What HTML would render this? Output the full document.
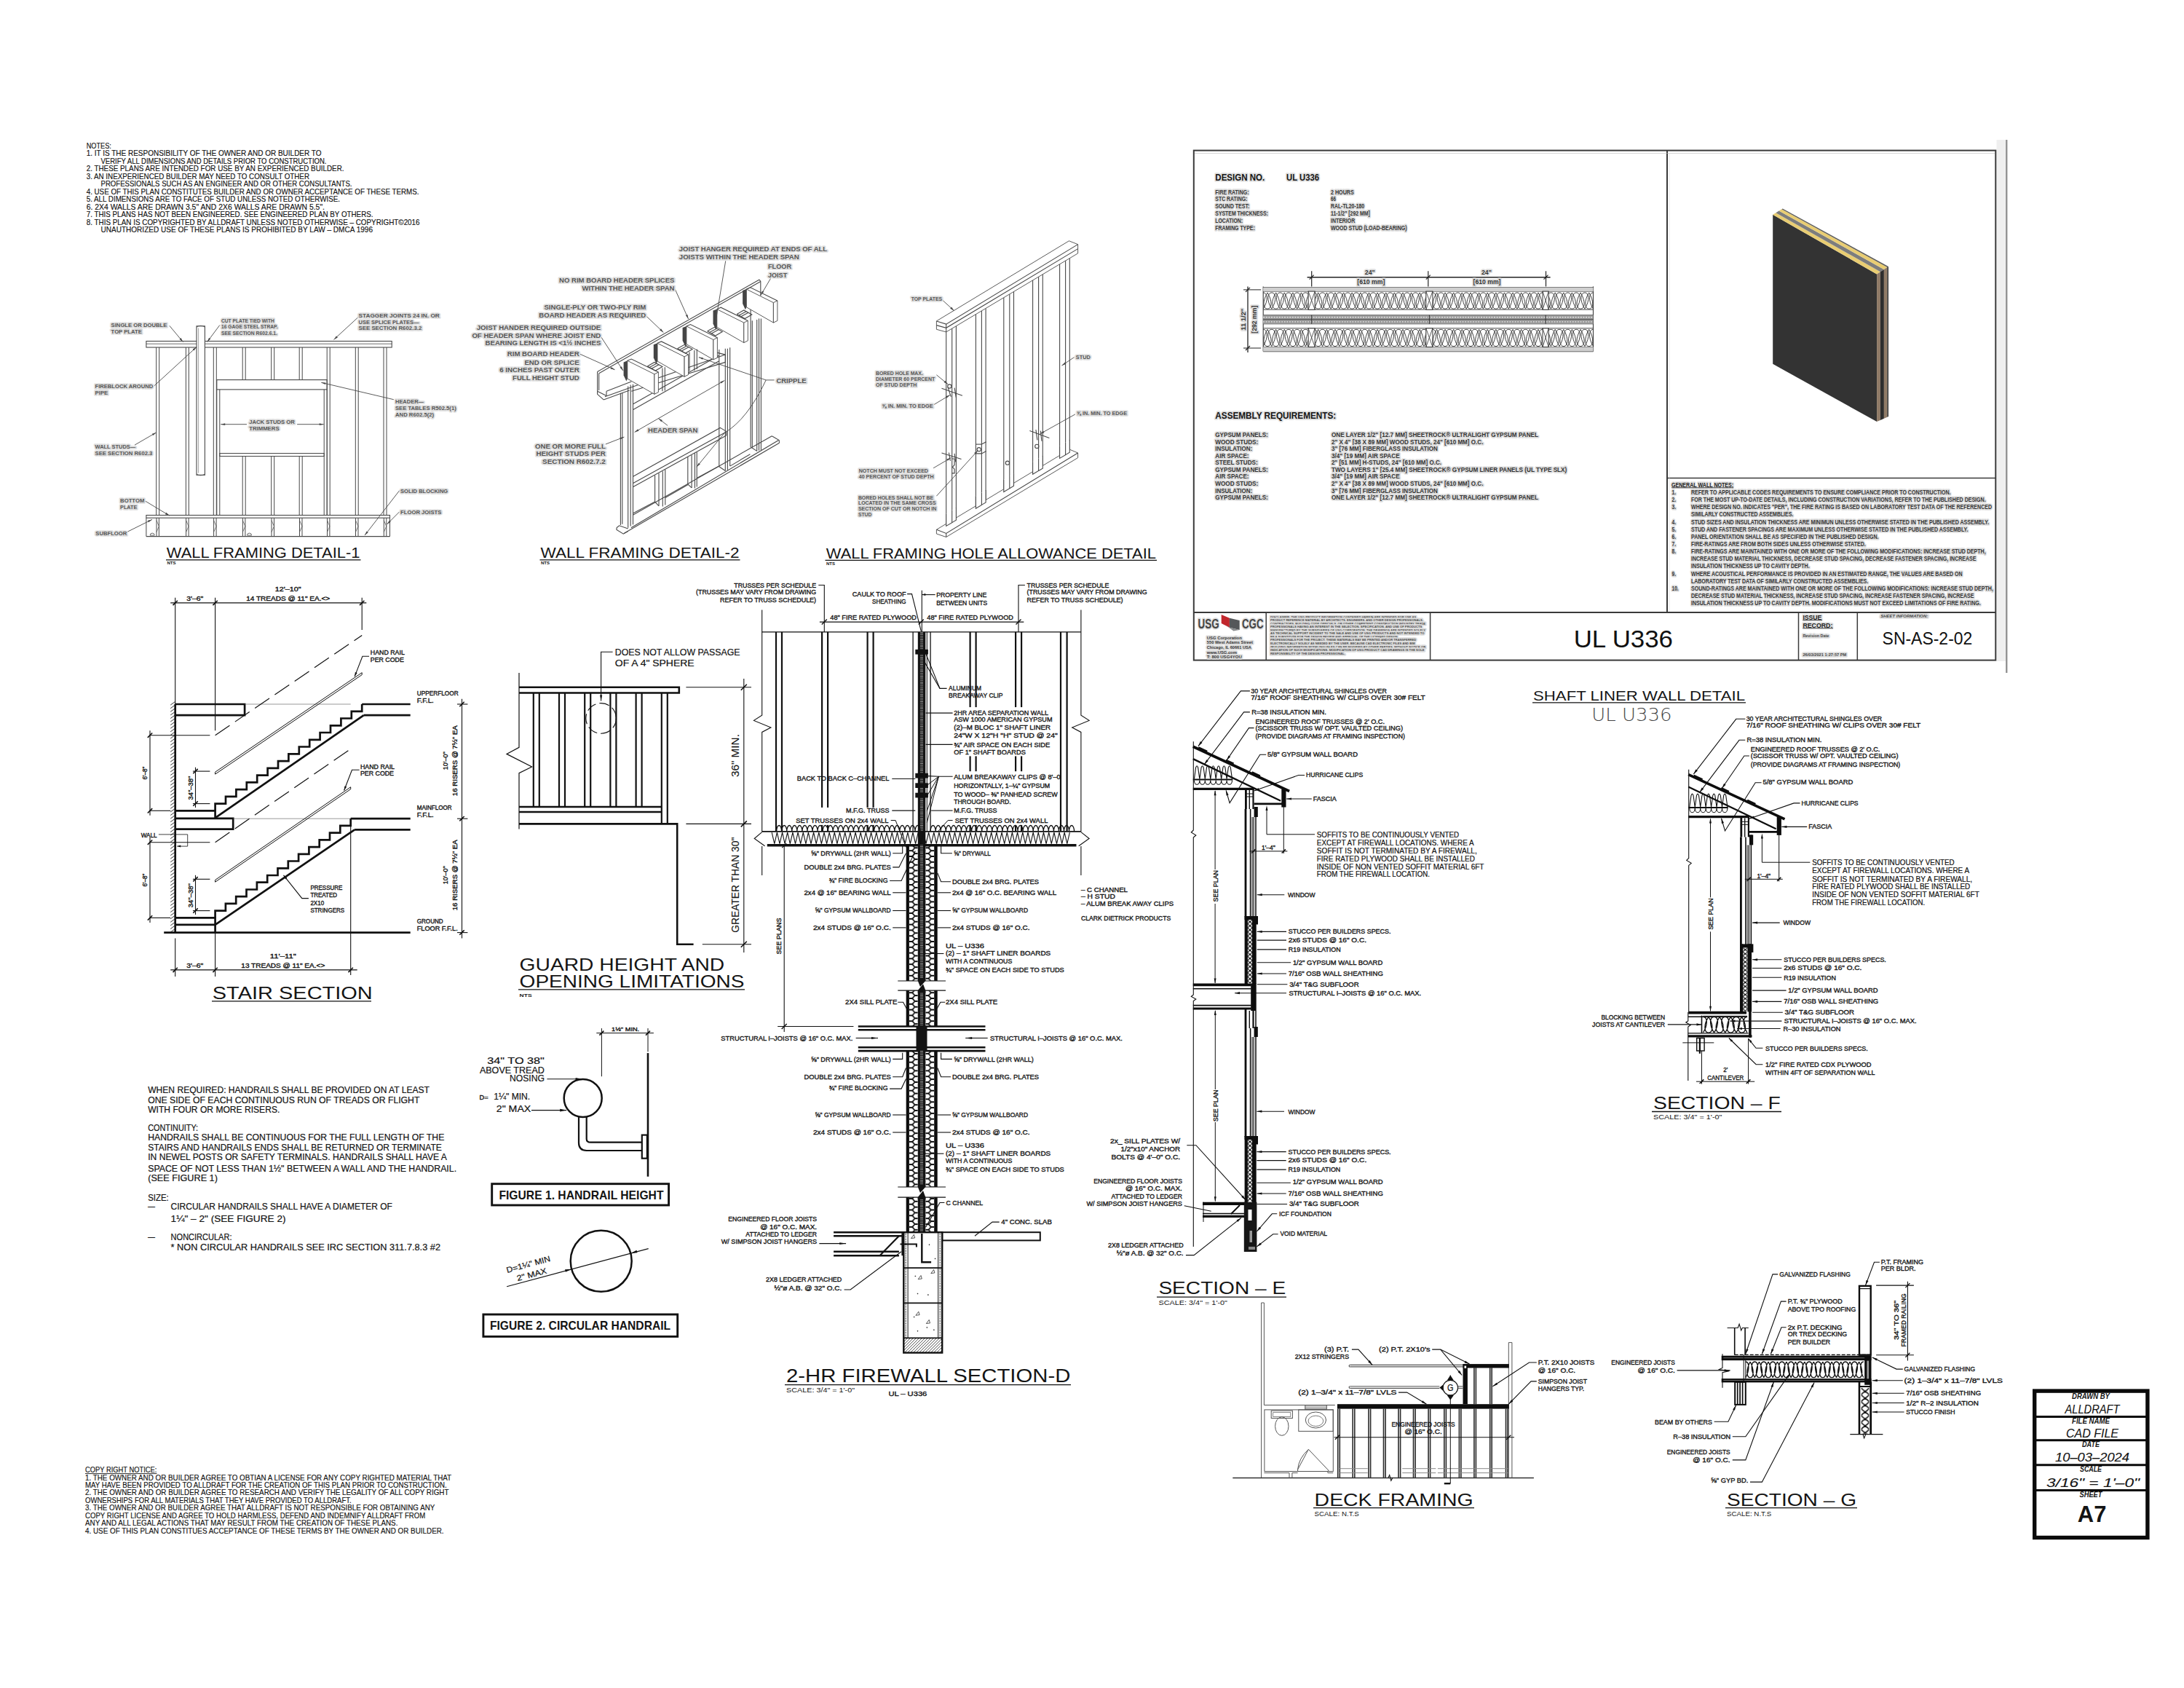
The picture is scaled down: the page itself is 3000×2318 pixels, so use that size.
<!DOCTYPE html>
<html><head><meta charset="utf-8"><title>A7 Details</title>
<style>
html,body{margin:0;padding:0;background:#fff}
svg{display:block}
text{font-family:"Liberation Sans",sans-serif;fill:#141414;stroke:#141414;stroke-width:.36px}
.nb text,text.nb,text[font-weight=bold]{stroke:none}
.ttl{stroke:none;fill:#151515}
.med text{stroke-width:.16px}
.gt text{stroke:none}
.halo text{paint-order:stroke;stroke:#dedede;stroke-width:3.6px;stroke-linejoin:round}
.thin{font-family:"DejaVu Sans","Liberation Sans",sans-serif;font-weight:200;stroke:none}
.t{font-family:"Liberation Sans",sans-serif;fill:#1a1a1a}
</style></head><body>
<svg width="3000" height="2318" viewBox="0 0 3000 2318" fill="none" stroke="#111" stroke-width="1" font-family="Liberation Sans, sans-serif">
<defs>
<pattern id="dg" width="4" height="4" patternUnits="userSpaceOnUse"><path d="M-1 5 L5 -1 M-1 1 L1 -1 M3 5 L5 3" stroke="#111" stroke-width="0.7" fill="none"/></pattern>
<pattern id="hc1" x="1248.9" y="1160.4" width="11.9" height="7.8" patternUnits="userSpaceOnUse"><path d="M0 0H4.2 L7.7 3.9 H11.9 M7.7 3.9 L4.2 7.8 M0 7.8 H4.2" stroke="#0c0c0c" stroke-width="1.8" fill="none" stroke-linejoin="round"/></pattern>
<pattern id="hc2" x="1271.3" y="1160.4" width="11.9" height="7.8" patternUnits="userSpaceOnUse"><path d="M11.9 0H7.7 L4.2 3.9 H0 M4.2 3.9 L7.7 7.8 M11.9 7.8 H7.7" stroke="#0c0c0c" stroke-width="1.8" fill="none" stroke-linejoin="round"/></pattern>
<pattern id="hc3" x="1248.9" y="1443.1" width="11.9" height="7.8" patternUnits="userSpaceOnUse"><path d="M0 0H4.2 L7.7 3.9 H11.9 M7.7 3.9 L4.2 7.8 M0 7.8 H4.2" stroke="#0c0c0c" stroke-width="1.8" fill="none" stroke-linejoin="round"/></pattern>
<pattern id="hc4" x="1271.3" y="1443.1" width="11.9" height="7.8" patternUnits="userSpaceOnUse"><path d="M11.9 0H7.7 L4.2 3.9 H0 M4.2 3.9 L7.7 7.8 M11.9 7.8 H7.7" stroke="#0c0c0c" stroke-width="1.8" fill="none" stroke-linejoin="round"/></pattern>
<pattern id="xh5" x="1713.9" y="1263" width="6.1" height="5.6" patternUnits="userSpaceOnUse"><path d="M0 0 C0.6 1.7 5.5 3.9 6.1 5.6 M6.1 0 C5.5 1.7 0.6 3.9 0 5.6" stroke="#0c0c0c" stroke-width="1.2" fill="none"/></pattern>
<pattern id="xh6" x="1713.9" y="1565" width="6.1" height="5.6" patternUnits="userSpaceOnUse"><path d="M0 0 C0.6 1.7 5.5 3.9 6.1 5.6 M6.1 0 C5.5 1.7 0.6 3.9 0 5.6" stroke="#0c0c0c" stroke-width="1.2" fill="none"/></pattern>
<pattern id="xh7" x="1713.9" y="1263" width="6.1" height="5.6" patternUnits="userSpaceOnUse"><path d="M0 0 C0.6 1.7 5.5 3.9 6.1 5.6 M6.1 0 C5.5 1.7 0.6 3.9 0 5.6" stroke="#0c0c0c" stroke-width="1.2" fill="none"/></pattern>
<pattern id="xh8" x="2556.7" y="1905.8" width="10.6" height="9.5" patternUnits="userSpaceOnUse"><path d="M0 0 C1.1 2.9 9.6 6.6 10.6 9.5 M10.6 0 C9.6 2.9 1.1 6.6 0 9.5" stroke="#0c0c0c" stroke-width="1.6" fill="none"/></pattern>
</defs>
<rect x="0" y="0" width="3000" height="2318" fill="#fff" stroke="none"/>
<g class="med">
<text x="118.7" y="203.9" font-size="10.8" textLength="34.2" lengthAdjust="spacingAndGlyphs">NOTES:</text>
<text x="118.7" y="214.4" font-size="10.8" textLength="322.8" lengthAdjust="spacingAndGlyphs">1. IT IS THE RESPONSIBILITY OF THE OWNER AND OR BUILDER TO</text>
<text x="138.5" y="224.9" font-size="10.8" textLength="310" lengthAdjust="spacingAndGlyphs">VERIFY ALL DIMENSIONS AND DETAILS PRIOR TO CONSTRUCTION.</text>
<text x="118.7" y="235.4" font-size="10.8" textLength="353.8" lengthAdjust="spacingAndGlyphs">2. THESE PLANS ARE INTENDED FOR USE BY AN EXPERIENCED BUILDER.</text>
<text x="118.7" y="245.9" font-size="10.8" textLength="306.3" lengthAdjust="spacingAndGlyphs">3. AN INEXPERIENCED BUILDER MAY NEED TO CONSULT OTHER</text>
<text x="138.5" y="256.4" font-size="10.8" textLength="345" lengthAdjust="spacingAndGlyphs">PROFESSIONALS SUCH AS AN ENGINEER AND OR OTHER CONSULTANTS.</text>
<text x="118.7" y="266.8" font-size="10.8" textLength="456.8" lengthAdjust="spacingAndGlyphs">4. USE OF THIS PLAN CONSTITUTES BUILDER AND OR OWNER ACCEPTANCE OF THESE TERMS.</text>
<text x="118.7" y="277.3" font-size="10.8" textLength="348.3" lengthAdjust="spacingAndGlyphs">5. ALL DIMENSIONS ARE TO FACE OF STUD UNLESS NOTED OTHERWISE.</text>
<text x="118.7" y="287.8" font-size="10.8" textLength="327.3" lengthAdjust="spacingAndGlyphs">6. 2X4 WALLS ARE DRAWN 3.5" AND 2X6 WALLS ARE DRAWN 5.5".</text>
<text x="118.7" y="298.3" font-size="10.8" textLength="393.8" lengthAdjust="spacingAndGlyphs">7. THIS PLANS HAS NOT BEEN ENGINEERED. SEE ENGINEERED PLAN BY OTHERS.</text>
<text x="118.7" y="308.8" font-size="10.8" textLength="457.9" lengthAdjust="spacingAndGlyphs">8. THIS PLAN IS COPYRIGHTED BY ALLDRAFT UNLESS NOTED OTHERWISE – COPYRIGHT©2016</text>
<text x="138.5" y="319.3" font-size="10.8" textLength="373.5" lengthAdjust="spacingAndGlyphs">UNAUTHORIZED USE OF THESE PLANS IS PROHIBITED BY LAW – DMCA 1996</text>
</g>
<g class="med">
<text x="117" y="2022" font-size="10.8" textLength="98.4" lengthAdjust="spacingAndGlyphs">COPY RIGHT NOTICE:</text>
<text x="117" y="2032.5" font-size="10.8" textLength="503.1" lengthAdjust="spacingAndGlyphs">1. THE OWNER AND OR BUILDER AGREE TO OBTIAN A LICENSE FOR ANY COPY RIGHTED MATERIAL THAT</text>
<text x="117" y="2043" font-size="10.8" textLength="496.7" lengthAdjust="spacingAndGlyphs">MAY HAVE BEEN PROVIDED TO ALLDRAFT FOR THE CREATION OF THIS PLAN PRIOR TO CONSTRUCTION.</text>
<text x="117" y="2053.4" font-size="10.8" textLength="499.5" lengthAdjust="spacingAndGlyphs">2. THE OWNER AND OR BUILDER AGREE TO RESEARCH AND VERIFY THE LEGALITY OF ALL COPY RIGHT</text>
<text x="117" y="2063.9" font-size="10.8" textLength="365.7" lengthAdjust="spacingAndGlyphs">OWNERSHIPS FOR ALL MATERIALS THAT THEY HAVE PROVIDED TO ALLDRAFT.</text>
<text x="117" y="2074.4" font-size="10.8" textLength="480.3" lengthAdjust="spacingAndGlyphs">3. THE OWNER AND OR BUILDER AGREE THAT ALLDRAFT IS NOT RESPONSIBLE FOR OBTAINING ANY</text>
<text x="117" y="2084.9" font-size="10.8" textLength="467.3" lengthAdjust="spacingAndGlyphs">COPY RIGHT LICENSE AND AGREE TO HOLD HARMLESS, DEFEND AND INDEMNIFY ALLDRAFT FROM</text>
<text x="117" y="2095.4" font-size="10.8" textLength="429.4" lengthAdjust="spacingAndGlyphs">ANY AND ALL LEGAL ACTIONS THAT MAY RESULT FROM THE CREATION OF THESE PLANS.</text>
<text x="117" y="2105.8" font-size="10.8" textLength="492.6" lengthAdjust="spacingAndGlyphs">4. USE OF THIS PLAN CONSTITUES ACCEPTANCE OF THESE TERMS BY THE OWNER AND OR BUILDER.</text>
</g>
<line x1="117" y1="2023.6" x2="215.4" y2="2023.6" stroke-width="0.9"/>
<rect x="2794.7" y="1910.1" width="155.2" height="201.4" stroke-width="5.4" stroke="#0a0a0a"/>
<line x1="2794.7" y1="1945.5" x2="2949.9" y2="1945.5" stroke-width="3" stroke="#0a0a0a"/>
<line x1="2794.7" y1="1977.8" x2="2949.9" y2="1977.8" stroke-width="3" stroke="#0a0a0a"/>
<line x1="2794.7" y1="2011.7" x2="2949.9" y2="2011.7" stroke-width="3" stroke="#0a0a0a"/>
<line x1="2794.7" y1="2046.4" x2="2949.9" y2="2046.4" stroke-width="3" stroke="#0a0a0a"/>
<text x="2872" y="1920.8" font-size="10" textLength="52" lengthAdjust="spacingAndGlyphs" text-anchor="middle" font-weight="bold" font-style="italic">DRAWN BY</text>
<text x="2874" y="1940.9" font-size="16" textLength="75" lengthAdjust="spacingAndGlyphs" text-anchor="middle" font-style="italic" style="stroke-width:.12px">ALLDRAFT</text>
<text x="2872" y="1954.7" font-size="10" textLength="52" lengthAdjust="spacingAndGlyphs" text-anchor="middle" font-weight="bold" font-style="italic">FILE NAME</text>
<text x="2874" y="1973.7" font-size="16" textLength="72" lengthAdjust="spacingAndGlyphs" text-anchor="middle" font-style="italic" style="stroke-width:.12px">CAD FILE</text>
<text x="2872" y="1987" font-size="10" textLength="24" lengthAdjust="spacingAndGlyphs" text-anchor="middle" font-weight="bold" font-style="italic">DATE</text>
<text x="2874" y="2006.7" font-size="16" textLength="102" lengthAdjust="spacingAndGlyphs" text-anchor="middle" font-style="italic" style="stroke-width:.12px">10–03–2024</text>
<text x="2872" y="2021" font-size="10" textLength="30" lengthAdjust="spacingAndGlyphs" text-anchor="middle" font-weight="bold" font-style="italic">SCALE</text>
<text x="2875" y="2041.8" font-size="16" textLength="128" lengthAdjust="spacingAndGlyphs" text-anchor="middle" font-style="italic" style="stroke-width:.12px">3/16" = 1'–0"</text>
<text x="2872" y="2055.7" font-size="10" textLength="31" lengthAdjust="spacingAndGlyphs" text-anchor="middle" font-weight="bold" font-style="italic">SHEET</text>
<text x="2873.6" y="2089.5" font-size="32" textLength="39.5" lengthAdjust="spacingAndGlyphs" text-anchor="middle" font-weight="bold">A7</text>
<g stroke="#3a3a3a" stroke-width="1">
<line x1="234.2" y1="968.1" x2="240.7" y2="963.4"/>
<line x1="234.2" y1="972.7" x2="240.7" y2="968"/>
<line x1="234.2" y1="977.3" x2="240.7" y2="972.6"/>
<line x1="234.2" y1="981.9" x2="240.7" y2="977.2"/>
<line x1="234.2" y1="986.5" x2="240.7" y2="981.8"/>
<line x1="234.2" y1="991" x2="240.7" y2="986.4"/>
<line x1="234.2" y1="995.6" x2="240.7" y2="990.9"/>
<line x1="234.2" y1="1000.2" x2="240.7" y2="995.5"/>
<line x1="234.2" y1="1004.8" x2="240.7" y2="1000.1"/>
<line x1="234.2" y1="1009.4" x2="240.7" y2="1004.7"/>
<line x1="234.2" y1="1014" x2="240.7" y2="1009.3"/>
<line x1="234.2" y1="1018.6" x2="240.7" y2="1013.9"/>
<line x1="234.2" y1="1023.2" x2="240.7" y2="1018.5"/>
<line x1="234.2" y1="1027.8" x2="240.7" y2="1023.1"/>
<line x1="234.2" y1="1032.3" x2="240.7" y2="1027.6"/>
<line x1="234.2" y1="1036.9" x2="240.7" y2="1032.2"/>
<line x1="234.2" y1="1041.5" x2="240.7" y2="1036.8"/>
<line x1="234.2" y1="1046.1" x2="240.7" y2="1041.4"/>
<line x1="234.2" y1="1050.7" x2="240.7" y2="1046"/>
<line x1="234.2" y1="1055.3" x2="240.7" y2="1050.6"/>
<line x1="234.2" y1="1059.9" x2="240.7" y2="1055.2"/>
<line x1="234.2" y1="1064.5" x2="240.7" y2="1059.8"/>
<line x1="234.2" y1="1069" x2="240.7" y2="1064.3"/>
<line x1="234.2" y1="1073.6" x2="240.7" y2="1068.9"/>
<line x1="234.2" y1="1078.2" x2="240.7" y2="1073.5"/>
<line x1="234.2" y1="1082.8" x2="240.7" y2="1078.1"/>
<line x1="234.2" y1="1087.4" x2="240.7" y2="1082.7"/>
<line x1="234.2" y1="1092" x2="240.7" y2="1087.3"/>
<line x1="234.2" y1="1096.6" x2="240.7" y2="1091.9"/>
<line x1="234.2" y1="1101.2" x2="240.7" y2="1096.5"/>
<line x1="234.2" y1="1105.8" x2="240.7" y2="1101.1"/>
<line x1="234.2" y1="1110.3" x2="240.7" y2="1105.6"/>
<line x1="234.2" y1="1114.9" x2="240.7" y2="1110.2"/>
<line x1="234.2" y1="1119.5" x2="240.7" y2="1114.8"/>
<line x1="234.2" y1="1124.1" x2="240.7" y2="1119.4"/>
<line x1="234.2" y1="1128.7" x2="240.7" y2="1124"/>
<line x1="234.2" y1="1133.3" x2="240.7" y2="1128.6"/>
<line x1="234.2" y1="1137.9" x2="240.7" y2="1133.2"/>
<line x1="234.2" y1="1142.5" x2="240.7" y2="1137.8"/>
<line x1="234.2" y1="1147" x2="240.7" y2="1142.3"/>
<line x1="234.2" y1="1151.6" x2="240.7" y2="1146.9"/>
<line x1="234.2" y1="1156.2" x2="240.7" y2="1151.5"/>
<line x1="234.2" y1="1160.8" x2="240.7" y2="1156.1"/>
<line x1="234.2" y1="1165.4" x2="240.7" y2="1160.7"/>
<line x1="234.2" y1="1170" x2="240.7" y2="1165.3"/>
<line x1="234.2" y1="1174.6" x2="240.7" y2="1169.9"/>
<line x1="234.2" y1="1179.2" x2="240.7" y2="1174.5"/>
<line x1="234.2" y1="1183.8" x2="240.7" y2="1179.1"/>
<line x1="234.2" y1="1188.3" x2="240.7" y2="1183.6"/>
<line x1="234.2" y1="1192.9" x2="240.7" y2="1188.2"/>
<line x1="234.2" y1="1197.5" x2="240.7" y2="1192.8"/>
<line x1="234.2" y1="1202.1" x2="240.7" y2="1197.4"/>
<line x1="234.2" y1="1206.7" x2="240.7" y2="1202"/>
<line x1="234.2" y1="1211.3" x2="240.7" y2="1206.6"/>
<line x1="234.2" y1="1215.9" x2="240.7" y2="1211.2"/>
<line x1="234.2" y1="1220.5" x2="240.7" y2="1215.8"/>
<line x1="234.2" y1="1225" x2="240.7" y2="1220.3"/>
<line x1="234.2" y1="1229.6" x2="240.7" y2="1224.9"/>
<line x1="234.2" y1="1234.2" x2="240.7" y2="1229.5"/>
<line x1="234.2" y1="1238.8" x2="240.7" y2="1234.1"/>
<line x1="234.2" y1="1243.4" x2="240.7" y2="1238.7"/>
<line x1="234.2" y1="1248" x2="240.7" y2="1243.3"/>
<line x1="234.2" y1="1252.6" x2="240.7" y2="1247.9"/>
<line x1="234.2" y1="1257.2" x2="240.7" y2="1252.5"/>
<line x1="234.2" y1="1261.7" x2="240.7" y2="1257.1"/>
<line x1="234.2" y1="1266.3" x2="240.7" y2="1261.6"/>
<line x1="234.2" y1="1270.9" x2="240.7" y2="1266.2"/>
<line x1="234.2" y1="1275.5" x2="240.7" y2="1270.8"/>
<line x1="234.2" y1="1280.1" x2="240.7" y2="1275.4"/>
</g>
<line x1="240.7" y1="967" x2="240.7" y2="1280.6" stroke-width="2.7"/>
<line x1="234.2" y1="827.9" x2="503.3" y2="827.9" stroke-width="1.1"/>
<line x1="237.5" y1="831.1" x2="243.9" y2="824.7" stroke-width="1.6"/>
<line x1="292.4" y1="831.1" x2="298.8" y2="824.7" stroke-width="1.6"/>
<line x1="494" y1="831.1" x2="500.4" y2="824.7" stroke-width="1.6"/>
<line x1="240.7" y1="820.7" x2="240.7" y2="967" stroke-width="1.1"/>
<line x1="295.6" y1="820.7" x2="295.6" y2="1003.2" stroke-width="1.1"/>
<line x1="497.2" y1="820.7" x2="497.2" y2="865.1" stroke-width="1.1"/>
<text x="267.8" y="825" font-size="8.6" textLength="23" lengthAdjust="spacingAndGlyphs" text-anchor="middle">3'–6"</text>
<text x="395.7" y="811.7" font-size="8.6" textLength="36" lengthAdjust="spacingAndGlyphs" text-anchor="middle">12'–10"</text>
<text x="395.7" y="825" font-size="8.6" textLength="115" lengthAdjust="spacingAndGlyphs" text-anchor="middle">14 TREADS @ 11" EA.&lt;&gt;</text>
<polyline points="240.7,967 336.1,967 336.1,982.2 240.7,982.2" stroke-width="2.7"/>
<line x1="336.1" y1="967" x2="481.7" y2="967" stroke-width="0.6" stroke="#555"/>
<polyline points="497.2,967 563.7,967" stroke-width="2.7"/>
<polyline points="499.7,982.2 563.7,982.2" stroke-width="2.7"/>
<polyline points="295.6,1113.3 295.6,1103.6 310,1103.6 310,1093.8 324.4,1093.8 324.4,1084.1 338.8,1084.1 338.8,1074.3 353.2,1074.3 353.2,1064.6 367.6,1064.6 367.6,1054.8 382,1054.8 382,1045.1 396.4,1045.1 396.4,1035.3 410.8,1035.3 410.8,1025.5 425.2,1025.5 425.2,1015.8 439.6,1015.8 439.6,1006 454,1006 454,996.3 468.4,996.3 468.4,986.5 482.8,986.5 482.8,976.8 497.2,976.8 497.2,967" stroke-width="2.7"/>
<polyline points="295.6,1123.1 499.7,982.2" stroke-width="2.7"/>
<polyline points="240.7,1113.3 295.6,1113.3 295.6,1123.8" stroke-width="2.7"/>
<polyline points="240.7,1123.8 320.2,1123.8 320.2,1138.6 240.7,1138.6" stroke-width="2.7"/>
<line x1="320.2" y1="1124.2" x2="563.7" y2="1124.2" stroke-width="0.6" stroke="#555"/>
<polyline points="481.7,1124.2 563.7,1124.2" stroke-width="2.7"/>
<polyline points="487.1,1139.3 563.7,1139.3" stroke-width="2.7"/>
<polyline points="295.6,1260.4 295.6,1250.6 309.9,1250.6 309.9,1240.9 324.2,1240.9 324.2,1231.2 338.5,1231.2 338.5,1221.5 352.9,1221.5 352.9,1211.7 367.2,1211.7 367.2,1202 381.5,1202 381.5,1192.3 395.8,1192.3 395.8,1182.5 410.1,1182.5 410.1,1172.8 424.4,1172.8 424.4,1163.1 438.7,1163.1 438.7,1153.4 453,1153.4 453,1143.6 467.3,1143.6 467.3,1133.9 481.7,1133.9 481.7,1124.2" stroke-width="2.7"/>
<polyline points="295.6,1269.8 487.1,1139.3" stroke-width="2.7"/>
<polyline points="240.7,1260.4 295.6,1260.4 295.6,1280.6" stroke-width="2.7"/>
<line x1="240.7" y1="1269.8" x2="295.6" y2="1269.8" stroke-width="2.7"/>
<line x1="225.2" y1="1280.6" x2="563.7" y2="1280.6" stroke-width="2.9"/>
<line x1="481.7" y1="1124.2" x2="481.7" y2="1339.1" stroke-width="1.1"/>
<polygon points="295.6,1060.2 497.2,923.7 497.2,926.6 295.6,1063.1"/>
<polygon points="295.6,1208.4 481.7,1080.8 481.7,1083.7 295.6,1211.2"/>
<line x1="295.6" y1="1009.7" x2="497.2" y2="872.4" stroke-width="1.2" stroke-dasharray="24 9"/>
<line x1="295.6" y1="1156.7" x2="481.7" y2="1028.4" stroke-width="1.2" stroke-dasharray="24 9"/>
<line x1="205.3" y1="1009.7" x2="288.4" y2="1009.7" stroke-width="1.1"/>
<line x1="205.3" y1="1113.3" x2="234.2" y2="1113.3" stroke-width="1.1"/>
<line x1="205.3" y1="1156.7" x2="288.4" y2="1156.7" stroke-width="1.1"/>
<line x1="205.3" y1="1260.4" x2="234.2" y2="1260.4" stroke-width="1.1"/>
<line x1="206" y1="1003.2" x2="206" y2="1119.8" stroke-width="1.1"/>
<line x1="202.8" y1="1012.9" x2="209.2" y2="1006.5" stroke-width="1.6"/>
<line x1="202.8" y1="1116.5" x2="209.2" y2="1110.1" stroke-width="1.6"/>
<text x="202.4" y="1061.5" font-size="8.6" textLength="18" lengthAdjust="spacingAndGlyphs" text-anchor="middle" transform="rotate(-90 202.4 1061.5)">6'–8"</text>
<line x1="206" y1="1150.2" x2="206" y2="1266.9" stroke-width="1.1"/>
<line x1="202.8" y1="1159.9" x2="209.2" y2="1153.5" stroke-width="1.6"/>
<line x1="202.8" y1="1263.6" x2="209.2" y2="1257.2" stroke-width="1.6"/>
<text x="202.4" y="1208.5" font-size="8.6" textLength="18" lengthAdjust="spacingAndGlyphs" text-anchor="middle" transform="rotate(-90 202.4 1208.5)">6'–8"</text>
<line x1="268.5" y1="1053.7" x2="268.5" y2="1109" stroke-width="1.1"/>
<line x1="265.3" y1="1062.3" x2="271.7" y2="1055.9" stroke-width="1.6"/>
<line x1="265.3" y1="1106.8" x2="271.7" y2="1100.4" stroke-width="1.6"/>
<line x1="264.9" y1="1059.1" x2="288.4" y2="1059.1" stroke-width="1.1"/>
<line x1="264.9" y1="1103.6" x2="288.4" y2="1103.6" stroke-width="1.1"/>
<text x="265.3" y="1082.1" font-size="8.6" textLength="33" lengthAdjust="spacingAndGlyphs" text-anchor="middle" transform="rotate(-90 265.3 1082.1)">34"–38"</text>
<line x1="268.5" y1="1201.8" x2="268.5" y2="1256" stroke-width="1.1"/>
<line x1="265.3" y1="1210.5" x2="271.7" y2="1204.1" stroke-width="1.6"/>
<line x1="265.3" y1="1253.8" x2="271.7" y2="1247.4" stroke-width="1.6"/>
<line x1="264.9" y1="1207.3" x2="288.4" y2="1207.3" stroke-width="1.1"/>
<line x1="264.9" y1="1250.6" x2="288.4" y2="1250.6" stroke-width="1.1"/>
<text x="265.3" y="1229.7" font-size="8.6" textLength="33" lengthAdjust="spacingAndGlyphs" text-anchor="middle" transform="rotate(-90 265.3 1229.7)">34"–38"</text>
<line x1="634.5" y1="959.8" x2="634.5" y2="1288.6" stroke-width="1.1"/>
<line x1="631.3" y1="970.2" x2="637.7" y2="963.8" stroke-width="1.6"/>
<line x1="628" y1="967" x2="642.4" y2="967" stroke-width="1.1"/>
<line x1="631.3" y1="1127.4" x2="637.7" y2="1121" stroke-width="1.6"/>
<line x1="628" y1="1124.2" x2="642.4" y2="1124.2" stroke-width="1.1"/>
<line x1="631.3" y1="1283.8" x2="637.7" y2="1277.4" stroke-width="1.6"/>
<line x1="628" y1="1280.6" x2="642.4" y2="1280.6" stroke-width="1.1"/>
<text x="615.3" y="1044.7" font-size="8.6" textLength="25" lengthAdjust="spacingAndGlyphs" text-anchor="middle" transform="rotate(-90 615.3 1044.7)">10'–0"</text>
<text x="628" y="1044.7" font-size="8.6" textLength="97" lengthAdjust="spacingAndGlyphs" text-anchor="middle" transform="rotate(-90 628 1044.7)">16 RISERS @ 7½" EA</text>
<text x="615.3" y="1201.8" font-size="8.6" textLength="25" lengthAdjust="spacingAndGlyphs" text-anchor="middle" transform="rotate(-90 615.3 1201.8)">10'–0"</text>
<text x="628" y="1201.8" font-size="8.6" textLength="97" lengthAdjust="spacingAndGlyphs" text-anchor="middle" transform="rotate(-90 628 1201.8)">16 RISERS @ 7½" EA</text>
<text x="572.7" y="955.1" font-size="8.6" textLength="57" lengthAdjust="spacingAndGlyphs">UPPERFLOOR</text>
<text x="572.7" y="964.9" font-size="8.6" textLength="23" lengthAdjust="spacingAndGlyphs">F.F.L.</text>
<text x="572.7" y="1112.3" font-size="8.6" textLength="48" lengthAdjust="spacingAndGlyphs">MAINFLOOR</text>
<text x="572.7" y="1122" font-size="8.6" textLength="23" lengthAdjust="spacingAndGlyphs">F.F.L.</text>
<text x="572.7" y="1267.6" font-size="8.6" textLength="36" lengthAdjust="spacingAndGlyphs">GROUND</text>
<text x="572.7" y="1277.7" font-size="8.6" textLength="56" lengthAdjust="spacingAndGlyphs">FLOOR F.F.L.</text>
<text x="508.8" y="899.1" font-size="8.6" textLength="47" lengthAdjust="spacingAndGlyphs">HAND RAIL</text>
<text x="508.8" y="909.2" font-size="8.6" textLength="46" lengthAdjust="spacingAndGlyphs">PER CODE</text>
<polyline points="507,901.3 497.9,901.3 487.1,929.1" stroke-width="1.1"/>
<polygon points="487.1,929.1 487.9,923 490.7,924" fill="#111" stroke="none"/>
<text x="495" y="1055.5" font-size="8.6" textLength="47" lengthAdjust="spacingAndGlyphs">HAND RAIL</text>
<text x="495" y="1065.3" font-size="8.6" textLength="46" lengthAdjust="spacingAndGlyphs">PER CODE</text>
<polyline points="493.6,1057.3 483.5,1057.3 472.6,1085.5" stroke-width="1.1"/>
<polygon points="472.6,1085.5 473.4,1079.4 476.2,1080.5" fill="#111" stroke="none"/>
<text x="426.4" y="1222.4" font-size="8.6" textLength="44" lengthAdjust="spacingAndGlyphs">PRESSURE</text>
<text x="426.4" y="1232.4" font-size="8.6" textLength="36.7" lengthAdjust="spacingAndGlyphs">TREATED</text>
<text x="426.4" y="1242.5" font-size="8.6" textLength="18.7" lengthAdjust="spacingAndGlyphs">2X10</text>
<text x="426.4" y="1252.5" font-size="8.6" textLength="46.7" lengthAdjust="spacingAndGlyphs">STRINGERS</text>
<polyline points="423.9,1233.6 414.8,1233.6 389.5,1201.8" stroke-width="1.1"/>
<polygon points="389.5,1201.8 394.4,1205.6 392.1,1207.5" fill="#111" stroke="none"/>
<text x="193.7" y="1149.5" font-size="8.6" textLength="22" lengthAdjust="spacingAndGlyphs">WALL</text>
<polyline points="217.9,1145.9 257.7,1145.9 257.7,1162.1 243.2,1162.1" stroke-width="0.8"/>
<polygon points="243.2,1162.1 248.2,1160.6 248.2,1163.6" fill="#111" stroke="none"/>
<line x1="234.2" y1="1331.9" x2="490.7" y2="1331.9" stroke-width="1.1"/>
<line x1="237.5" y1="1335.1" x2="243.9" y2="1328.7" stroke-width="1.6"/>
<line x1="292.4" y1="1335.1" x2="298.8" y2="1328.7" stroke-width="1.6"/>
<line x1="478.5" y1="1335.1" x2="484.9" y2="1328.7" stroke-width="1.6"/>
<line x1="240.7" y1="1288.6" x2="240.7" y2="1340.9" stroke-width="1.1"/>
<line x1="295.6" y1="1280.6" x2="295.6" y2="1340.9" stroke-width="1.1"/>
<text x="267.8" y="1329" font-size="8.6" textLength="23" lengthAdjust="spacingAndGlyphs" text-anchor="middle">3'–6"</text>
<text x="388.8" y="1316.4" font-size="8.6" textLength="36" lengthAdjust="spacingAndGlyphs" text-anchor="middle">11'–11"</text>
<text x="388.8" y="1329" font-size="8.6" textLength="115" lengthAdjust="spacingAndGlyphs" text-anchor="middle">13 TREADS @ 11" EA.&lt;&gt;</text>
<text x="291.8" y="1371.7" font-size="24" textLength="220" lengthAdjust="spacingAndGlyphs" class="ttl">STAIR SECTION</text>
<line x1="291" y1="1374.8" x2="510" y2="1374.8" stroke-width="1.3"/>
<polyline points="713,924 713,1026.4 696,1035.4 730.6,1053 713,1061.6 713,1138.4" stroke-width="1.2"/>
<polyline points="713,943.8 932.8,943.8 932.8,951.5 713,951.5" stroke-width="2.6"/>
<line x1="713" y1="1108" x2="908.8" y2="1108" stroke-width="2.6"/>
<line x1="713" y1="1115" x2="908.8" y2="1115" stroke-width="2.6"/>
<polyline points="713,1131.4 930.2,1131.4 930.2,1296.8 952.6,1296.8" stroke-width="2.6"/>
<line x1="732.8" y1="951.5" x2="732.8" y2="1108" stroke-width="2.2"/>
<line x1="740.8" y1="951.5" x2="740.8" y2="1108" stroke-width="2.2"/>
<line x1="768" y1="951.5" x2="768" y2="1108" stroke-width="2.2"/>
<line x1="776" y1="951.5" x2="776" y2="1108" stroke-width="2.2"/>
<line x1="803.2" y1="951.5" x2="803.2" y2="1108" stroke-width="2.2"/>
<line x1="811.2" y1="951.5" x2="811.2" y2="1108" stroke-width="2.2"/>
<line x1="838.4" y1="951.5" x2="838.4" y2="1108" stroke-width="2.2"/>
<line x1="846.4" y1="951.5" x2="846.4" y2="1108" stroke-width="2.2"/>
<line x1="873.6" y1="951.5" x2="873.6" y2="1108" stroke-width="2.2"/>
<line x1="881.6" y1="951.5" x2="881.6" y2="1108" stroke-width="2.2"/>
<line x1="908.8" y1="951.5" x2="908.8" y2="1131.4" stroke-width="2.2"/>
<line x1="916.8" y1="951.5" x2="916.8" y2="1131.4" stroke-width="2.2"/>
<circle cx="825.6" cy="986.4" r="20.8" stroke-width="1.1" stroke-dasharray="14 5"/>
<polyline points="841.6,895.2 825.6,895.2 825.6,962.4" stroke-width="1.1"/>
<polygon points="825.6,962.4 824,954.4 827.2,954.4" fill="#111" stroke="none"/>
<text x="844.8" y="900" font-size="13.2" textLength="171.8" lengthAdjust="spacingAndGlyphs" style="stroke-width:.22px">DOES NOT ALLOW PASSAGE</text>
<text x="844.8" y="915.4" font-size="13.2" textLength="108.8" lengthAdjust="spacingAndGlyphs" style="stroke-width:.22px">OF A 4" SPHERE</text>
<line x1="1021.8" y1="932" x2="1021.8" y2="1308" stroke-width="1.1"/>
<line x1="942.4" y1="943.8" x2="1032" y2="943.8" stroke-width="1.1"/>
<line x1="1017.8" y1="947.8" x2="1025.8" y2="939.8" stroke-width="1.6"/>
<line x1="942.4" y1="1131.4" x2="1032" y2="1131.4" stroke-width="1.1"/>
<line x1="1017.8" y1="1135.4" x2="1025.8" y2="1127.4" stroke-width="1.6"/>
<line x1="964.8" y1="1296.8" x2="1032" y2="1296.8" stroke-width="1.1"/>
<line x1="1017.8" y1="1300.8" x2="1025.8" y2="1292.8" stroke-width="1.6"/>
<text x="1014.7" y="1037.6" font-size="15" textLength="59" lengthAdjust="spacingAndGlyphs" text-anchor="middle" style="stroke-width:.12px" transform="rotate(-90 1014.7 1037.6)">36" MIN.</text>
<text x="1014.7" y="1215.2" font-size="15" textLength="131" lengthAdjust="spacingAndGlyphs" text-anchor="middle" style="stroke-width:.12px" transform="rotate(-90 1014.7 1215.2)">GREATER THAN 30"</text>
<text x="713.6" y="1333" font-size="24" textLength="281.6" lengthAdjust="spacingAndGlyphs" class="ttl">GUARD HEIGHT AND</text>
<text x="713.6" y="1356" font-size="24" textLength="308.8" lengthAdjust="spacingAndGlyphs" class="ttl">OPENING LIMITATIONS</text>
<line x1="712" y1="1358.8" x2="1023" y2="1358.8" stroke-width="1.3"/>
<text x="713.6" y="1369" font-size="6" textLength="17" lengthAdjust="spacingAndGlyphs" font-weight="bold">NTS</text>
<text x="203.2" y="1501.4" font-size="13" textLength="386.8" lengthAdjust="spacingAndGlyphs" style="stroke-width:.22px">WHEN REQUIRED: HANDRAILS SHALL BE PROVIDED ON AT LEAST</text>
<text x="203.2" y="1514.6" font-size="13" textLength="373.2" lengthAdjust="spacingAndGlyphs" style="stroke-width:.22px">ONE SIDE OF EACH CONTINUOUS RUN OF TREADS OR FLIGHT</text>
<text x="203.2" y="1527.5" font-size="13" textLength="181.1" lengthAdjust="spacingAndGlyphs" style="stroke-width:.22px">WITH FOUR OR MORE RISERS.</text>
<text x="203.2" y="1553.2" font-size="13" textLength="68.9" lengthAdjust="spacingAndGlyphs" style="stroke-width:.22px">CONTINUITY:</text>
<text x="203.2" y="1566.4" font-size="13" textLength="407.1" lengthAdjust="spacingAndGlyphs" style="stroke-width:.22px">HANDRAILS SHALL BE CONTINUOUS FOR THE FULL LENGTH OF THE</text>
<text x="203.2" y="1580" font-size="13" textLength="403.6" lengthAdjust="spacingAndGlyphs" style="stroke-width:.22px">STAIRS AND HANDRAILS ENDS SHALL BE RETURNED OR TERMINATE</text>
<text x="203.2" y="1592.5" font-size="13" textLength="410.7" lengthAdjust="spacingAndGlyphs" style="stroke-width:.22px">IN NEWEL POSTS OR SAFETY TERMINALS. HANDRAILS SHALL HAVE A</text>
<text x="203.2" y="1608.6" font-size="13" textLength="423.9" lengthAdjust="spacingAndGlyphs" style="stroke-width:.22px">SPACE OF NOT LESS THAN 1½" BETWEEN A WALL AND THE HANDRAIL.</text>
<text x="203.2" y="1622.1" font-size="13" textLength="95.7" lengthAdjust="spacingAndGlyphs" style="stroke-width:.22px">(SEE FIGURE 1)</text>
<text x="203.2" y="1648.6" font-size="13" textLength="28.6" lengthAdjust="spacingAndGlyphs" style="stroke-width:.22px">SIZE:</text>
<text x="203.2" y="1661.4" font-size="13" textLength="9.6" lengthAdjust="spacingAndGlyphs" style="stroke-width:.22px">–</text>
<text x="234.6" y="1661.4" font-size="13" textLength="304.3" lengthAdjust="spacingAndGlyphs" style="stroke-width:.22px">CIRCULAR HANDRAILS SHALL HAVE A DIAMETER OF</text>
<text x="234.6" y="1677.5" font-size="13" textLength="157.9" lengthAdjust="spacingAndGlyphs" style="stroke-width:.22px">1¼" – 2" (SEE FIGURE 2)</text>
<text x="203.2" y="1702.5" font-size="13" textLength="9.6" lengthAdjust="spacingAndGlyphs" style="stroke-width:.22px">–</text>
<text x="234.6" y="1702.5" font-size="13" textLength="83.9" lengthAdjust="spacingAndGlyphs" style="stroke-width:.22px">NONCIRCULAR:</text>
<text x="234.6" y="1716.8" font-size="13" textLength="370.4" lengthAdjust="spacingAndGlyphs" style="stroke-width:.22px">* NON CIRCULAR HANDRAILS SEE IRC SECTION 311.7.8.3 #2</text>
<circle cx="800.7" cy="1507.9" r="26" stroke-width="2.5"/>
<path d="M795 1533.6 V1569.3 Q795 1580 805.7 1580 H881.8" stroke-width="2.2"/>
<path d="M805.7 1533.6 V1563.9 Q805.7 1568.6 811.4 1568.6 H881.8" stroke-width="2.2"/>
<rect x="881.8" y="1558.6" width="7.1" height="32.1" stroke-width="2.2"/>
<line x1="890" y1="1446.1" x2="890" y2="1615.7" stroke-width="2.6"/>
<line x1="819.3" y1="1418.6" x2="897.9" y2="1418.6"/>
<line x1="823.4" y1="1421.6" x2="829.4" y2="1415.6" stroke-width="1.6"/>
<line x1="887" y1="1421.6" x2="893" y2="1415.6" stroke-width="1.6"/>
<line x1="826.4" y1="1412.1" x2="826.4" y2="1478.2"/>
<line x1="890" y1="1412.1" x2="890" y2="1444.3"/>
<text x="840" y="1416.4" font-size="8" textLength="38.2" lengthAdjust="spacingAndGlyphs">1½" MIN.</text>
<text x="747.9" y="1461.4" font-size="13" textLength="78.6" lengthAdjust="spacingAndGlyphs" text-anchor="end" style="stroke-width:.22px">34" TO 38"</text>
<text x="747.9" y="1473.6" font-size="13" textLength="89" lengthAdjust="spacingAndGlyphs" text-anchor="end" style="stroke-width:.22px">ABOVE TREAD</text>
<text x="747.9" y="1485.4" font-size="13" textLength="48" lengthAdjust="spacingAndGlyphs" text-anchor="end" style="stroke-width:.22px">NOSING</text>
<polyline points="751.4,1481.8 799.6,1481.8" stroke-width="1.1"/>
<polygon points="799.6,1481.8 790.6,1483.6 790.6,1480" fill="#111" stroke="none"/>
<text x="658.6" y="1510.4" font-size="8.5" textLength="12" lengthAdjust="spacingAndGlyphs">D=</text>
<text x="678.2" y="1510.4" font-size="13" textLength="50" lengthAdjust="spacingAndGlyphs" style="stroke-width:.22px">1¼" MIN.</text>
<text x="681.8" y="1527.1" font-size="13" textLength="47.5" lengthAdjust="spacingAndGlyphs" style="stroke-width:.22px">2" MAX</text>
<polyline points="730,1524.6 778.2,1524.6" stroke-width="1.1"/>
<polygon points="778.2,1524.6 769.2,1526.4 769.2,1522.8" fill="#111" stroke="none"/>
<rect x="675.7" y="1625.7" width="242.9" height="29.3" stroke-width="2.9"/>
<text x="685.4" y="1647.1" font-size="17" textLength="226.1" lengthAdjust="spacingAndGlyphs" font-weight="bold">FIGURE 1. HANDRAIL HEIGHT</text>
<circle cx="825.7" cy="1731.8" r="42" stroke-width="2.5"/>
<line x1="696.1" y1="1766.8" x2="890.7" y2="1714.6" stroke-width="1.1"/>
<polygon points="785.1,1742.7 776.9,1746.7 776,1743.2" fill="#111" stroke="none"/>
<polygon points="866.3,1720.9 874.5,1716.8 875.4,1720.3" fill="#111" stroke="none"/>
<text x="696.8" y="1747.9" font-size="11" textLength="62" lengthAdjust="spacingAndGlyphs" style="stroke-width:.22px" transform="rotate(-15 696.8 1747.9)">D=1¼" MIN</text>
<text x="711.1" y="1759.3" font-size="11" textLength="42" lengthAdjust="spacingAndGlyphs" style="stroke-width:.22px" transform="rotate(-15 711.1 1759.3)">2" MAX</text>
<rect x="663.9" y="1805" width="266.8" height="30.4" stroke-width="2.9"/>
<text x="672.9" y="1826.4" font-size="17" textLength="248.2" lengthAdjust="spacingAndGlyphs" font-weight="bold">FIGURE 2. CIRCULAR HANDRAIL</text>
<polyline points="1046.7,837.4 1046.7,982.3 1035.5,989.4 1058.9,999 1046.7,1005.4 1046.7,1141.9" stroke-width="1.1"/>
<polyline points="1484.9,837.4 1484.9,982.3 1496.1,989.4 1472.7,999 1484.9,1005.4 1484.9,1141.9" stroke-width="1.1"/>
<line x1="1046.7" y1="867.9" x2="1484.9" y2="867.9" stroke-width="1.2"/>
<line x1="1066" y1="867.9" x2="1066" y2="1141.9" stroke-width="2.2"/>
<line x1="1074" y1="867.9" x2="1074" y2="1141.9" stroke-width="2.2"/>
<line x1="1457" y1="867.9" x2="1457" y2="1141.9" stroke-width="2.2"/>
<line x1="1465.6" y1="867.9" x2="1465.6" y2="1141.9" stroke-width="2.2"/>
<line x1="1129.1" y1="867.9" x2="1129.1" y2="1108.9" stroke-width="2.2"/>
<line x1="1137.1" y1="867.9" x2="1137.1" y2="1108.9" stroke-width="2.2"/>
<line x1="1129.1" y1="1132.9" x2="1129.1" y2="1141.9" stroke-width="2.2"/>
<line x1="1137.1" y1="1132.9" x2="1137.1" y2="1141.9" stroke-width="2.2"/>
<line x1="1191.6" y1="867.9" x2="1191.6" y2="1108.9" stroke-width="2.2"/>
<line x1="1199.6" y1="867.9" x2="1199.6" y2="1108.9" stroke-width="2.2"/>
<line x1="1191.6" y1="1132.9" x2="1191.6" y2="1141.9" stroke-width="2.2"/>
<line x1="1199.6" y1="1132.9" x2="1199.6" y2="1141.9" stroke-width="2.2"/>
<line x1="1332.6" y1="867.9" x2="1332.6" y2="971.1" stroke-width="2.2"/>
<line x1="1340.6" y1="867.9" x2="1340.6" y2="971.1" stroke-width="2.2"/>
<line x1="1332.6" y1="1038.4" x2="1332.6" y2="1059.2" stroke-width="2.2"/>
<line x1="1340.6" y1="1038.4" x2="1340.6" y2="1059.2" stroke-width="2.2"/>
<line x1="1332.6" y1="1132.9" x2="1332.6" y2="1141.9" stroke-width="2.2"/>
<line x1="1340.6" y1="1132.9" x2="1340.6" y2="1141.9" stroke-width="2.2"/>
<line x1="1395.1" y1="867.9" x2="1395.1" y2="971.1" stroke-width="2.2"/>
<line x1="1403.1" y1="867.9" x2="1403.1" y2="971.1" stroke-width="2.2"/>
<line x1="1395.1" y1="1038.4" x2="1395.1" y2="1059.2" stroke-width="2.2"/>
<line x1="1403.1" y1="1038.4" x2="1403.1" y2="1059.2" stroke-width="2.2"/>
<line x1="1395.1" y1="1132.9" x2="1395.1" y2="1141.9" stroke-width="2.2"/>
<line x1="1403.1" y1="1132.9" x2="1403.1" y2="1141.9" stroke-width="2.2"/>
<line x1="1254.1" y1="867.9" x2="1254.1" y2="1141.9" stroke-width="1.3"/>
<line x1="1278.1" y1="867.9" x2="1278.1" y2="1141.9" stroke-width="1.3"/>
<line x1="1273.3" y1="867.9" x2="1273.3" y2="1141.9"/>
<rect x="1260.8" y="867.9" width="10.5" height="823.6" stroke-width="0" stroke="none" fill="#141414"/>
<line x1="1266" y1="867.9" x2="1266" y2="1141.9" stroke-width="4.1" stroke="#8c8c8c" stroke-dasharray="0.8 0.9"/>
<rect x="1257.3" y="891.9" width="17.6" height="6.7" stroke-width="0" stroke="none" fill="#111"/>
<rect x="1257.3" y="1061.8" width="17.6" height="6.7" stroke-width="0" stroke="none" fill="#111"/>
<rect x="1257.3" y="1075.3" width="17.6" height="6.7" stroke-width="0" stroke="none" fill="#111"/>
<rect x="1257.3" y="1088.7" width="17.6" height="6.7" stroke-width="0" stroke="none" fill="#111"/>
<line x1="1125.9" y1="854.1" x2="1406.3" y2="854.1" stroke-width="1.1"/>
<line x1="1128.8" y1="857.6" x2="1135.8" y2="850.6" stroke-width="1.4"/>
<line x1="1261.8" y1="857.6" x2="1268.8" y2="850.6" stroke-width="1.4"/>
<line x1="1395.5" y1="857.6" x2="1402.5" y2="850.6" stroke-width="1.4"/>
<text x="1140.3" y="850.9" font-size="9.3" textLength="118.6" lengthAdjust="spacingAndGlyphs">48" FIRE RATED PLYWOOD</text>
<text x="1273.3" y="850.9" font-size="9.3" textLength="118.6" lengthAdjust="spacingAndGlyphs">48" FIRE RATED PLYWOOD</text>
<text x="1121.1" y="806.7" font-size="9.3" textLength="112.8" lengthAdjust="spacingAndGlyphs" text-anchor="end">TRUSSES PER SCHEDULE</text>
<text x="1410.5" y="806.7" font-size="9.3" textLength="112.8" lengthAdjust="spacingAndGlyphs">TRUSSES PER SCHEDULE</text>
<text x="1121.1" y="816.3" font-size="9.3" textLength="165.1" lengthAdjust="spacingAndGlyphs" text-anchor="end">(TRUSSES MAY VARY FROM DRAWING</text>
<text x="1410.5" y="816.3" font-size="9.3" textLength="165.1" lengthAdjust="spacingAndGlyphs">(TRUSSES MAY VARY FROM DRAWING</text>
<text x="1121.1" y="826.9" font-size="9.3" textLength="132.1" lengthAdjust="spacingAndGlyphs" text-anchor="end">REFER TO TRUSS SCHEDULE)</text>
<text x="1410.5" y="826.9" font-size="9.3" textLength="132.1" lengthAdjust="spacingAndGlyphs">REFER TO TRUSS SCHEDULE)</text>
<polyline points="1124.3,803.5 1132.3,803.5 1132.3,867.9" stroke-width="1.1"/>
<polyline points="1407.9,803.5 1399,803.5 1399,867.9" stroke-width="1.1"/>
<text x="1244.5" y="818.8" font-size="9.3" textLength="73.7" lengthAdjust="spacingAndGlyphs" text-anchor="end">CAULK TO ROOF</text>
<text x="1244.5" y="828.5" font-size="9.3" textLength="46.5" lengthAdjust="spacingAndGlyphs" text-anchor="end">SHEATHING</text>
<polyline points="1246.1,815.6 1252.5,815.6 1265.3,866.9" stroke-width="1.1"/>
<line x1="1266.3" y1="810.8" x2="1266.3" y2="867.9" stroke-width="1.1"/>
<polyline points="1284.6,816.6 1266.3,816.6" stroke-width="1.1"/>
<polygon points="1266.3,816.6 1271.3,815.1 1271.3,818.1" fill="#111" stroke="none"/>
<text x="1286.2" y="820.4" font-size="9.3" textLength="69.2" lengthAdjust="spacingAndGlyphs">PROPERTY LINE</text>
<text x="1286.2" y="830.7" font-size="9.3" textLength="69.9" lengthAdjust="spacingAndGlyphs">BETWEEN UNITS</text>
<text x="1303.1" y="947.7" font-size="9.3" textLength="44.9" lengthAdjust="spacingAndGlyphs">ALUMINUM</text>
<text x="1303.1" y="957.6" font-size="9.3" textLength="74.4" lengthAdjust="spacingAndGlyphs">BREAKAWAY CLIP</text>
<polyline points="1300.6,945.4 1291,945.4 1271.7,897.4" stroke-width="1.1"/>
<polyline points="1291,945.4 1270.1,909.2" stroke-width="1.1"/>
<text x="1310.2" y="981.7" font-size="9.3" textLength="129.8" lengthAdjust="spacingAndGlyphs">2HR AREA SEPARATION WALL</text>
<text x="1310.2" y="991.3" font-size="9.3" textLength="135.3" lengthAdjust="spacingAndGlyphs">ASW 1000 AMERICAN GYPSUM</text>
<text x="1310.2" y="1002.2" font-size="9.3" textLength="133" lengthAdjust="spacingAndGlyphs">(2)–M BLOC 1" SHAFT LINER</text>
<text x="1310.2" y="1012.8" font-size="9.3" textLength="142.6" lengthAdjust="spacingAndGlyphs">24"W X 12"H "H" STUD @ 24"</text>
<line x1="1271.7" y1="979.1" x2="1308.6" y2="979.1" stroke-width="1.1"/>
<text x="1310.2" y="1025.6" font-size="9.3" textLength="132.1" lengthAdjust="spacingAndGlyphs">¾" AIR SPACE ON EACH SIDE</text>
<text x="1310.2" y="1036.2" font-size="9.3" textLength="98.7" lengthAdjust="spacingAndGlyphs">OF 1" SHAFT BOARDS</text>
<line x1="1271.7" y1="1022.4" x2="1308.6" y2="1022.4" stroke-width="1.1"/>
<text x="1310.2" y="1069.8" font-size="9.3" textLength="146.5" lengthAdjust="spacingAndGlyphs">ALUM BREAKAWAY CLIPS @ 8'–0</text>
<text x="1310.2" y="1082.3" font-size="9.3" textLength="132.1" lengthAdjust="spacingAndGlyphs">HORIZONTALLY, 1–¼" GYPSUM</text>
<text x="1310.2" y="1093.8" font-size="9.3" textLength="142.6" lengthAdjust="spacingAndGlyphs">TO WOOD– ⅜" PANHEAD SCREW</text>
<text x="1310.2" y="1103.5" font-size="9.3" textLength="78.5" lengthAdjust="spacingAndGlyphs">THROUGH BOARD.</text>
<polyline points="1308.6,1066.3 1289.4,1066.3 1274.9,1065.6" stroke-width="1.1"/>
<line x1="1289.4" y1="1066.3" x2="1273.3" y2="1078.5"/>
<line x1="1289.4" y1="1066.3" x2="1273.3" y2="1092.9"/>
<line x1="1289.4" y1="1066.3" x2="1273.3" y2="1113.7"/>
<line x1="1289.4" y1="1066.3" x2="1273.3" y2="1129.7"/>
<text x="1221.4" y="1072.1" font-size="9.3" textLength="126.6" lengthAdjust="spacingAndGlyphs" text-anchor="end">BACK TO BACK C–CHANNEL</text>
<line x1="1225.3" y1="1069.5" x2="1257.3" y2="1069.5" stroke-width="1.1"/>
<text x="1221.4" y="1116" font-size="9.3" textLength="59.3" lengthAdjust="spacingAndGlyphs" text-anchor="end">M.F.G. TRUSS</text>
<line x1="1225.3" y1="1113.1" x2="1257.3" y2="1113.1" stroke-width="1.1"/>
<text x="1310.2" y="1116" font-size="9.3" textLength="59.3" lengthAdjust="spacingAndGlyphs">M.F.G. TRUSS</text>
<line x1="1279.1" y1="1113.1" x2="1308.6" y2="1113.1" stroke-width="1.1"/>
<text x="1220.4" y="1129.7" font-size="9.3" textLength="127.2" lengthAdjust="spacingAndGlyphs" text-anchor="end">SET TRUSSES ON 2x4 WALL</text>
<text x="1311.8" y="1129.7" font-size="9.3" textLength="127.6" lengthAdjust="spacingAndGlyphs">SET TRUSSES ON 2x4 WALL</text>
<polyline points="1223.7,1126.5 1230.1,1126.5 1244.5,1163.4"/>
<polyline points="1308.6,1126.5 1302.2,1126.5 1287.8,1142.6"/>
<path d="M1066.6 1141.9 a3.5 8.3 0 0 1 7.1 0 M1073.7 1141.9 a3.5 8.3 0 0 1 7.1 0 M1080.7 1141.9 a3.5 8.3 0 0 1 7.1 0 M1087.8 1141.9 a3.5 8.3 0 0 1 7.1 0 M1094.8 1141.9 a3.5 8.3 0 0 1 7.1 0 M1101.9 1141.9 a3.5 8.3 0 0 1 7.1 0 M1108.9 1141.9 a3.5 8.3 0 0 1 7.1 0 M1116 1141.9 a3.5 8.3 0 0 1 7.1 0 M1123 1141.9 a3.5 8.3 0 0 1 7.1 0 M1130.1 1141.9 a3.5 8.3 0 0 1 7.1 0 M1137.1 1141.9 a3.5 8.3 0 0 1 7.1 0 M1144.2 1141.9 a3.5 8.3 0 0 1 7.1 0 M1151.2 1141.9 a3.5 8.3 0 0 1 7.1 0 M1158.3 1141.9 a3.5 8.3 0 0 1 7.1 0 M1165.3 1141.9 a3.5 8.3 0 0 1 7.1 0 M1172.4 1141.9 a3.5 8.3 0 0 1 7.1 0 M1179.4 1141.9 a3.5 8.3 0 0 1 7.1 0 M1186.5 1141.9 a3.5 8.3 0 0 1 7.1 0 M1193.5 1141.9 a3.5 8.3 0 0 1 7.1 0 M1200.6 1141.9 a3.5 8.3 0 0 1 7.1 0 M1207.6 1141.9 a3.5 8.3 0 0 1 7.1 0 M1214.7 1141.9 a3.5 8.3 0 0 1 7.1 0 M1221.7 1141.9 a3.5 8.3 0 0 1 7.1 0 M1228.8 1141.9 a3.5 8.3 0 0 1 7.1 0 M1235.8 1141.9 a3.5 8.3 0 0 1 7.1 0 M1242.9 1141.9 a3.5 8.3 0 0 1 7.1 0 M1249.9 1141.9 a3.5 8.3 0 0 1 7.1 0 M1257 1141.9 a3.5 8.3 0 0 1 7.1 0 M1278.1 1141.9 a3.5 8.3 0 0 1 7.1 0 M1285.2 1141.9 a3.5 8.3 0 0 1 7.1 0 M1292.2 1141.9 a3.5 8.3 0 0 1 7.1 0 M1299.3 1141.9 a3.5 8.3 0 0 1 7.1 0 M1306.3 1141.9 a3.5 8.3 0 0 1 7.1 0 M1313.4 1141.9 a3.5 8.3 0 0 1 7.1 0 M1320.4 1141.9 a3.5 8.3 0 0 1 7.1 0 M1327.5 1141.9 a3.5 8.3 0 0 1 7.1 0 M1334.6 1141.9 a3.5 8.3 0 0 1 7.1 0 M1341.6 1141.9 a3.5 8.3 0 0 1 7.1 0 M1348.7 1141.9 a3.5 8.3 0 0 1 7.1 0 M1355.7 1141.9 a3.5 8.3 0 0 1 7.1 0 M1362.8 1141.9 a3.5 8.3 0 0 1 7.1 0 M1369.8 1141.9 a3.5 8.3 0 0 1 7.1 0 M1376.9 1141.9 a3.5 8.3 0 0 1 7.1 0 M1383.9 1141.9 a3.5 8.3 0 0 1 7.1 0 M1391 1141.9 a3.5 8.3 0 0 1 7.1 0 M1398 1141.9 a3.5 8.3 0 0 1 7.1 0 M1405.1 1141.9 a3.5 8.3 0 0 1 7.1 0 M1412.1 1141.9 a3.5 8.3 0 0 1 7.1 0 M1419.2 1141.9 a3.5 8.3 0 0 1 7.1 0 M1426.2 1141.9 a3.5 8.3 0 0 1 7.1 0 M1433.3 1141.9 a3.5 8.3 0 0 1 7.1 0 M1440.3 1141.9 a3.5 8.3 0 0 1 7.1 0 M1447.4 1141.9 a3.5 8.3 0 0 1 7.1 0 M1454.4 1141.9 a3.5 8.3 0 0 1 7.1 0 M1461.5 1141.9 a3.5 8.3 0 0 1 7.1 0 M1468.5 1141.9 a3.5 8.3 0 0 1 7.1 0" stroke-width="1.3"/>
<polyline points="1060.2,1143.2 1063.8,1158.6 1067.4,1143.2 1071,1158.6 1074.6,1143.2 1078.1,1158.6 1081.7,1143.2 1085.3,1158.6 1088.9,1143.2 1092.5,1158.6 1096.1,1143.2 1099.7,1158.6 1103.3,1143.2 1106.9,1158.6 1110.4,1143.2 1114,1158.6 1117.6,1143.2 1121.2,1158.6 1124.8,1143.2 1128.4,1158.6 1132,1143.2 1135.6,1158.6 1139.2,1143.2 1142.8,1158.6 1146.3,1143.2 1149.9,1158.6 1153.5,1143.2 1157.1,1158.6 1160.7,1143.2 1164.3,1158.6 1167.9,1143.2 1171.5,1158.6 1175.1,1143.2 1178.7,1158.6 1182.2,1143.2 1185.8,1158.6 1189.4,1143.2 1193,1158.6 1196.6,1143.2 1200.2,1158.6 1203.8,1143.2 1207.4,1158.6 1211,1143.2 1214.6,1158.6 1218.1,1143.2 1221.7,1158.6 1225.3,1143.2 1228.9,1158.6 1232.5,1143.2 1236.1,1158.6 1239.7,1143.2 1243.3,1158.6 1246.9,1143.2 1250.4,1158.6 1254,1143.2 1257.6,1158.6 1261.2,1143.2 1264.8,1158.6 1268.4,1143.2 1272,1158.6 1275.6,1143.2 1279.2,1158.6 1282.8,1143.2 1286.3,1158.6 1289.9,1143.2 1293.5,1158.6 1297.1,1143.2 1300.7,1158.6 1304.3,1143.2 1307.9,1158.6 1311.5,1143.2 1315.1,1158.6 1318.7,1143.2 1322.2,1158.6 1325.8,1143.2 1329.4,1158.6 1333,1143.2 1336.6,1158.6 1340.2,1143.2 1343.8,1158.6 1347.4,1143.2 1351,1158.6 1354.6,1143.2 1358.1,1158.6 1361.7,1143.2 1365.3,1158.6 1368.9,1143.2 1372.5,1158.6 1376.1,1143.2 1379.7,1158.6 1383.3,1143.2 1386.9,1158.6 1390.4,1143.2 1394,1158.6 1397.6,1143.2 1401.2,1158.6 1404.8,1143.2 1408.4,1158.6 1412,1143.2 1415.6,1158.6 1419.2,1143.2 1422.8,1158.6 1426.3,1143.2 1429.9,1158.6 1433.5,1143.2 1437.1,1158.6 1440.7,1143.2 1444.3,1158.6 1447.9,1143.2 1451.5,1158.6 1455.1,1143.2 1458.7,1158.6 1462.2,1143.2 1465.8,1158.6 1469.4,1143.2" stroke-width="1.1"/>
<line x1="1046.7" y1="1141.9" x2="1484.9" y2="1141.9" stroke-width="1.8"/>
<line x1="1053.8" y1="1160.8" x2="1478.5" y2="1160.8" stroke-width="3.4"/>
<polyline points="1046.7,1142.6 1036.2,1151.5 1050.6,1161.8" stroke-width="1.1"/>
<polyline points="1484.9,1142.6 1496.1,1151.5 1481.7,1161.8" stroke-width="1.1"/>
<line x1="1046.7" y1="1162.1" x2="1046.7" y2="1202.1" stroke-width="1.1"/>
<line x1="1484.9" y1="1162.1" x2="1484.9" y2="1202.1" stroke-width="1.1"/>
<rect x="1248.9" y="1160.4" width="11.9" height="249" stroke-width="0" stroke="none" fill="url(#hc1)"/>
<rect x="1271.3" y="1160.4" width="11.9" height="249" stroke-width="0" stroke="none" fill="url(#hc2)"/>
<rect x="1244.7" y="1160.4" width="4.2" height="249" stroke-width="0" stroke="none" fill="#0d0d0d"/>
<rect x="1283.2" y="1160.4" width="4.5" height="249" stroke-width="0" stroke="none" fill="#0d0d0d"/>
<line x1="1266" y1="1160.4" x2="1266" y2="1409.5" stroke-width="4.1" stroke="#8c8c8c" stroke-dasharray="0.8 0.9"/>
<rect x="1241.3" y="1347" width="49.7" height="13.1" stroke-width="0" stroke="none" fill="#fff"/>
<line x1="1233.3" y1="1347" x2="1299" y2="1347" stroke-width="1.1"/>
<line x1="1233.3" y1="1360.1" x2="1299" y2="1360.1" stroke-width="1.1"/>
<polygon points="1260.8,1343.8 1271.3,1343.8 1271.3,1347 1264,1355 1260.8,1347" stroke-width="0" stroke="none" fill="#141414"/>
<polygon points="1260.8,1363.3 1260.8,1360.1 1268,1351.2 1271.3,1360.1 1271.3,1363.3" stroke-width="0" stroke="none" fill="#141414"/>
<text x="1223.7" y="1174.9" font-size="9.3" textLength="109.6" lengthAdjust="spacingAndGlyphs" text-anchor="end">⅝" DRYWALL (2HR WALL)</text>
<polyline points="1226.2,1171.7 1239.7,1171.7 1239.7,1162.1" stroke-width="1.1"/>
<text x="1310.2" y="1174.9" font-size="9.3" textLength="50.6" lengthAdjust="spacingAndGlyphs">⅝" DRYWALL</text>
<polyline points="1307.9,1171.7 1292.6,1171.7 1292.6,1162.1" stroke-width="1.1"/>
<text x="1223.7" y="1194.1" font-size="9.3" textLength="119.2" lengthAdjust="spacingAndGlyphs" text-anchor="end">DOUBLE 2x4 BRG. PLATES</text>
<polyline points="1226.2,1190.9 1234.9,1190.9 1244.5,1171.7" stroke-width="1.1"/>
<text x="1219.5" y="1211.7" font-size="9.3" textLength="80.8" lengthAdjust="spacingAndGlyphs" text-anchor="end">¾" FIRE BLOCKING</text>
<polyline points="1222.1,1209.5 1238.1,1209.5 1257.3,1168.5" stroke-width="1.1"/>
<text x="1307.9" y="1214" font-size="9.3" textLength="119.2" lengthAdjust="spacingAndGlyphs">DOUBLE 2x4 BRG. PLATES</text>
<polyline points="1306,1210.8 1292.6,1210.8 1287.8,1198.9" stroke-width="1.1"/>
<text x="1223.7" y="1228.7" font-size="9.3" textLength="119.2" lengthAdjust="spacingAndGlyphs" text-anchor="end">2x4 @ 16" BEARING WALL</text>
<line x1="1226.2" y1="1225.8" x2="1244.5" y2="1225.8" stroke-width="1.1"/>
<text x="1307.9" y="1228.7" font-size="9.3" textLength="143.3" lengthAdjust="spacingAndGlyphs">2x4 @ 16" O.C. BEARING WALL</text>
<line x1="1287.8" y1="1225.8" x2="1306" y2="1225.8" stroke-width="1.1"/>
<text x="1223.7" y="1253.4" font-size="9.3" textLength="104.2" lengthAdjust="spacingAndGlyphs" text-anchor="end">⅝" GYPSUM WALLBOARD</text>
<line x1="1226.2" y1="1250.5" x2="1244.5" y2="1250.5" stroke-width="1.1"/>
<text x="1307.9" y="1253.4" font-size="9.3" textLength="104.2" lengthAdjust="spacingAndGlyphs">⅝" GYPSUM WALLBOARD</text>
<line x1="1287.8" y1="1250.5" x2="1306" y2="1250.5" stroke-width="1.1"/>
<text x="1223.7" y="1276.8" font-size="9.3" textLength="106.7" lengthAdjust="spacingAndGlyphs" text-anchor="end">2x4 STUDS @ 16" O.C.</text>
<line x1="1226.2" y1="1273.9" x2="1244.5" y2="1273.9" stroke-width="1.1"/>
<text x="1307.9" y="1276.8" font-size="9.3" textLength="106.7" lengthAdjust="spacingAndGlyphs">2x4 STUDS @ 16" O.C.</text>
<line x1="1287.8" y1="1273.9" x2="1306" y2="1273.9" stroke-width="1.1"/>
<text x="1299" y="1301.5" font-size="9.3" textLength="52.9" lengthAdjust="spacingAndGlyphs">UL – U336</text>
<text x="1299" y="1312.1" font-size="9.3" textLength="144.2" lengthAdjust="spacingAndGlyphs">(2) – 1" SHAFT LINER BOARDS</text>
<text x="1299" y="1322.9" font-size="9.3" textLength="91.3" lengthAdjust="spacingAndGlyphs">WITH A CONTINUOUS</text>
<text x="1299" y="1334.5" font-size="9.3" textLength="162.8" lengthAdjust="spacingAndGlyphs">¾" SPACE ON EACH SIDE TO STUDS</text>
<line x1="1268.5" y1="1309.5" x2="1296.4" y2="1309.5" stroke-width="1.1"/>
<text x="1484.9" y="1224.6" font-size="9.3" textLength="64.1" lengthAdjust="spacingAndGlyphs">– C CHANNEL</text>
<text x="1484.9" y="1234.2" font-size="9.3" textLength="47.1" lengthAdjust="spacingAndGlyphs">– H STUD</text>
<text x="1484.9" y="1243.8" font-size="9.3" textLength="127.2" lengthAdjust="spacingAndGlyphs">– ALUM BREAK AWAY CLIPS</text>
<text x="1484.9" y="1263.7" font-size="9.3" textLength="123.4" lengthAdjust="spacingAndGlyphs">CLARK DIETRICK PRODUCTS</text>
<text x="1232.3" y="1379.4" font-size="9.3" textLength="71.2" lengthAdjust="spacingAndGlyphs" text-anchor="end">2X4 SILL PLATE</text>
<polyline points="1233.3,1376.2 1240.6,1376.2 1246.1,1386.4" stroke-width="1.1"/>
<text x="1299" y="1379.4" font-size="9.3" textLength="71.2" lengthAdjust="spacingAndGlyphs">2X4 SILL PLATE</text>
<polyline points="1298.3,1376.2 1291.9,1376.2 1286.2,1386.4" stroke-width="1.1"/>
<line x1="1077.2" y1="1160.4" x2="1077.2" y2="1416.9" stroke-width="1.1"/>
<line x1="1068.2" y1="1409.5" x2="1172.4" y2="1409.5" stroke-width="1.1"/>
<line x1="1073.7" y1="1413" x2="1080.7" y2="1406" stroke-width="1.4"/>
<line x1="1074.2" y1="1164.1" x2="1080.2" y2="1158.1" stroke-width="1.2"/>
<text x="1073.3" y="1285.4" font-size="9.3" textLength="50" lengthAdjust="spacingAndGlyphs" text-anchor="middle" transform="rotate(-90 1073.3 1285.4)">SEE PLANS</text>
<line x1="1178.8" y1="1409.5" x2="1353.5" y2="1409.5" stroke-width="2.6"/>
<line x1="1178.8" y1="1414.3" x2="1353.5" y2="1414.3" stroke-width="2.6"/>
<line x1="1178.8" y1="1438.3" x2="1353.5" y2="1438.3" stroke-width="2.6"/>
<line x1="1178.8" y1="1443.1" x2="1353.5" y2="1443.1" stroke-width="2.6"/>
<rect x="1258.5" y="1409.5" width="15" height="33.7" stroke-width="0" stroke="none" fill="#141414"/>
<text x="1171.4" y="1428.7" font-size="9.3" textLength="181.1" lengthAdjust="spacingAndGlyphs" text-anchor="end">STRUCTURAL I–JOISTS @ 16" O.C. MAX.</text>
<polyline points="1175.6,1425.5 1206,1425.5" stroke-width="1.1"/>
<polygon points="1206,1425.5 1197,1426.9 1197,1424.1" fill="#111" stroke="none"/>
<text x="1359.9" y="1428.7" font-size="9.3" textLength="182.1" lengthAdjust="spacingAndGlyphs">STRUCTURAL I–JOISTS @ 16" O.C. MAX.</text>
<polyline points="1356.7,1425.5 1326.2,1425.5" stroke-width="1.1"/>
<polygon points="1326.2,1425.5 1335.2,1424.1 1335.2,1426.9" fill="#111" stroke="none"/>
<rect x="1248.9" y="1443.1" width="11.9" height="248.4" stroke-width="0" stroke="none" fill="url(#hc3)"/>
<rect x="1271.3" y="1443.1" width="11.9" height="248.4" stroke-width="0" stroke="none" fill="url(#hc4)"/>
<rect x="1244.7" y="1443.1" width="4.2" height="248.4" stroke-width="0" stroke="none" fill="#0d0d0d"/>
<rect x="1283.2" y="1443.1" width="4.5" height="248.4" stroke-width="0" stroke="none" fill="#0d0d0d"/>
<line x1="1266" y1="1443.1" x2="1266" y2="1691.5" stroke-width="4.1" stroke="#8c8c8c" stroke-dasharray="0.8 0.9"/>
<rect x="1241.3" y="1630" width="49.7" height="14.1" stroke-width="0" stroke="none" fill="#fff"/>
<line x1="1233.3" y1="1630" x2="1299" y2="1630" stroke-width="1.1"/>
<line x1="1233.3" y1="1644.1" x2="1299" y2="1644.1" stroke-width="1.1"/>
<polygon points="1260.8,1626.8 1271.3,1626.8 1271.3,1630 1264,1638 1260.8,1630" stroke-width="0" stroke="none" fill="#141414"/>
<polygon points="1260.8,1647.3 1260.8,1644.1 1268,1635.1 1271.3,1644.1 1271.3,1647.3" stroke-width="0" stroke="none" fill="#141414"/>
<text x="1223.7" y="1457.6" font-size="9.3" textLength="109.6" lengthAdjust="spacingAndGlyphs" text-anchor="end">⅝" DRYWALL (2HR WALL)</text>
<polyline points="1226.2,1454.4 1239.7,1454.4 1239.7,1445.7" stroke-width="1.1"/>
<text x="1310.2" y="1457.6" font-size="9.3" textLength="109.6" lengthAdjust="spacingAndGlyphs">⅝" DRYWALL (2HR WALL)</text>
<polyline points="1307.9,1454.4 1292.6,1454.4 1292.6,1445.7" stroke-width="1.1"/>
<text x="1223.7" y="1481.9" font-size="9.3" textLength="119.2" lengthAdjust="spacingAndGlyphs" text-anchor="end">DOUBLE 2x4 BRG. PLATES</text>
<polyline points="1226.2,1478.7 1239.7,1478.7 1244.5,1466.5" stroke-width="1.1"/>
<text x="1307.9" y="1481.9" font-size="9.3" textLength="119.2" lengthAdjust="spacingAndGlyphs">DOUBLE 2x4 BRG. PLATES</text>
<polyline points="1306,1478.7 1292.6,1478.7 1287.8,1466.5" stroke-width="1.1"/>
<text x="1219.5" y="1496.7" font-size="9.3" textLength="80.8" lengthAdjust="spacingAndGlyphs" text-anchor="end">¾" FIRE BLOCKING</text>
<polyline points="1222.1,1495.1 1238.1,1495.1 1244.5,1481.6" stroke-width="1.1"/>
<text x="1223.7" y="1533.8" font-size="9.3" textLength="104.2" lengthAdjust="spacingAndGlyphs" text-anchor="end">⅝" GYPSUM WALLBOARD</text>
<line x1="1226.2" y1="1531" x2="1244.5" y2="1531" stroke-width="1.1"/>
<text x="1307.9" y="1533.8" font-size="9.3" textLength="104.2" lengthAdjust="spacingAndGlyphs">⅝" GYPSUM WALLBOARD</text>
<line x1="1287.8" y1="1531" x2="1306" y2="1531" stroke-width="1.1"/>
<text x="1223.7" y="1557.9" font-size="9.3" textLength="106.7" lengthAdjust="spacingAndGlyphs" text-anchor="end">2x4 STUDS @ 16" O.C.</text>
<line x1="1226.2" y1="1555" x2="1244.5" y2="1555" stroke-width="1.1"/>
<text x="1307.9" y="1557.9" font-size="9.3" textLength="106.7" lengthAdjust="spacingAndGlyphs">2x4 STUDS @ 16" O.C.</text>
<line x1="1287.8" y1="1555" x2="1306" y2="1555" stroke-width="1.1"/>
<text x="1299" y="1576.2" font-size="9.3" textLength="52.9" lengthAdjust="spacingAndGlyphs">UL – U336</text>
<text x="1299" y="1586.7" font-size="9.3" textLength="144.2" lengthAdjust="spacingAndGlyphs">(2) – 1" SHAFT LINER BOARDS</text>
<text x="1299" y="1597.3" font-size="9.3" textLength="91.3" lengthAdjust="spacingAndGlyphs">WITH A CONTINUOUS</text>
<text x="1299" y="1608.8" font-size="9.3" textLength="162.8" lengthAdjust="spacingAndGlyphs">¾" SPACE ON EACH SIDE TO STUDS</text>
<line x1="1268.5" y1="1584.2" x2="1296.4" y2="1584.2" stroke-width="1.1"/>
<text x="1299.6" y="1654.7" font-size="9.3" textLength="50.6" lengthAdjust="spacingAndGlyphs">C CHANNEL</text>
<polyline points="1297.4,1651.5 1291,1651.5 1271.7,1685.1" stroke-width="1.1"/>
<line x1="1145.1" y1="1692.2" x2="1241.3" y2="1692.2" stroke-width="2.6"/>
<line x1="1145.1" y1="1697.3" x2="1241.3" y2="1697.3" stroke-width="2.6"/>
<line x1="1145.1" y1="1718.8" x2="1234.9" y2="1718.8" stroke-width="2.6"/>
<line x1="1145.1" y1="1724.2" x2="1234.9" y2="1724.2" stroke-width="2.6"/>
<polyline points="1234.9,1697.3 1209.2,1723.6" stroke-width="2.2"/>
<line x1="1239.7" y1="1693.1" x2="1239.7" y2="1724.2" stroke-width="2.6"/>
<rect x="1294.2" y="1692.2" width="134.6" height="11.2" stroke-width="2"/>
<text x="1375.3" y="1681.3" font-size="9.3" textLength="69.6" lengthAdjust="spacingAndGlyphs">4" CONC. SLAB</text>
<polyline points="1372.7,1678.1 1363.1,1678.1 1339,1697.3" stroke-width="1.1"/>
<rect x="1241.3" y="1692.2" width="52.9" height="165.4" stroke-width="2.4"/>
<line x1="1247.1" y1="1692.2" x2="1247.1" y2="1837.4"/>
<line x1="1288.7" y1="1692.2" x2="1288.7" y2="1837.4"/>
<line x1="1244.2" y1="1692.2" x2="1244.2" y2="1837.4" stroke-width="1.4" stroke="#333" stroke-dasharray="1.2 1.2"/>
<line x1="1291.3" y1="1692.2" x2="1291.3" y2="1837.4" stroke-width="1.4" stroke="#333" stroke-dasharray="1.2 1.2"/>
<line x1="1241.3" y1="1741.2" x2="1294.2" y2="1741.2" stroke-width="1.8"/>
<line x1="1241.3" y1="1789.3" x2="1294.2" y2="1789.3" stroke-width="1.8"/>
<line x1="1241.3" y1="1837.4" x2="1294.2" y2="1837.4" stroke-width="1.8"/>
<rect x="1241.3" y="1837.4" width="52.9" height="20.2" stroke-width="0" stroke="none" fill="url(#dg)"/>
<polyline points="1266.3,1694.1 1266.3,1733.2 1279.1,1733.2" stroke-width="2.4"/>
<polyline points="1236.5,1708.5 1258.9,1708.5 1258.9,1712.4" stroke-width="2"/>
<polygon points="1261.2,1756.6 1266.3,1756 1265,1751.5" stroke-width="0.7"/>
<polygon points="1278.8,1748.6 1283.9,1747.9 1282.6,1743.5" stroke-width="0.7"/>
<polygon points="1257.9,1806.3 1263.1,1805.6 1261.8,1801.2" stroke-width="0.7"/>
<polygon points="1272.4,1817.5 1277.5,1816.9 1276.2,1812.4" stroke-width="0.7"/>
<polygon points="1251.5,1700.5 1256.7,1699.9 1255.4,1695.4" stroke-width="0.7"/>
<circle cx="1260.5" cy="1776.5" r="0.5" stroke-width="0.6" fill="#111"/>
<circle cx="1274.9" cy="1778.1" r="0.5" stroke-width="0.6" fill="#111"/>
<circle cx="1284.6" cy="1728.4" r="0.5" stroke-width="0.6" fill="#111"/>
<circle cx="1276.5" cy="1709.2" r="0.5" stroke-width="0.6" fill="#111"/>
<circle cx="1260.5" cy="1827.8" r="0.5" stroke-width="0.6" fill="#111"/>
<circle cx="1282.9" cy="1826.2" r="0.5" stroke-width="0.6" fill="#111"/>
<circle cx="1255.7" cy="1808.5" r="0.5" stroke-width="0.6" fill="#111"/>
<circle cx="1273.3" cy="1822.9" r="0.5" stroke-width="0.6" fill="#111"/>
<circle cx="1257.3" cy="1752.4" r="0.5" stroke-width="0.6" fill="#111"/>
<text x="1122.1" y="1677.1" font-size="9.3" textLength="121.8" lengthAdjust="spacingAndGlyphs" text-anchor="end">ENGINEERED FLOOR JOISTS</text>
<text x="1122.1" y="1687.7" font-size="9.3" textLength="77.9" lengthAdjust="spacingAndGlyphs" text-anchor="end">@ 16" O.C. MAX.</text>
<text x="1122.1" y="1697.9" font-size="9.3" textLength="97.8" lengthAdjust="spacingAndGlyphs" text-anchor="end">ATTACHED TO LEDGER</text>
<text x="1122.1" y="1708.2" font-size="9.3" textLength="131.4" lengthAdjust="spacingAndGlyphs" text-anchor="end">W/ SIMPSON JOIST HANGERS</text>
<polyline points="1125.3,1707.6 1162.1,1707.6" stroke-width="1.1"/>
<polygon points="1162.1,1707.6 1153.1,1709 1153.1,1706.2" fill="#111" stroke="none"/>
<text x="1156.3" y="1759.8" font-size="9.3" textLength="104.2" lengthAdjust="spacingAndGlyphs" text-anchor="end">2X8 LEDGER ATTACHED</text>
<text x="1156.3" y="1772.3" font-size="9.3" textLength="92.9" lengthAdjust="spacingAndGlyphs" text-anchor="end">½"ø A.B. @ 32" O.C.</text>
<polyline points="1159.6,1771 1168.2,1771 1238.1,1718.8" stroke-width="1.1"/>
<text x="1080" y="1898.2" font-size="25" textLength="390.4" lengthAdjust="spacingAndGlyphs" class="ttl">2-HR FIREWALL SECTION-D</text>
<line x1="1078" y1="1901.7" x2="1471" y2="1901.7" stroke-width="1.3"/>
<text x="1080" y="1912" font-size="8.2" textLength="94" lengthAdjust="spacingAndGlyphs" class="ttl">SCALE: 3/4" = 1'-0"</text>
<text x="1220.4" y="1916.5" font-size="9.3" textLength="52.9" lengthAdjust="spacingAndGlyphs">UL – U336</text>
<polyline points="1639.3,1018.3 1639.3,1140 1636.3,1143 1642.8,1147 1639.3,1150 1639.3,1351" stroke-width="1.1"/>
<line x1="1638.8" y1="1025.2" x2="1771.1" y2="1086.5" stroke-width="3.7" stroke="#0d0d0d"/>
<line x1="1646.3" y1="1026.3" x2="1658.2" y2="1031.8" stroke-width="2.2" stroke="#0d0d0d"/>
<line x1="1684" y1="1043.7" x2="1694.6" y2="1048.6" stroke-width="2.2" stroke="#0d0d0d"/>
<line x1="1719.8" y1="1060.3" x2="1731" y2="1065.5" stroke-width="2.2" stroke="#0d0d0d"/>
<line x1="1638.8" y1="1042.1" x2="1759.2" y2="1099.8" stroke-width="2.3" stroke="#0d0d0d"/>
<line x1="1638.8" y1="1070.5" x2="1693.3" y2="1070.5" stroke-width="2" stroke="#0d0d0d"/>
<path d="M1640.4 1069.6 L1642.6 1054 Q1644.1 1049.5 1645.6 1054 L1647.8 1069.6 M1647.9 1069.6 L1650.1 1054 Q1651.6 1049.5 1653.1 1054 L1655.3 1069.6 M1655.3 1069.6 L1657.5 1054 Q1659 1049.5 1660.5 1054 L1662.7 1069.6 M1662.8 1069.6 L1665 1054 Q1666.5 1049.5 1668 1054 L1670.2 1069.6 M1670.2 1069.6 L1672.4 1054 Q1673.9 1049.5 1675.4 1054 L1677.6 1069.6 M1677.7 1069.6 L1679.9 1054 Q1681.4 1049.5 1682.9 1054 L1685.1 1069.6 M1685.1 1069.6 L1687.3 1054 Q1688.8 1049.5 1690.3 1054 L1692.5 1069.6" stroke-width="1.1"/>
<path d="M1640.4 1071.5 a3.7 5.8 0 0 0 7.4 0 M1647.9 1071.5 a3.7 5.8 0 0 0 7.4 0 M1655.3 1071.5 a3.7 5.8 0 0 0 7.4 0 M1662.8 1071.5 a3.7 5.8 0 0 0 7.4 0 M1670.2 1071.5 a3.7 5.8 0 0 0 7.4 0 M1677.7 1071.5 a3.7 5.8 0 0 0 7.4 0 M1685.1 1071.5 a3.7 5.8 0 0 0 7.4 0" stroke-width="1.1"/>
<line x1="1638.8" y1="1083.3" x2="1722.6" y2="1083.3" stroke-width="3.2" stroke="#0d0d0d"/>
<line x1="1711.4" y1="1083" x2="1711.4" y2="1111" stroke-width="2.8" stroke="#0d0d0d"/>
<line x1="1716.3" y1="1085" x2="1716.3" y2="1111" stroke-width="1.4"/>
<line x1="1721.5" y1="1083" x2="1721.5" y2="1111" stroke-width="2.2" stroke="#0d0d0d"/>
<line x1="1711" y1="1090" x2="1722" y2="1090"/>
<line x1="1711" y1="1094" x2="1722" y2="1094"/>
<line x1="1722.6" y1="1103.9" x2="1762.9" y2="1103.9" stroke-width="2.7" stroke="#0d0d0d"/>
<rect x="1760.3" y="1083.5" width="6.2" height="25" stroke-width="0" stroke="none" fill="#0d0d0d"/>
<line x1="1763.3" y1="1108" x2="1763.3" y2="1172"/>
<line x1="1711" y1="1111" x2="1711" y2="1258.5" stroke-width="2.8" stroke="#0d0d0d"/>
<line x1="1717.6" y1="1111" x2="1717.6" y2="1258.5" stroke-width="1.6" stroke="#0d0d0d"/>
<rect x="1719.3" y="1122" width="3.9" height="136.5" stroke-width="0" stroke="none" fill="#777"/>
<line x1="1725" y1="1108" x2="1725" y2="1258.5" stroke-width="1.5" stroke="#0d0d0d"/>
<rect x="1722.6" y="1108" width="5.2" height="14" stroke-width="0" stroke="none" fill="#0d0d0d"/>
<rect x="1722.6" y="1258" width="5.4" height="11.5" stroke-width="0" stroke="none" fill="#0d0d0d"/>
<rect x="1709.6" y="1258" width="4.3" height="93" stroke-width="0" stroke="none" fill="#0d0d0d"/>
<rect x="1720" y="1258" width="5.7" height="93" stroke-width="0" stroke="none" fill="#0d0d0d"/>
<rect x="1709.6" y="1258" width="16.1" height="5" stroke-width="0" stroke="none" fill="#0d0d0d"/>
<rect x="1713.9" y="1263" width="6.1" height="87" stroke-width="0" stroke="none" fill="url(#xh5)"/>
<line x1="1638.8" y1="1352.3" x2="1718.6" y2="1352.3" stroke-width="3.8" stroke="#0d0d0d"/>
<line x1="1669.1" y1="1086" x2="1669.1" y2="1194"/>
<line x1="1669.1" y1="1241" x2="1669.1" y2="1350"/>
<polygon points="1669.1,1085.2 1670.6,1092.2 1667.6,1092.2" fill="#111" stroke="none"/>
<polygon points="1669.1,1350.4 1667.6,1343.4 1670.6,1343.4" fill="#111" stroke="none"/>
<text x="1672.6" y="1216.7" font-size="9.3" textLength="43.5" lengthAdjust="spacingAndGlyphs" text-anchor="middle" transform="rotate(-90 1672.6 1216.7)">SEE PLAN</text>
<line x1="1716.4" y1="1168.9" x2="1768.4" y2="1168.9"/>
<line x1="1719.2" y1="1171.5" x2="1724.4" y2="1166.3" stroke-width="1.6"/>
<line x1="1760.7" y1="1171.5" x2="1765.9" y2="1166.3" stroke-width="1.6"/>
<text x="1733" y="1167.2" font-size="8.4" textLength="18.7" lengthAdjust="spacingAndGlyphs">1'–4"</text>
<polyline points="1740,1110 1740,1145.8 1806,1145.8"/>
<polygon points="1740,1106 1741.5,1113 1738.5,1113" fill="#111" stroke="none"/>
<polyline points="1716.9,948.9 1704.4,948.9 1645.9,1024.7" stroke-width="1.1"/>
<polygon points="1645.9,1024.7 1648.9,1018.1 1651.5,1020.1" fill="#111" stroke="none"/>
<polyline points="1716.9,977.9 1708.6,977.9 1654.3,1049.7" stroke-width="1.1"/>
<polygon points="1654.3,1049.7 1657.2,1043.2 1659.8,1045.1" fill="#111" stroke="none"/>
<polyline points="1722.5,999.6 1715.5,999.6 1684.9,1044.1" stroke-width="1.1"/>
<polygon points="1684.9,1044.1 1687.6,1037.5 1690.2,1039.3" fill="#111" stroke="none"/>
<polyline points="1739.2,1036.3 1730.8,1036.3 1689.1,1102.6 1684.1,1085.3" stroke-width="1.1"/>
<polygon points="1684.1,1085.3 1687.6,1091.6 1684.5,1092.5" fill="#111" stroke="none"/>
<polyline points="1792.1,1064.5 1783.7,1064.5 1722.5,1085.9" stroke-width="1.1"/>
<polygon points="1722.5,1085.9 1728.6,1082.1 1729.6,1085.1" fill="#111" stroke="none"/>
<polyline points="1801.8,1097 1767,1097" stroke-width="1.1"/>
<polygon points="1767,1097 1774,1095.4 1774,1098.6" fill="#111" stroke="none"/>
<polyline points="1764.3,1228.7 1726.7,1228.7" stroke-width="1.1"/>
<polygon points="1726.7,1228.7 1733.7,1227.1 1733.7,1230.3" fill="#111" stroke="none"/>
<polyline points="1767,1279.4 1726.7,1279.4" stroke-width="1.1"/>
<polygon points="1726.7,1279.4 1733.7,1277.8 1733.7,1281" fill="#111" stroke="none"/>
<line x1="1726.7" y1="1291.1" x2="1767" y2="1291.1" stroke-width="1.1"/>
<line x1="1726.7" y1="1303.9" x2="1767" y2="1303.9" stroke-width="1.1"/>
<line x1="1726.7" y1="1321.7" x2="1773.2" y2="1321.7" stroke-width="1.1"/>
<polyline points="1767,1337 1726.7,1337" stroke-width="1.1"/>
<polygon points="1726.7,1337 1733.7,1335.4 1733.7,1338.6" fill="#111" stroke="none"/>
<line x1="1726.7" y1="1351.8" x2="1768.4" y2="1351.8" stroke-width="1.1"/>
<polyline points="1767,1363.7 1696,1363.7" stroke-width="1.1"/>
<polygon points="1696,1363.7 1703,1362.1 1703,1365.3" fill="#111" stroke="none"/>
<text x="1718.3" y="951.7" font-size="9.3" textLength="186.5" lengthAdjust="spacingAndGlyphs">30 YEAR ARCHITECTURAL SHINGLES OVER</text>
<text x="1718.3" y="960.6" font-size="9.3" textLength="239.4" lengthAdjust="spacingAndGlyphs">7/16"  ROOF SHEATHING W/ CLIPS OVER 30# FELT</text>
<text x="1719.2" y="980.9" font-size="9.3" textLength="102.7" lengthAdjust="spacingAndGlyphs">R=38 INSULATION MIN.</text>
<text x="1724.4" y="993.5" font-size="9.3" textLength="177.6" lengthAdjust="spacingAndGlyphs">ENGINEERED ROOF TRUSSES @ 2' O.C.</text>
<text x="1724.4" y="1002.9" font-size="9.3" textLength="202.7" lengthAdjust="spacingAndGlyphs">(SCISSOR TRUSS W/ OPT. VAULTED CEILING)</text>
<text x="1724.4" y="1014.4" font-size="9.3" textLength="205.5" lengthAdjust="spacingAndGlyphs">(PROVIDE DIAGRAMS AT FRAMING INSPECTION)</text>
<text x="1741.1" y="1038.6" font-size="9.3" textLength="123.9" lengthAdjust="spacingAndGlyphs">5/8" GYPSUM WALL BOARD</text>
<text x="1794" y="1067.2" font-size="9.3" textLength="78.2" lengthAdjust="spacingAndGlyphs">HURRICANE CLIPS</text>
<text x="1803.8" y="1099.8" font-size="9.3" textLength="32" lengthAdjust="spacingAndGlyphs">FASCIA</text>
<text x="1808.8" y="1149.9" font-size="11" textLength="195.4" lengthAdjust="spacingAndGlyphs" style="stroke-width:.22px">SOFFITS TO BE CONTINUOUSLY VENTED</text>
<text x="1808.8" y="1161.1" font-size="11" textLength="215.8" lengthAdjust="spacingAndGlyphs" style="stroke-width:.22px">EXCEPT AT FIREWALL LOCATIONS. WHERE A</text>
<text x="1808.8" y="1172.2" font-size="11" textLength="219.9" lengthAdjust="spacingAndGlyphs" style="stroke-width:.22px">SOFFIT IS NOT TERMINATED BY A FIREWALL,</text>
<text x="1808.8" y="1182.8" font-size="11" textLength="217.1" lengthAdjust="spacingAndGlyphs" style="stroke-width:.22px">FIRE RATED PLYWOOD SHALL BE INSTALLED</text>
<text x="1808.8" y="1193.9" font-size="11" textLength="229.7" lengthAdjust="spacingAndGlyphs" style="stroke-width:.22px">INSIDE OF NON VENTED SOFFIT MATERIAL 6FT</text>
<text x="1808.8" y="1204.2" font-size="11" textLength="155.1" lengthAdjust="spacingAndGlyphs" style="stroke-width:.22px">FROM THE FIREWALL LOCATION.</text>
<text x="1769" y="1232.1" font-size="9.3" textLength="37.6" lengthAdjust="spacingAndGlyphs">WINDOW</text>
<text x="1769.8" y="1282.2" font-size="9.3" textLength="140.6" lengthAdjust="spacingAndGlyphs">STUCCO PER BUILDERS SPECS.</text>
<text x="1769.8" y="1294.1" font-size="9.3" textLength="107.2" lengthAdjust="spacingAndGlyphs">2x6 STUDS @ 16" O.C.</text>
<text x="1769.8" y="1307.2" font-size="9.3" textLength="71.8" lengthAdjust="spacingAndGlyphs">R19 INSULATION</text>
<text x="1775.9" y="1324.5" font-size="9.3" textLength="123.3" lengthAdjust="spacingAndGlyphs">1/2" GYPSUM WALL BOARD</text>
<text x="1769.8" y="1339.8" font-size="9.3" textLength="130" lengthAdjust="spacingAndGlyphs">7/16" OSB WALL SHEATHING</text>
<text x="1771.2" y="1354.6" font-size="9.3" textLength="95.5" lengthAdjust="spacingAndGlyphs">3/4" T&amp;G SUBFLOOR</text>
<text x="1770.4" y="1367.1" font-size="9.3" textLength="181.8" lengthAdjust="spacingAndGlyphs">STRUCTURAL I–JOISTS @ 16" O.C. MAX.</text>
<line x1="1638.8" y1="1357.8" x2="1718.6" y2="1357.8" stroke-width="1.5" stroke="#0d0d0d"/>
<line x1="1638.8" y1="1380.7" x2="1718.6" y2="1380.7" stroke-width="1.8" stroke="#0d0d0d"/>
<line x1="1638.8" y1="1385" x2="1718.6" y2="1385" stroke-width="2.8" stroke="#0d0d0d"/>
<rect x="1718.2" y="1350.4" width="7.5" height="37.6" stroke-width="0" stroke="none" fill="#0d0d0d"/>
<polyline points="1639.3,1351 1639.3,1366 1636.3,1368.5 1642.8,1372 1639.3,1374.5 1639.3,1712" stroke-width="1.1"/>
<line x1="1711" y1="1386" x2="1711" y2="1561" stroke-width="2.8" stroke="#0d0d0d"/>
<line x1="1717.6" y1="1412" x2="1717.6" y2="1561" stroke-width="1.6" stroke="#0d0d0d"/>
<rect x="1719.3" y="1424" width="3.9" height="137" stroke-width="0" stroke="none" fill="#777"/>
<line x1="1725" y1="1388" x2="1725" y2="1561" stroke-width="1.5" stroke="#0d0d0d"/>
<line x1="1716.3" y1="1388" x2="1716.3" y2="1412" stroke-width="1.4"/>
<line x1="1721.5" y1="1388" x2="1721.5" y2="1412" stroke-width="2.2" stroke="#0d0d0d"/>
<rect x="1722.6" y="1410" width="5.2" height="14" stroke-width="0" stroke="none" fill="#0d0d0d"/>
<rect x="1722.6" y="1560" width="5.4" height="11.5" stroke-width="0" stroke="none" fill="#0d0d0d"/>
<rect x="1709.6" y="1560" width="4.3" height="91" stroke-width="0" stroke="none" fill="#0d0d0d"/>
<rect x="1720" y="1560" width="5.7" height="91" stroke-width="0" stroke="none" fill="#0d0d0d"/>
<rect x="1709.6" y="1560" width="16.1" height="5" stroke-width="0" stroke="none" fill="#0d0d0d"/>
<rect x="1713.9" y="1565" width="6.1" height="85" stroke-width="0" stroke="none" fill="url(#xh6)"/>
<line x1="1652" y1="1652.8" x2="1711" y2="1652.8" stroke-width="4.2" stroke="#0d0d0d"/>
<line x1="1652" y1="1666.5" x2="1709" y2="1666.5" stroke-width="1.4" stroke="#0d0d0d"/>
<line x1="1652" y1="1670.3" x2="1709" y2="1670.3" stroke-width="3.2" stroke="#0d0d0d"/>
<line x1="1653" y1="1650.7" x2="1653" y2="1678"/>
<polyline points="1703,1655 1691,1667" stroke-width="2" stroke="#0d0d0d"/>
<rect x="1708.8" y="1650.7" width="17.6" height="68.3" stroke-width="0" stroke="none" fill="#161616"/>
<rect x="1714.5" y="1661" width="5" height="15" stroke-width="0" stroke="none" fill="#fff"/>
<rect x="1716.5" y="1690" width="3.5" height="16" stroke-width="0" stroke="none" fill="#999"/>
<rect x="1715" y="1712" width="9" height="4" stroke-width="0" stroke="none" fill="#888"/>
<line x1="1669.3" y1="1388" x2="1669.3" y2="1496"/>
<line x1="1669.3" y1="1541" x2="1669.3" y2="1649.5"/>
<polygon points="1669.3,1387 1670.8,1394 1667.8,1394" fill="#111" stroke="none"/>
<polygon points="1669.3,1650.3 1667.8,1643.3 1670.8,1643.3" fill="#111" stroke="none"/>
<text x="1672.8" y="1518.4" font-size="9.3" textLength="43.5" lengthAdjust="spacingAndGlyphs" text-anchor="middle" transform="rotate(-90 1672.8 1518.4)">SEE PLAN</text>
<polyline points="1764,1526.2 1726.4,1526.2" stroke-width="1.1"/>
<polygon points="1726.4,1526.2 1733.4,1524.6 1733.4,1527.8" fill="#111" stroke="none"/>
<text x="1769.5" y="1529.6" font-size="9.3" textLength="37" lengthAdjust="spacingAndGlyphs">WINDOW</text>
<polyline points="1766.7,1581.6 1726.4,1581.6" stroke-width="1.1"/>
<polygon points="1726.4,1581.6 1733.4,1580 1733.4,1583.2" fill="#111" stroke="none"/>
<text x="1769.5" y="1584.7" font-size="9.3" textLength="141.1" lengthAdjust="spacingAndGlyphs">STUCCO PER BUILDERS SPECS.</text>
<line x1="1726.4" y1="1593.6" x2="1766.7" y2="1593.6" stroke-width="1.1"/>
<text x="1769.5" y="1596.4" font-size="9.3" textLength="107.7" lengthAdjust="spacingAndGlyphs">2x6 STUDS @ 16" O.C.</text>
<line x1="1726.4" y1="1606.1" x2="1766.7" y2="1606.1" stroke-width="1.1"/>
<text x="1769.5" y="1608.9" font-size="9.3" textLength="71.8" lengthAdjust="spacingAndGlyphs">R19 INSULATION</text>
<line x1="1726.4" y1="1624.2" x2="1772.9" y2="1624.2" stroke-width="1.1"/>
<text x="1775.7" y="1626.4" font-size="9.3" textLength="123.9" lengthAdjust="spacingAndGlyphs">1/2" GYPSUM WALL BOARD</text>
<polyline points="1766.7,1639 1726.4,1639" stroke-width="1.1"/>
<polygon points="1726.4,1639 1733.4,1637.4 1733.4,1640.6" fill="#111" stroke="none"/>
<text x="1769.5" y="1641.8" font-size="9.3" textLength="130.3" lengthAdjust="spacingAndGlyphs">7/16" OSB WALL SHEATHING</text>
<line x1="1726.4" y1="1653.5" x2="1768.1" y2="1653.5" stroke-width="1.1"/>
<text x="1770.9" y="1656.2" font-size="9.3" textLength="96" lengthAdjust="spacingAndGlyphs">3/4" T&amp;G SUBFLOOR</text>
<polyline points="1754.2,1666.8 1747.3,1666.8 1726.4,1691" stroke-width="1.1"/>
<polygon points="1726.4,1691 1729.7,1684.7 1732.2,1686.8" fill="#111" stroke="none"/>
<text x="1757" y="1669.6" font-size="9.3" textLength="71.8" lengthAdjust="spacingAndGlyphs">ICF FOUNDATION</text>
<polyline points="1755.6,1694.7 1748.7,1694.7 1726.4,1711.9" stroke-width="1.1"/>
<polygon points="1726.4,1711.9 1730.9,1706.4 1732.9,1708.9" fill="#111" stroke="none"/>
<text x="1758.4" y="1697.4" font-size="9.3" textLength="64.6" lengthAdjust="spacingAndGlyphs">VOID MATERIAL</text>
<text x="1621.1" y="1569.9" font-size="9.3" textLength="96" lengthAdjust="spacingAndGlyphs" text-anchor="end">2x_ SILL PLATES W/</text>
<text x="1621.1" y="1581.1" font-size="9.3" textLength="81.6" lengthAdjust="spacingAndGlyphs" text-anchor="end">1/2"x10" ANCHOR</text>
<text x="1621.1" y="1591.6" font-size="9.3" textLength="94.7" lengthAdjust="spacingAndGlyphs" text-anchor="end">BOLTS @ 4'–0" O.C.</text>
<polyline points="1630.3,1572.7 1642.9,1572.7 1711.1,1647.9" stroke-width="1.1"/>
<polygon points="1711.1,1647.9 1705.2,1643.8 1707.6,1641.6" fill="#111" stroke="none"/>
<text x="1623.9" y="1624.8" font-size="9.3" textLength="121.7" lengthAdjust="spacingAndGlyphs" text-anchor="end">ENGINEERED FLOOR JOISTS</text>
<text x="1623.9" y="1635.4" font-size="9.3" textLength="78" lengthAdjust="spacingAndGlyphs" text-anchor="end">@ 16" O.C. MAX.</text>
<text x="1623.9" y="1645.7" font-size="9.3" textLength="97.4" lengthAdjust="spacingAndGlyphs" text-anchor="end">ATTACHED TO LEDGER</text>
<text x="1623.9" y="1655.7" font-size="9.3" textLength="131.4" lengthAdjust="spacingAndGlyphs" text-anchor="end">W/ SIMPSON JOIST HANGERS</text>
<polyline points="1626.7,1655.7 1663.7,1663.2" stroke-width="1.1"/>
<text x="1625.6" y="1713.3" font-size="9.3" textLength="103.6" lengthAdjust="spacingAndGlyphs" text-anchor="end">2X8 LEDGER ATTACHED</text>
<text x="1625.6" y="1724.4" font-size="9.3" textLength="91.9" lengthAdjust="spacingAndGlyphs" text-anchor="end">½"ø A.B. @ 32" O.C.</text>
<polyline points="1628.9,1723.6 1640.1,1723.6 1704.9,1672.4" stroke-width="1.1"/>
<polygon points="1704.9,1672.4 1700.4,1678 1698.5,1675.5" fill="#111" stroke="none"/>
<text x="1591.4" y="1777.3" font-size="24" textLength="174.8" lengthAdjust="spacingAndGlyphs" class="ttl">SECTION – E</text>
<line x1="1589" y1="1781.2" x2="1767" y2="1781.2" stroke-width="1.3"/>
<text x="1591.4" y="1791.5" font-size="8.2" textLength="94.6" lengthAdjust="spacingAndGlyphs" class="ttl">SCALE: 3/4" = 1'-0"</text>
<g transform="translate(680.4 38.4)">
<polyline points="1639.3,1018.3 1639.3,1140 1636.3,1143 1642.8,1147 1639.3,1150 1639.3,1351" stroke-width="1.1"/>
<line x1="1638.8" y1="1025.2" x2="1771.1" y2="1086.5" stroke-width="3.7" stroke="#0d0d0d"/>
<line x1="1646.3" y1="1026.3" x2="1658.2" y2="1031.8" stroke-width="2.2" stroke="#0d0d0d"/>
<line x1="1684" y1="1043.7" x2="1694.6" y2="1048.6" stroke-width="2.2" stroke="#0d0d0d"/>
<line x1="1719.8" y1="1060.3" x2="1731" y2="1065.5" stroke-width="2.2" stroke="#0d0d0d"/>
<line x1="1638.8" y1="1042.1" x2="1759.2" y2="1099.8" stroke-width="2.3" stroke="#0d0d0d"/>
<line x1="1638.8" y1="1070.5" x2="1693.3" y2="1070.5" stroke-width="2" stroke="#0d0d0d"/>
<path d="M1640.4 1069.6 L1642.6 1054 Q1644.1 1049.5 1645.6 1054 L1647.8 1069.6 M1647.9 1069.6 L1650.1 1054 Q1651.6 1049.5 1653.1 1054 L1655.3 1069.6 M1655.3 1069.6 L1657.5 1054 Q1659 1049.5 1660.5 1054 L1662.7 1069.6 M1662.8 1069.6 L1665 1054 Q1666.5 1049.5 1668 1054 L1670.2 1069.6 M1670.2 1069.6 L1672.4 1054 Q1673.9 1049.5 1675.4 1054 L1677.6 1069.6 M1677.7 1069.6 L1679.9 1054 Q1681.4 1049.5 1682.9 1054 L1685.1 1069.6 M1685.1 1069.6 L1687.3 1054 Q1688.8 1049.5 1690.3 1054 L1692.5 1069.6" stroke-width="1.1"/>
<path d="M1640.4 1071.5 a3.7 5.8 0 0 0 7.4 0 M1647.9 1071.5 a3.7 5.8 0 0 0 7.4 0 M1655.3 1071.5 a3.7 5.8 0 0 0 7.4 0 M1662.8 1071.5 a3.7 5.8 0 0 0 7.4 0 M1670.2 1071.5 a3.7 5.8 0 0 0 7.4 0 M1677.7 1071.5 a3.7 5.8 0 0 0 7.4 0 M1685.1 1071.5 a3.7 5.8 0 0 0 7.4 0" stroke-width="1.1"/>
<line x1="1638.8" y1="1083.3" x2="1722.6" y2="1083.3" stroke-width="3.2" stroke="#0d0d0d"/>
<line x1="1711.4" y1="1083" x2="1711.4" y2="1111" stroke-width="2.8" stroke="#0d0d0d"/>
<line x1="1716.3" y1="1085" x2="1716.3" y2="1111" stroke-width="1.4"/>
<line x1="1721.5" y1="1083" x2="1721.5" y2="1111" stroke-width="2.2" stroke="#0d0d0d"/>
<line x1="1711" y1="1090" x2="1722" y2="1090"/>
<line x1="1711" y1="1094" x2="1722" y2="1094"/>
<line x1="1722.6" y1="1103.9" x2="1762.9" y2="1103.9" stroke-width="2.7" stroke="#0d0d0d"/>
<rect x="1760.3" y="1083.5" width="6.2" height="25" stroke-width="0" stroke="none" fill="#0d0d0d"/>
<line x1="1763.3" y1="1108" x2="1763.3" y2="1172"/>
<line x1="1711" y1="1111" x2="1711" y2="1258.5" stroke-width="2.8" stroke="#0d0d0d"/>
<line x1="1717.6" y1="1111" x2="1717.6" y2="1258.5" stroke-width="1.6" stroke="#0d0d0d"/>
<rect x="1719.3" y="1122" width="3.9" height="136.5" stroke-width="0" stroke="none" fill="#777"/>
<line x1="1725" y1="1108" x2="1725" y2="1258.5" stroke-width="1.5" stroke="#0d0d0d"/>
<rect x="1722.6" y="1108" width="5.2" height="14" stroke-width="0" stroke="none" fill="#0d0d0d"/>
<rect x="1722.6" y="1258" width="5.4" height="11.5" stroke-width="0" stroke="none" fill="#0d0d0d"/>
<rect x="1709.6" y="1258" width="4.3" height="93" stroke-width="0" stroke="none" fill="#0d0d0d"/>
<rect x="1720" y="1258" width="5.7" height="93" stroke-width="0" stroke="none" fill="#0d0d0d"/>
<rect x="1709.6" y="1258" width="16.1" height="5" stroke-width="0" stroke="none" fill="#0d0d0d"/>
<rect x="1713.9" y="1263" width="6.1" height="87" stroke-width="0" stroke="none" fill="url(#xh7)"/>
<line x1="1638.8" y1="1352.3" x2="1718.6" y2="1352.3" stroke-width="3.8" stroke="#0d0d0d"/>
<line x1="1669.1" y1="1086" x2="1669.1" y2="1194"/>
<line x1="1669.1" y1="1241" x2="1669.1" y2="1350"/>
<polygon points="1669.1,1085.2 1670.6,1092.2 1667.6,1092.2" fill="#111" stroke="none"/>
<polygon points="1669.1,1350.4 1667.6,1343.4 1670.6,1343.4" fill="#111" stroke="none"/>
<text x="1672.6" y="1216.7" font-size="9.3" textLength="43.5" lengthAdjust="spacingAndGlyphs" text-anchor="middle" transform="rotate(-90 1672.6 1216.7)">SEE PLAN</text>
<line x1="1716.4" y1="1168.9" x2="1768.4" y2="1168.9"/>
<line x1="1719.2" y1="1171.5" x2="1724.4" y2="1166.3" stroke-width="1.6"/>
<line x1="1760.7" y1="1171.5" x2="1765.9" y2="1166.3" stroke-width="1.6"/>
<text x="1733" y="1167.2" font-size="8.4" textLength="18.7" lengthAdjust="spacingAndGlyphs">1'–4"</text>
<polyline points="1740,1110 1740,1145.8 1806,1145.8"/>
<polygon points="1740,1106 1741.5,1113 1738.5,1113" fill="#111" stroke="none"/>
<polyline points="1716.9,948.9 1704.4,948.9 1645.9,1024.7" stroke-width="1.1"/>
<polygon points="1645.9,1024.7 1648.9,1018.1 1651.5,1020.1" fill="#111" stroke="none"/>
<polyline points="1716.9,977.9 1708.6,977.9 1654.3,1049.7" stroke-width="1.1"/>
<polygon points="1654.3,1049.7 1657.2,1043.2 1659.8,1045.1" fill="#111" stroke="none"/>
<polyline points="1722.5,999.6 1715.5,999.6 1684.9,1044.1" stroke-width="1.1"/>
<polygon points="1684.9,1044.1 1687.6,1037.5 1690.2,1039.3" fill="#111" stroke="none"/>
<polyline points="1739.2,1036.3 1730.8,1036.3 1689.1,1102.6 1684.1,1085.3" stroke-width="1.1"/>
<polygon points="1684.1,1085.3 1687.6,1091.6 1684.5,1092.5" fill="#111" stroke="none"/>
<polyline points="1792.1,1064.5 1783.7,1064.5 1722.5,1085.9" stroke-width="1.1"/>
<polygon points="1722.5,1085.9 1728.6,1082.1 1729.6,1085.1" fill="#111" stroke="none"/>
<polyline points="1801.8,1097 1767,1097" stroke-width="1.1"/>
<polygon points="1767,1097 1774,1095.4 1774,1098.6" fill="#111" stroke="none"/>
<polyline points="1764.3,1228.7 1726.7,1228.7" stroke-width="1.1"/>
<polygon points="1726.7,1228.7 1733.7,1227.1 1733.7,1230.3" fill="#111" stroke="none"/>
<polyline points="1767,1279.4 1726.7,1279.4" stroke-width="1.1"/>
<polygon points="1726.7,1279.4 1733.7,1277.8 1733.7,1281" fill="#111" stroke="none"/>
<line x1="1726.7" y1="1291.1" x2="1767" y2="1291.1" stroke-width="1.1"/>
<line x1="1726.7" y1="1303.9" x2="1767" y2="1303.9" stroke-width="1.1"/>
<line x1="1726.7" y1="1321.7" x2="1773.2" y2="1321.7" stroke-width="1.1"/>
<polyline points="1767,1337 1726.7,1337" stroke-width="1.1"/>
<polygon points="1726.7,1337 1733.7,1335.4 1733.7,1338.6" fill="#111" stroke="none"/>
<line x1="1726.7" y1="1351.8" x2="1768.4" y2="1351.8" stroke-width="1.1"/>
<polyline points="1767,1363.7 1696,1363.7" stroke-width="1.1"/>
<polygon points="1696,1363.7 1703,1362.1 1703,1365.3" fill="#111" stroke="none"/>
<text x="1718.3" y="951.7" font-size="9.3" textLength="186.5" lengthAdjust="spacingAndGlyphs">30 YEAR ARCHITECTURAL SHINGLES OVER</text>
<text x="1718.3" y="960.6" font-size="9.3" textLength="239.4" lengthAdjust="spacingAndGlyphs">7/16"  ROOF SHEATHING W/ CLIPS OVER 30# FELT</text>
<text x="1719.2" y="980.9" font-size="9.3" textLength="102.7" lengthAdjust="spacingAndGlyphs">R=38 INSULATION MIN.</text>
<text x="1724.4" y="993.5" font-size="9.3" textLength="177.6" lengthAdjust="spacingAndGlyphs">ENGINEERED ROOF TRUSSES @ 2' O.C.</text>
<text x="1724.4" y="1002.9" font-size="9.3" textLength="202.7" lengthAdjust="spacingAndGlyphs">(SCISSOR TRUSS W/ OPT. VAULTED CEILING)</text>
<text x="1724.4" y="1014.4" font-size="9.3" textLength="205.5" lengthAdjust="spacingAndGlyphs">(PROVIDE DIAGRAMS AT FRAMING INSPECTION)</text>
<text x="1741.1" y="1038.6" font-size="9.3" textLength="123.9" lengthAdjust="spacingAndGlyphs">5/8" GYPSUM WALL BOARD</text>
<text x="1794" y="1067.2" font-size="9.3" textLength="78.2" lengthAdjust="spacingAndGlyphs">HURRICANE CLIPS</text>
<text x="1803.8" y="1099.8" font-size="9.3" textLength="32" lengthAdjust="spacingAndGlyphs">FASCIA</text>
<text x="1808.8" y="1149.9" font-size="11" textLength="195.4" lengthAdjust="spacingAndGlyphs" style="stroke-width:.22px">SOFFITS TO BE CONTINUOUSLY VENTED</text>
<text x="1808.8" y="1161.1" font-size="11" textLength="215.8" lengthAdjust="spacingAndGlyphs" style="stroke-width:.22px">EXCEPT AT FIREWALL LOCATIONS. WHERE A</text>
<text x="1808.8" y="1172.2" font-size="11" textLength="219.9" lengthAdjust="spacingAndGlyphs" style="stroke-width:.22px">SOFFIT IS NOT TERMINATED BY A FIREWALL,</text>
<text x="1808.8" y="1182.8" font-size="11" textLength="217.1" lengthAdjust="spacingAndGlyphs" style="stroke-width:.22px">FIRE RATED PLYWOOD SHALL BE INSTALLED</text>
<text x="1808.8" y="1193.9" font-size="11" textLength="229.7" lengthAdjust="spacingAndGlyphs" style="stroke-width:.22px">INSIDE OF NON VENTED SOFFIT MATERIAL 6FT</text>
<text x="1808.8" y="1204.2" font-size="11" textLength="155.1" lengthAdjust="spacingAndGlyphs" style="stroke-width:.22px">FROM THE FIREWALL LOCATION.</text>
<text x="1769" y="1232.1" font-size="9.3" textLength="37.6" lengthAdjust="spacingAndGlyphs">WINDOW</text>
<text x="1769.8" y="1282.2" font-size="9.3" textLength="140.6" lengthAdjust="spacingAndGlyphs">STUCCO PER BUILDERS SPECS.</text>
<text x="1769.8" y="1294.1" font-size="9.3" textLength="107.2" lengthAdjust="spacingAndGlyphs">2x6 STUDS @ 16" O.C.</text>
<text x="1769.8" y="1307.2" font-size="9.3" textLength="71.8" lengthAdjust="spacingAndGlyphs">R19 INSULATION</text>
<text x="1775.9" y="1324.5" font-size="9.3" textLength="123.3" lengthAdjust="spacingAndGlyphs">1/2" GYPSUM WALL BOARD</text>
<text x="1769.8" y="1339.8" font-size="9.3" textLength="130" lengthAdjust="spacingAndGlyphs">7/16" OSB WALL SHEATHING</text>
<text x="1771.2" y="1354.6" font-size="9.3" textLength="95.5" lengthAdjust="spacingAndGlyphs">3/4" T&amp;G SUBFLOOR</text>
<text x="1770.4" y="1367.1" font-size="9.3" textLength="181.8" lengthAdjust="spacingAndGlyphs">STRUCTURAL I–JOISTS @ 16" O.C. MAX.</text>
</g>
<text x="2106" y="961.7" font-size="17.5" textLength="291" lengthAdjust="spacingAndGlyphs" class="ttl">SHAFT LINER WALL DETAIL</text>
<line x1="2105" y1="964.9" x2="2398" y2="964.9" stroke-width="1.2"/>
<text x="2186.3" y="989.7" font-size="25" textLength="110.1" lengthAdjust="spacingAndGlyphs" style="fill:#444" class="thin">UL U336</text>
<line x1="2318.8" y1="1396.2" x2="2400" y2="1396.2" stroke-width="1.5" stroke="#0d0d0d"/>
<polyline points="2318.8,1390 2318.8,1402 2315.8,1404 2322.3,1407.5 2318.8,1410 2318.8,1484" stroke-width="1.1"/>
<rect x="2390.4" y="1387.1" width="16" height="38.4" stroke-width="0" stroke="none" fill="none"/>
<line x1="2403.9" y1="1387.1" x2="2403.9" y2="1424.8" stroke-width="3.6" stroke="#0d0d0d"/>
<line x1="2318.8" y1="1422.9" x2="2406.5" y2="1422.9" stroke-width="3.4" stroke="#0d0d0d"/>
<line x1="2318.8" y1="1418.8" x2="2401.6" y2="1418.8" stroke-width="1.2" stroke="#0d0d0d"/>
<line x1="2337.5" y1="1394.6" x2="2337.5" y2="1418.8" stroke-width="1.6" stroke="#0d0d0d"/>
<clipPath id="bc1"><rect x="2339.3" y="1395.4" width="60.8" height="23.6"/></clipPath>
<g clip-path="url(#bc1)">
<path d="M2346.9 1396.4 C2354.1 1407.2 2353 1418.1 2346.9 1418.1 C2340.8 1418.1 2339.8 1407.2 2346.9 1396.4 M2362.1 1396.4 C2369.3 1407.2 2368.2 1418.1 2362.1 1418.1 C2356.1 1418.1 2355 1407.2 2362.1 1396.4 M2377.3 1396.4 C2384.5 1407.2 2383.4 1418.1 2377.3 1418.1 C2371.3 1418.1 2370.2 1407.2 2377.3 1396.4 M2392.5 1396.4 C2399.7 1407.2 2398.6 1418.1 2392.5 1418.1 C2386.5 1418.1 2385.4 1407.2 2392.5 1396.4 M2339.3 1418.1 C2346.5 1407.2 2345.4 1396.4 2339.3 1396.4 C2333.2 1396.4 2332.2 1407.2 2339.3 1418.1 M2354.5 1418.1 C2361.7 1407.2 2360.6 1396.4 2354.5 1396.4 C2348.5 1396.4 2347.4 1407.2 2354.5 1418.1 M2369.7 1418.1 C2376.9 1407.2 2375.8 1396.4 2369.7 1396.4 C2363.7 1396.4 2362.6 1407.2 2369.7 1418.1 M2384.9 1418.1 C2392.1 1407.2 2391 1396.4 2384.9 1396.4 C2378.9 1396.4 2377.8 1407.2 2384.9 1418.1 M2400.1 1418.1 C2407.3 1407.2 2406.2 1396.4 2400.1 1396.4 C2394.1 1396.4 2393 1407.2 2400.1 1418.1" stroke-width="1.3"/>
</g>
<line x1="2339.3" y1="1395.3" x2="2400.1" y2="1395.3"/>
<rect x="2330.7" y="1425.5" width="10.4" height="17.5" stroke-width="1.4" stroke="#0d0d0d"/>
<line x1="2334.9" y1="1425.5" x2="2334.9" y2="1446.8" stroke-width="2.2" stroke="#0d0d0d"/>
<line x1="2311.3" y1="1431.9" x2="2354.3" y2="1431.9"/>
<line x1="2337.5" y1="1443.1" x2="2337.5" y2="1488.6"/>
<line x1="2401.6" y1="1426.3" x2="2401.6" y2="1488.6"/>
<line x1="2330" y1="1485.2" x2="2410.2" y2="1485.2"/>
<line x1="2334.7" y1="1488" x2="2340.3" y2="1482.4" stroke-width="1.6"/>
<line x1="2398.8" y1="1488" x2="2404.4" y2="1482.4" stroke-width="1.6"/>
<text x="2370.3" y="1471.8" font-size="9.3" textLength="6" lengthAdjust="spacingAndGlyphs" text-anchor="middle">2'</text>
<text x="2370.3" y="1482.6" font-size="9.3" textLength="50" lengthAdjust="spacingAndGlyphs" text-anchor="middle">CANTILEVER</text>
<polyline points="2445.7,1412.5 2386,1412.5" stroke-width="1.1"/>
<polygon points="2386,1412.5 2393,1410.9 2393,1414.1" fill="#111" stroke="none"/>
<text x="2449.4" y="1415.8" font-size="9.3" textLength="79.1" lengthAdjust="spacingAndGlyphs">R–30 INSULATION</text>
<polyline points="2421.4,1439.3 2412.1,1439.3 2401.6,1426.3" stroke-width="1.1"/>
<polygon points="2401.6,1426.3 2406.6,1430 2404.2,1431.9" fill="#111" stroke="none"/>
<text x="2425.1" y="1443.1" font-size="9.3" textLength="140.7" lengthAdjust="spacingAndGlyphs">STUCCO PER BUILDERS SPECS.</text>
<polyline points="2421.4,1461.7 2412.1,1461.7 2374.8,1425.5" stroke-width="1.1"/>
<polygon points="2374.8,1425.5 2380.1,1428.6 2378,1430.8" fill="#111" stroke="none"/>
<text x="2425.1" y="1465.4" font-size="9.3" textLength="145.5" lengthAdjust="spacingAndGlyphs">1/2" FIRE RATED CDX PLYWOOD</text>
<text x="2425.1" y="1475.5" font-size="9.3" textLength="150.4" lengthAdjust="spacingAndGlyphs">WITHIN 4FT OF SEPARATION WALL</text>
<text x="2287.1" y="1400.1" font-size="9.3" textLength="87.7" lengthAdjust="spacingAndGlyphs" text-anchor="end">BLOCKING BETWEEN</text>
<text x="2287.1" y="1409.5" font-size="9.3" textLength="100" lengthAdjust="spacingAndGlyphs" text-anchor="end">JOISTS AT CANTILEVER</text>
<polyline points="2290.8,1406.9 2337.5,1406.9" stroke-width="1.1"/>
<polygon points="2337.5,1406.9 2330.5,1408.5 2330.5,1405.3" fill="#111" stroke="none"/>
<text x="2271" y="1523.3" font-size="24" textLength="174.7" lengthAdjust="spacingAndGlyphs" class="ttl">SECTION – F</text>
<line x1="2269" y1="1526.5" x2="2447" y2="1526.5" stroke-width="1.3"/>
<text x="2271" y="1536.5" font-size="8.2" textLength="94.4" lengthAdjust="spacingAndGlyphs" class="ttl">SCALE: 3/4" = 1'-0"</text>
<line x1="1732.6" y1="1789" x2="1732.6" y2="2029.5" stroke="#555"/>
<line x1="1736.4" y1="1789" x2="1736.4" y2="1929.5" stroke="#555"/>
<line x1="1732.6" y1="1789" x2="1736.4" y2="1789" stroke="#555"/>
<line x1="1736.4" y1="1929.5" x2="1833.8" y2="1929.5" stroke="#555"/>
<line x1="1693.3" y1="2029.5" x2="2106.9" y2="2029.5" stroke-width="1.3" stroke="#333"/>
<rect x="1736.9" y="1935.9" width="94.4" height="84.6" stroke="#555"/>
<rect x="1746.2" y="1937.2" width="29.2" height="10.3" stroke="#555"/>
<rect x="1748.7" y="1939.7" width="24.1" height="5.9" stroke-width="0.7" stroke="#555"/>
<ellipse cx="1760.8" cy="1958.5" rx="9.2" ry="12.8" stroke="#555" stroke-width="1"/>
<rect x="1783.8" y="1935.9" width="47.4" height="29.5" stroke="#555"/>
<ellipse cx="1807.4" cy="1950" rx="14.1" ry="11" stroke="#555" stroke-width="1"/>
<ellipse cx="1807.4" cy="1951.3" rx="10.3" ry="7.2" stroke="#555" stroke-width="0.8"/>
<rect x="1792.8" y="1929.5" width="29.5" height="5.9" stroke="#555"/>
<line x1="1792.8" y1="1930.8" x2="1822.3" y2="1930.8" stroke-width="0.5" stroke="#555"/>
<line x1="1792.8" y1="1932.1" x2="1822.3" y2="1932.1" stroke-width="0.5" stroke="#555"/>
<line x1="1792.8" y1="1933.3" x2="1822.3" y2="1933.3" stroke-width="0.5" stroke="#555"/>
<line x1="1792.8" y1="1934.6" x2="1822.3" y2="1934.6" stroke-width="0.5" stroke="#555"/>
<polyline points="1782.6,2020.5 1782.6,2017.9 1797.4,1990.3 1824.9,2019.2 1823.6,2021.8" stroke="#555"/>
<path d="M1797.4 1990.3 Q1783.8 2002.6 1782.6 2017.9" stroke="#555"/>
<polyline points="1736.4,2022.6 1771,2022.6 1771,2029.5" stroke="#555"/>
<polyline points="1774.9,2029.5 1774.9,2022.6 1782.6,2022.6" stroke="#555"/>
<polyline points="1823.6,2022.6 1831.3,2022.6" stroke="#555"/>
<line x1="1837.7" y1="1934.6" x2="1837.7" y2="2029.5" stroke-width="1.6" stroke="#2a2a2a"/>
<line x1="1840.3" y1="1934.6" x2="1840.3" y2="2029.5" stroke-width="1.6" stroke="#2a2a2a"/>
<line x1="1858.2" y1="1934.6" x2="1858.2" y2="2029.5" stroke-width="1.6" stroke="#2a2a2a"/>
<line x1="1860.8" y1="1934.6" x2="1860.8" y2="2029.5" stroke-width="1.6" stroke="#2a2a2a"/>
<line x1="1880" y1="1934.6" x2="1880" y2="2029.5" stroke-width="1.6" stroke="#2a2a2a"/>
<line x1="1882.6" y1="1934.6" x2="1882.6" y2="2029.5" stroke-width="1.6" stroke="#2a2a2a"/>
<line x1="1900.5" y1="1934.6" x2="1900.5" y2="2029.5" stroke-width="1.6" stroke="#2a2a2a"/>
<line x1="1903.1" y1="1934.6" x2="1903.1" y2="2029.5" stroke-width="1.6" stroke="#2a2a2a"/>
<line x1="1921" y1="1934.6" x2="1921" y2="2029.5" stroke-width="1.6" stroke="#2a2a2a"/>
<line x1="1923.6" y1="1934.6" x2="1923.6" y2="2029.5" stroke-width="1.6" stroke="#2a2a2a"/>
<line x1="1941.5" y1="1934.6" x2="1941.5" y2="2029.5" stroke-width="1.6" stroke="#2a2a2a"/>
<line x1="1944.1" y1="1934.6" x2="1944.1" y2="2029.5" stroke-width="1.6" stroke="#2a2a2a"/>
<line x1="1962.1" y1="1934.6" x2="1962.1" y2="2029.5" stroke-width="1.6" stroke="#2a2a2a"/>
<line x1="1964.6" y1="1934.6" x2="1964.6" y2="2029.5" stroke-width="1.6" stroke="#2a2a2a"/>
<line x1="1983.8" y1="1934.6" x2="1983.8" y2="2029.5" stroke-width="1.6" stroke="#2a2a2a"/>
<line x1="1986.4" y1="1934.6" x2="1986.4" y2="2029.5" stroke-width="1.6" stroke="#2a2a2a"/>
<line x1="2004.4" y1="1934.6" x2="2004.4" y2="2029.5" stroke-width="1.6" stroke="#2a2a2a"/>
<line x1="2006.9" y1="1934.6" x2="2006.9" y2="2029.5" stroke-width="1.6" stroke="#2a2a2a"/>
<line x1="2024.9" y1="1934.6" x2="2024.9" y2="2029.5" stroke-width="1.6" stroke="#2a2a2a"/>
<line x1="2027.4" y1="1934.6" x2="2027.4" y2="2029.5" stroke-width="1.6" stroke="#2a2a2a"/>
<line x1="2046.7" y1="1934.6" x2="2046.7" y2="2029.5" stroke-width="1.6" stroke="#2a2a2a"/>
<line x1="2049.2" y1="1934.6" x2="2049.2" y2="2029.5" stroke-width="1.6" stroke="#2a2a2a"/>
<line x1="2068.5" y1="1934.6" x2="2068.5" y2="2029.5" stroke-width="1.6" stroke="#2a2a2a"/>
<line x1="2071" y1="1934.6" x2="2071" y2="2029.5" stroke-width="1.6" stroke="#2a2a2a"/>
<line x1="2024.9" y1="1878.2" x2="2024.9" y2="1928.2" stroke-width="1.6" stroke="#2a2a2a"/>
<line x1="2027.4" y1="1878.2" x2="2027.4" y2="1928.2" stroke-width="1.6" stroke="#2a2a2a"/>
<line x1="2046.7" y1="1878.2" x2="2046.7" y2="1928.2" stroke-width="1.6" stroke="#2a2a2a"/>
<line x1="2049.2" y1="1878.2" x2="2049.2" y2="1928.2" stroke-width="1.6" stroke="#2a2a2a"/>
<line x1="1840.3" y1="2016.7" x2="1878.7" y2="2016.7" stroke="#888"/>
<line x1="1840.3" y1="2022.6" x2="1878.7" y2="2022.6" stroke="#888"/>
<line x1="1926.2" y1="2016.7" x2="1972.3" y2="2016.7" stroke="#888"/>
<line x1="1926.2" y1="2022.6" x2="1972.3" y2="2022.6" stroke="#888"/>
<line x1="1974.9" y1="2016.7" x2="2072.3" y2="2016.7" stroke="#888"/>
<line x1="1974.9" y1="2022.6" x2="2072.3" y2="2022.6" stroke="#888"/>
<line x1="2072.3" y1="1843.6" x2="2072.3" y2="2029.5" stroke="#555"/>
<line x1="2076.9" y1="1843.6" x2="2076.9" y2="2029.5" stroke="#555"/>
<line x1="2072.3" y1="1843.6" x2="2076.9" y2="1843.6" stroke="#555"/>
<line x1="1854.4" y1="1874.4" x2="2009.5" y2="1874.4" stroke-width="1.1" stroke="#555"/>
<line x1="1854.4" y1="1876.9" x2="2009.5" y2="1876.9" stroke-width="1.1" stroke="#555"/>
<line x1="1854.4" y1="1903.8" x2="1977.4" y2="1903.8" stroke-width="1.1" stroke="#555"/>
<line x1="1854.4" y1="1906.4" x2="1977.4" y2="1906.4" stroke-width="1.1" stroke="#555"/>
<path d="M1854.4 1874.4 a1.3 1.3 0 0 0 0 2.6" stroke-width="1.1" stroke="#555"/>
<path d="M1854.4 1903.8 a1.3 1.3 0 0 0 0 2.6" stroke-width="1.1" stroke="#555"/>
<rect x="1836.9" y="1928.2" width="235.9" height="6.4" stroke-width="0" stroke="none" fill="#0d0d0d"/>
<rect x="2009.5" y="1873.1" width="63.3" height="5.4" stroke-width="0" stroke="none" fill="#0d0d0d"/>
<rect x="2009.5" y="1873.1" width="6.4" height="55.1" stroke-width="0" stroke="none" fill="#0d0d0d"/>
<rect x="2011.5" y="1875.6" width="2.6" height="3.3" stroke-width="0" stroke="none" fill="#fff"/>
<line x1="1832.6" y1="1973.8" x2="2080" y2="1973.8" stroke-width="1.1"/>
<line x1="1833.9" y1="1976.8" x2="1839.9" y2="1970.8" stroke-width="1.3"/>
<line x1="2069.3" y1="1976.8" x2="2075.3" y2="1970.8" stroke-width="1.3"/>
<line x1="1992.3" y1="1888.5" x2="1992.3" y2="2037.2"/>
<line x1="1983.8" y1="2037.2" x2="1992.3" y2="2037.2" stroke-width="2.4"/>
<circle cx="1992.3" cy="1905.6" r="10.3" stroke-width="1.2" fill="#fff"/>
<polygon points="1992.3,1888.5 1987.7,1895.4 1996.9,1895.4" stroke-width="0" stroke="none" fill="#111"/>
<polygon points="1992.3,1922.6 1987.7,1915.9 1996.9,1915.9" stroke-width="0" stroke="none" fill="#111"/>
<polygon points="1977.4,1905.6 1982.6,1901.3 1982.6,1910.3" stroke-width="0" stroke="none" fill="#111"/>
<text x="1992.3" y="1909.7" font-size="12" textLength="8.5" lengthAdjust="spacingAndGlyphs" text-anchor="middle" style="stroke-width:.22px">G</text>
<line x1="2002.6" y1="1903.8" x2="2009.5" y2="1903.8" stroke-width="1.1" stroke="#555"/>
<line x1="2002.6" y1="1906.4" x2="2009.5" y2="1906.4" stroke-width="1.1" stroke="#555"/>
<polyline points="1906.9,2029.5 1908.7,2025.6 1910.8,2033.3 1912.8,2029.5" stroke-width="1.1"/>
<text x="1853.1" y="1855.9" font-size="9.3" textLength="34.1" lengthAdjust="spacingAndGlyphs" text-anchor="end">(3) P.T.</text>
<text x="1853.1" y="1865.9" font-size="9.3" textLength="74.4" lengthAdjust="spacingAndGlyphs" text-anchor="end">2X12 STRINGERS</text>
<polyline points="1856.9,1853.1 1865.9,1853.1 1885.1,1874.4" stroke-width="1.1"/>
<polygon points="1885.1,1874.4 1879.2,1870.2 1881.6,1868.1" fill="#111" stroke="none"/>
<text x="1894.1" y="1855.9" font-size="9.3" textLength="70.5" lengthAdjust="spacingAndGlyphs">(2) P.T. 2X10's</text>
<polyline points="1967.2,1853.1 1978.7,1853.1 2018.5,1873.1" stroke-width="1.1"/>
<polygon points="2018.5,1873.1 2011.5,1871.4 2012.9,1868.5" fill="#111" stroke="none"/>
<polyline points="1978.7,1853.1 2008.2,1888.5" stroke-width="1.1"/>
<polygon points="2008.2,1888.5 2002.5,1884.1 2005,1882.1" fill="#111" stroke="none"/>
<text x="1783.3" y="1914.9" font-size="9.3" textLength="135.1" lengthAdjust="spacingAndGlyphs">(2) 1–3/4" x 11–7/8" LVLS</text>
<polyline points="1921,1912.1 1932.6,1912.1 1959.5,1928.2" stroke-width="1.1"/>
<polygon points="1959.5,1928.2 1952.7,1926 1954.3,1923.2" fill="#111" stroke="none"/>
<text x="1955.1" y="1959" font-size="9.3" textLength="87.2" lengthAdjust="spacingAndGlyphs" text-anchor="middle">ENGINEERED JOISTS</text>
<text x="1955.1" y="1969.2" font-size="9.3" textLength="51.3" lengthAdjust="spacingAndGlyphs" text-anchor="middle">@ 16" O.C.</text>
<text x="2112.8" y="1874.4" font-size="9.3" textLength="77.4" lengthAdjust="spacingAndGlyphs">P.T. 2X10 JOISTS</text>
<text x="2112.8" y="1884.6" font-size="9.3" textLength="51.3" lengthAdjust="spacingAndGlyphs">@ 16" O.C.</text>
<polyline points="2110.8,1871 2100.5,1871 2050.5,1903.8" stroke-width="1.1"/>
<polygon points="2050.5,1903.8 2055.5,1898.7 2057.2,1901.3" fill="#111" stroke="none"/>
<text x="2112.8" y="1900" font-size="9.3" textLength="67.2" lengthAdjust="spacingAndGlyphs">SIMPSON JOIST</text>
<text x="2112.8" y="1909.7" font-size="9.3" textLength="63.3" lengthAdjust="spacingAndGlyphs">HANGERS TYP.</text>
<polyline points="2110.8,1896.9 2103.1,1896.9 2072.3,1928.2" stroke-width="1.1"/>
<polygon points="2072.3,1928.2 2076.1,1922.1 2078.4,1924.3" fill="#111" stroke="none"/>
<text x="1805.6" y="2068" font-size="24" textLength="218" lengthAdjust="spacingAndGlyphs" class="ttl">DECK FRAMING</text>
<line x1="1804" y1="2070.7" x2="2025" y2="2070.7" stroke-width="1.3"/>
<text x="1805.6" y="2081.5" font-size="8.2" textLength="61.1" lengthAdjust="spacingAndGlyphs" class="ttl">SCALE: N.T.S</text>
<line x1="2382.7" y1="1860.4" x2="2570.5" y2="1860.4" stroke-width="1.2" stroke="#0d0d0d" stroke-dasharray="5 2"/>
<rect x="2364.7" y="1861.7" width="205.8" height="6.4" stroke-width="0" stroke="none" fill="#0d0d0d"/>
<line x1="2367.3" y1="1864.7" x2="2569.1" y2="1864.7" stroke-width="0.7" stroke="#999"/>
<rect x="2364.7" y="1893.1" width="205.8" height="5.3" stroke-width="0" stroke="none" fill="#0d0d0d"/>
<line x1="2367.3" y1="1895.5" x2="2561.2" y2="1895.5" stroke-width="0.7" stroke="#999"/>
<polyline points="2366,1859.3 2366,1878.5 2361.5,1880.6 2375.3,1882.7 2366,1884.6 2366,1905.8" stroke-width="1.1"/>
<clipPath id="bc2"><rect x="2397.8" y="1869" width="162" height="23.8"/></clipPath>
<g clip-path="url(#bc2)">
<path d="M2404.1 1870 C2409.9 1880.9 2409.1 1891.7 2404.1 1891.7 C2399.1 1891.7 2398.2 1880.9 2404.1 1870 M2416.5 1870 C2422.4 1880.9 2421.5 1891.7 2416.5 1891.7 C2411.6 1891.7 2410.7 1880.9 2416.5 1870 M2429 1870 C2434.9 1880.9 2434 1891.7 2429 1891.7 C2424 1891.7 2423.1 1880.9 2429 1870 M2441.5 1870 C2447.3 1880.9 2446.4 1891.7 2441.5 1891.7 C2436.5 1891.7 2435.6 1880.9 2441.5 1870 M2453.9 1870 C2459.8 1880.9 2458.9 1891.7 2453.9 1891.7 C2448.9 1891.7 2448.1 1880.9 2453.9 1870 M2466.4 1870 C2472.2 1880.9 2471.4 1891.7 2466.4 1891.7 C2461.4 1891.7 2460.5 1880.9 2466.4 1870 M2478.8 1870 C2484.7 1880.9 2483.8 1891.7 2478.8 1891.7 C2473.9 1891.7 2473 1880.9 2478.8 1870 M2491.3 1870 C2497.2 1880.9 2496.3 1891.7 2491.3 1891.7 C2486.3 1891.7 2485.5 1880.9 2491.3 1870 M2503.8 1870 C2509.6 1880.9 2508.8 1891.7 2503.8 1891.7 C2498.8 1891.7 2497.9 1880.9 2503.8 1870 M2516.2 1870 C2522.1 1880.9 2521.2 1891.7 2516.2 1891.7 C2511.2 1891.7 2510.4 1880.9 2516.2 1870 M2528.7 1870 C2534.5 1880.9 2533.7 1891.7 2528.7 1891.7 C2523.7 1891.7 2522.8 1880.9 2528.7 1870 M2541.2 1870 C2547 1880.9 2546.1 1891.7 2541.2 1891.7 C2536.2 1891.7 2535.3 1880.9 2541.2 1870 M2553.6 1870 C2559.5 1880.9 2558.6 1891.7 2553.6 1891.7 C2548.6 1891.7 2547.8 1880.9 2553.6 1870 M2397.8 1891.7 C2403.7 1880.9 2402.8 1870 2397.8 1870 C2392.9 1870 2392 1880.9 2397.8 1891.7 M2410.3 1891.7 C2416.2 1880.9 2415.3 1870 2410.3 1870 C2405.3 1870 2404.5 1880.9 2410.3 1891.7 M2422.8 1891.7 C2428.6 1880.9 2427.8 1870 2422.8 1870 C2417.8 1870 2416.9 1880.9 2422.8 1891.7 M2435.2 1891.7 C2441.1 1880.9 2440.2 1870 2435.2 1870 C2430.2 1870 2429.4 1880.9 2435.2 1891.7 M2447.7 1891.7 C2453.6 1880.9 2452.7 1870 2447.7 1870 C2442.7 1870 2441.8 1880.9 2447.7 1891.7 M2460.2 1891.7 C2466 1880.9 2465.1 1870 2460.2 1870 C2455.2 1870 2454.3 1880.9 2460.2 1891.7 M2472.6 1891.7 C2478.5 1880.9 2477.6 1870 2472.6 1870 C2467.6 1870 2466.8 1880.9 2472.6 1891.7 M2485.1 1891.7 C2490.9 1880.9 2490.1 1870 2485.1 1870 C2480.1 1870 2479.2 1880.9 2485.1 1891.7 M2497.5 1891.7 C2503.4 1880.9 2502.5 1870 2497.5 1870 C2492.6 1870 2491.7 1880.9 2497.5 1891.7 M2510 1891.7 C2515.9 1880.9 2515 1870 2510 1870 C2505 1870 2504.1 1880.9 2510 1891.7 M2522.5 1891.7 C2528.3 1880.9 2527.4 1870 2522.5 1870 C2517.5 1870 2516.6 1880.9 2522.5 1891.7 M2534.9 1891.7 C2540.8 1880.9 2539.9 1870 2534.9 1870 C2529.9 1870 2529.1 1880.9 2534.9 1891.7 M2547.4 1891.7 C2553.2 1880.9 2552.4 1870 2547.4 1870 C2542.4 1870 2541.5 1880.9 2547.4 1891.7 M2559.8 1891.7 C2565.7 1880.9 2564.8 1870 2559.8 1870 C2554.9 1870 2554 1880.9 2559.8 1891.7" stroke-width="1.3"/>
</g>
<line x1="2395.2" y1="1860.4" x2="2395.2" y2="1897.8"/>
<line x1="2397.8" y1="1867.8" x2="2397.8" y2="1893.3"/>
<rect x="2554" y="1765.9" width="15.7" height="94.8" stroke-width="2.4" stroke="#0d0d0d"/>
<line x1="2554" y1="1769.6" x2="2569.7" y2="1769.6" stroke-width="1.2" stroke="#0d0d0d"/>
<rect x="2561.2" y="1862.5" width="9.3" height="39.3" stroke-width="0" stroke="none" fill="#0d0d0d"/>
<rect x="2564.4" y="1868.6" width="2.7" height="24.7" stroke-width="0" stroke="none" fill="#999"/>
<line x1="2554" y1="1897.8" x2="2554" y2="1969.6" stroke-width="2.6" stroke="#0d0d0d"/>
<line x1="2569.7" y1="1897.8" x2="2569.7" y2="1969.6" stroke-width="2.8" stroke="#0d0d0d"/>
<line x1="2554" y1="1904" x2="2569.7" y2="1904" stroke-width="2" stroke="#0d0d0d"/>
<rect x="2556.7" y="1905.8" width="10.6" height="62.9" stroke-width="0" stroke="none" fill="url(#xh8)"/>
<line x1="2541.3" y1="1969.6" x2="2586.4" y2="1969.6" stroke-width="1.1"/>
<polyline points="2559,1969.6 2560.6,1974.9 2562.8,1969.6" stroke-width="1.1"/>
<line x1="2382.7" y1="1823.5" x2="2382.7" y2="1860.7" stroke-width="1.6" stroke="#0d0d0d"/>
<line x1="2397.1" y1="1823.5" x2="2397.1" y2="1860.7" stroke-width="1.6" stroke="#0d0d0d"/>
<polyline points="2372.6,1823.5 2387.2,1823.5 2389.1,1818.2 2391.7,1826.9 2393.3,1823.5 2401.8,1823.5" stroke-width="1.1"/>
<rect x="2383.2" y="1897.8" width="14.6" height="31.1" stroke-width="2" stroke="#0d0d0d"/>
<line x1="2386.7" y1="1897.8" x2="2386.7" y2="1928.9" stroke-width="1.7" stroke="#0d0d0d"/>
<line x1="2390.1" y1="1897.8" x2="2390.1" y2="1928.9" stroke-width="1.7" stroke="#0d0d0d"/>
<line x1="2393.6" y1="1897.8" x2="2393.6" y2="1928.9" stroke-width="1.7" stroke="#0d0d0d"/>
<line x1="2620.4" y1="1759.8" x2="2620.4" y2="1868.6" stroke-width="1.1"/>
<line x1="2577.1" y1="1765.1" x2="2628.9" y2="1765.1" stroke-width="1.1"/>
<line x1="2577.1" y1="1860.7" x2="2628.9" y2="1860.7" stroke-width="1.1"/>
<line x1="2617.4" y1="1768.1" x2="2623.4" y2="1762.1" stroke-width="1.3"/>
<line x1="2617.4" y1="1863.7" x2="2623.4" y2="1857.7" stroke-width="1.3"/>
<text x="2607.6" y="1812.9" font-size="9.3" textLength="54.4" lengthAdjust="spacingAndGlyphs" text-anchor="middle" transform="rotate(-90 2607.6 1812.9)">34" TO 36"</text>
<text x="2618" y="1812.9" font-size="9.3" textLength="73" lengthAdjust="spacingAndGlyphs" text-anchor="middle" transform="rotate(-90 2618 1812.9)">FRAMED RAILING</text>
<text x="2583.7" y="1735.9" font-size="9.3" textLength="58.4" lengthAdjust="spacingAndGlyphs">P.T. FRAMING</text>
<text x="2583.7" y="1745.1" font-size="9.3" textLength="47.8" lengthAdjust="spacingAndGlyphs">PER BLDR.</text>
<polyline points="2581.9,1733.2 2574.5,1733.2 2562.5,1765.1" stroke-width="1.1"/>
<polygon points="2562.5,1765.1 2563.5,1757.9 2566.5,1759.1" fill="#111" stroke="none"/>
<text x="2444.3" y="1752.6" font-size="9.3" textLength="97.5" lengthAdjust="spacingAndGlyphs">GALVANIZED FLASHING</text>
<polyline points="2442.2,1749.9 2435,1749.9 2397.8,1859.3" stroke-width="1.1"/>
<polygon points="2397.8,1859.3 2398.6,1852.2 2401.6,1853.2" fill="#111" stroke="none"/>
<text x="2455.7" y="1790.3" font-size="9.3" textLength="74.9" lengthAdjust="spacingAndGlyphs">P.T. ¾" PLYWOOD</text>
<text x="2455.7" y="1800.9" font-size="9.3" textLength="93.5" lengthAdjust="spacingAndGlyphs">ABOVE TPO ROOFING</text>
<polyline points="2453.6,1787.1 2446.4,1787.1 2420.4,1859.3" stroke-width="1.1"/>
<polygon points="2420.4,1859.3 2421.3,1852.2 2424.3,1853.3" fill="#111" stroke="none"/>
<text x="2455.7" y="1825.6" font-size="9.3" textLength="74.9" lengthAdjust="spacingAndGlyphs">2x P.T. DECKING</text>
<text x="2455.7" y="1835.4" font-size="9.3" textLength="81.5" lengthAdjust="spacingAndGlyphs">OR TREX DECKING</text>
<text x="2455.7" y="1845.5" font-size="9.3" textLength="58.4" lengthAdjust="spacingAndGlyphs">PER BUILDER</text>
<polyline points="2453.6,1822.7 2447,1822.7 2432.4,1859.3" stroke-width="1.1"/>
<polygon points="2432.4,1859.3 2433.5,1852.2 2436.5,1853.4" fill="#111" stroke="none"/>
<text x="2300.9" y="1873.9" font-size="9.3" textLength="87.6" lengthAdjust="spacingAndGlyphs" text-anchor="end">ENGINEERED JOISTS</text>
<text x="2300.9" y="1884.6" font-size="9.3" textLength="51.3" lengthAdjust="spacingAndGlyphs" text-anchor="end">@ 16" O.C.</text>
<polyline points="2303.6,1881.9 2376.6,1881.9" stroke-width="1.1"/>
<polygon points="2376.6,1881.9 2368.6,1883.5 2368.6,1880.3" fill="#111" stroke="none"/>
<text x="2615.6" y="1882.7" font-size="9.3" textLength="97.5" lengthAdjust="spacingAndGlyphs">GALVANIZED FLASHING</text>
<polyline points="2613.8,1880.1 2605,1880.1 2571.8,1864.1" stroke-width="1.1"/>
<polygon points="2571.8,1864.1 2578.8,1865.7 2577.4,1868.6" fill="#111" stroke="none"/>
<text x="2615.6" y="1898.6" font-size="9.3" textLength="135.4" lengthAdjust="spacingAndGlyphs">(2) 1–3/4" x 11–7/8" LVLS</text>
<polyline points="2613.8,1895.7 2571.8,1895.7" stroke-width="1.1"/>
<polygon points="2571.8,1895.7 2578.8,1894.1 2578.8,1897.3" fill="#111" stroke="none"/>
<text x="2618.3" y="1916.4" font-size="9.3" textLength="102.8" lengthAdjust="spacingAndGlyphs">7/16" OSB SHEATHING</text>
<polyline points="2615.6,1913.3 2571.8,1913.3" stroke-width="1.1"/>
<polygon points="2571.8,1913.3 2578.8,1911.7 2578.8,1914.9" fill="#111" stroke="none"/>
<text x="2618.3" y="1929.7" font-size="9.3" textLength="99.6" lengthAdjust="spacingAndGlyphs">1/2" R–2 INSULATION</text>
<polyline points="2615.6,1926.5 2571.8,1926.5" stroke-width="1.1"/>
<polygon points="2571.8,1926.5 2578.8,1924.9 2578.8,1928.1" fill="#111" stroke="none"/>
<text x="2618.3" y="1942.2" font-size="9.3" textLength="67.2" lengthAdjust="spacingAndGlyphs">STUCCO FINISH</text>
<polyline points="2615.6,1939 2571.8,1939" stroke-width="1.1"/>
<polygon points="2571.8,1939 2578.8,1937.4 2578.8,1940.6" fill="#111" stroke="none"/>
<text x="2273" y="1955.5" font-size="9.3" textLength="78.9" lengthAdjust="spacingAndGlyphs">BEAM BY OTHERS</text>
<polyline points="2354.6,1952.3 2373.9,1952.3 2384.6,1929.7" stroke-width="1.1"/>
<polygon points="2384.6,1929.7 2383,1936.7 2380.1,1935.4" fill="#111" stroke="none"/>
<text x="2298.3" y="1975.7" font-size="9.3" textLength="78.9" lengthAdjust="spacingAndGlyphs">R–38 INSULATION</text>
<polyline points="2379.8,1972.7 2397.8,1972.7 2458.9,1885.9" stroke-width="1.1"/>
<polygon points="2458.9,1885.9 2456.2,1892.5 2453.6,1890.7" fill="#111" stroke="none"/>
<text x="2376.6" y="1996.9" font-size="9.3" textLength="86.8" lengthAdjust="spacingAndGlyphs" text-anchor="end">ENGINEERED JOISTS</text>
<text x="2376.6" y="2007.5" font-size="9.3" textLength="51.3" lengthAdjust="spacingAndGlyphs" text-anchor="end">@ 16" O.C.</text>
<polyline points="2379.8,2004.9 2397.8,2004.9 2436.4,1897.8" stroke-width="1.1"/>
<polygon points="2436.4,1897.8 2435.5,1905 2432.5,1903.9" fill="#111" stroke="none"/>
<text x="2350" y="2035.9" font-size="9.3" textLength="51.3" lengthAdjust="spacingAndGlyphs">⅝" GYP BD.</text>
<polyline points="2404,2035.1 2420.4,2035.1 2492.1,1898.6" stroke-width="1.1"/>
<polygon points="2492.1,1898.6 2490.3,1905.6 2487.5,1904.1" fill="#111" stroke="none"/>
<text x="2372" y="2067.8" font-size="24" textLength="178" lengthAdjust="spacingAndGlyphs" class="ttl">SECTION – G</text>
<line x1="2370" y1="2070.7" x2="2551" y2="2070.7" stroke-width="1.3"/>
<text x="2372" y="2081.8" font-size="8.2" textLength="61.2" lengthAdjust="spacingAndGlyphs" class="ttl">SCALE: N.T.S</text>
<rect x="2742.5" y="192" width="12.5" height="716" stroke-width="0" stroke="none" fill="#efefef"/>
<line x1="2756.3" y1="192" x2="2756.3" y2="924" stroke-width="2.2" stroke="#8a8a8a"/>
<rect x="1639.8" y="206.6" width="1101.5" height="700" stroke-width="2" stroke="#3a3a3a"/>
<line x1="2290" y1="206.6" x2="2290" y2="841" stroke-width="2" stroke="#3a3a3a"/>
<line x1="1639.8" y1="841" x2="2741.3" y2="841" stroke-width="2" stroke="#3a3a3a"/>
<line x1="2290" y1="656.5" x2="2741.3" y2="656.5" stroke-width="1.4" stroke="#3a3a3a"/>
<line x1="1739.2" y1="841" x2="1739.2" y2="906.6" stroke-width="1.5" stroke="#3a3a3a"/>
<line x1="1964.6" y1="841" x2="1964.6" y2="906.6" stroke-width="1.5" stroke="#3a3a3a"/>
<line x1="2470.5" y1="841" x2="2470.5" y2="906.6" stroke-width="1.5" stroke="#3a3a3a"/>
<line x1="2551.3" y1="841" x2="2551.3" y2="906.6" stroke-width="1.5" stroke="#3a3a3a"/>
<line x1="1641" y1="210.5" x2="2740" y2="210.5" stroke-width="0.6" stroke="#bbb"/>
<line x1="2293" y1="210" x2="2293" y2="840" stroke-width="0.5" stroke="#ccc"/>
<g class="nb halo">
<text x="1669.3" y="248.4" font-size="12.5" textLength="68" lengthAdjust="spacingAndGlyphs" font-weight="bold">DESIGN NO.</text>
<text x="1767" y="248.4" font-size="12.5" textLength="45" lengthAdjust="spacingAndGlyphs" font-weight="bold">UL U336</text>
<text x="1669.3" y="266.5" font-size="8.3" textLength="46.2" lengthAdjust="spacingAndGlyphs" font-weight="bold" style="fill:#333">FIRE RATING:</text>
<text x="1828" y="266.5" font-size="8.3" textLength="31.7" lengthAdjust="spacingAndGlyphs" font-weight="bold" style="fill:#333">2 HOURS</text>
<text x="1669.3" y="275.6" font-size="8.3" textLength="44.1" lengthAdjust="spacingAndGlyphs" font-weight="bold" style="fill:#333">STC RATING:</text>
<text x="1828" y="275.6" font-size="8.3" textLength="7" lengthAdjust="spacingAndGlyphs" font-weight="bold" style="fill:#333">66</text>
<text x="1669.3" y="286.1" font-size="8.3" textLength="47.1" lengthAdjust="spacingAndGlyphs" font-weight="bold" style="fill:#333">SOUND TEST:</text>
<text x="1828" y="286.1" font-size="8.3" textLength="46.2" lengthAdjust="spacingAndGlyphs" font-weight="bold" style="fill:#333">RAL-TL20-180</text>
<text x="1669.3" y="295.8" font-size="8.3" textLength="72.5" lengthAdjust="spacingAndGlyphs" font-weight="bold" style="fill:#333">SYSTEM THICKNESS:</text>
<text x="1828" y="295.8" font-size="8.3" textLength="53.8" lengthAdjust="spacingAndGlyphs" font-weight="bold" style="fill:#333">11-1/2" [292 MM]</text>
<text x="1669.3" y="306.4" font-size="8.3" textLength="37.8" lengthAdjust="spacingAndGlyphs" font-weight="bold" style="fill:#333">LOCATION:</text>
<text x="1828" y="306.4" font-size="8.3" textLength="33.2" lengthAdjust="spacingAndGlyphs" font-weight="bold" style="fill:#333">INTERIOR</text>
<text x="1669.3" y="316.3" font-size="8.3" textLength="54.4" lengthAdjust="spacingAndGlyphs" font-weight="bold" style="fill:#333">FRAMING TYPE:</text>
<text x="1828" y="316.3" font-size="8.3" textLength="104.6" lengthAdjust="spacingAndGlyphs" font-weight="bold" style="fill:#333">WOOD STUD (LOAD-BEARING)</text>
<text x="1669.3" y="574.8" font-size="12.5" textLength="166" lengthAdjust="spacingAndGlyphs" font-weight="bold">ASSEMBLY REQUIREMENTS:</text>
<text x="1669.3" y="599.8" font-size="8.3" textLength="72.5" lengthAdjust="spacingAndGlyphs" font-weight="bold" style="fill:#333">GYPSUM PANELS:</text>
<text x="1828.9" y="599.8" font-size="8.3" textLength="284.1" lengthAdjust="spacingAndGlyphs" font-weight="bold" style="fill:#333">ONE LAYER 1/2" [12.7 MM] SHEETROCK® ULTRALIGHT GYPSUM PANEL</text>
<text x="1669.3" y="609.5" font-size="8.3" textLength="58.9" lengthAdjust="spacingAndGlyphs" font-weight="bold" style="fill:#333">WOOD STUDS:</text>
<text x="1828.9" y="609.5" font-size="8.3" textLength="208.5" lengthAdjust="spacingAndGlyphs" font-weight="bold" style="fill:#333">2" X 4" [38 X 89 MM] WOOD STUDS, 24" [610 MM] O.C.</text>
<text x="1669.3" y="619.2" font-size="8.3" textLength="50.8" lengthAdjust="spacingAndGlyphs" font-weight="bold" style="fill:#333">INSULATION:</text>
<text x="1828.9" y="619.2" font-size="8.3" textLength="146" lengthAdjust="spacingAndGlyphs" font-weight="bold" style="fill:#333">3" [76 MM] FIBERGLASS INSULATION</text>
<text x="1669.3" y="628.8" font-size="8.3" textLength="46.2" lengthAdjust="spacingAndGlyphs" font-weight="bold" style="fill:#333">AIR SPACE:</text>
<text x="1828.9" y="628.8" font-size="8.3" textLength="93.7" lengthAdjust="spacingAndGlyphs" font-weight="bold" style="fill:#333">3/4" [19 MM] AIR SPACE</text>
<text x="1669.3" y="638.2" font-size="8.3" textLength="58.3" lengthAdjust="spacingAndGlyphs" font-weight="bold" style="fill:#333">STEEL STUDS:</text>
<text x="1828.9" y="638.2" font-size="8.3" textLength="151.1" lengthAdjust="spacingAndGlyphs" font-weight="bold" style="fill:#333">2" [51 MM] H-STUDS, 24" [610 MM] O.C.</text>
<text x="1669.3" y="647.9" font-size="8.3" textLength="72.5" lengthAdjust="spacingAndGlyphs" font-weight="bold" style="fill:#333">GYPSUM PANELS:</text>
<text x="1828.9" y="647.9" font-size="8.3" textLength="323.4" lengthAdjust="spacingAndGlyphs" font-weight="bold" style="fill:#333">TWO LAYERS 1" [25.4 MM] SHEETROCK® GYPSUM LINER PANELS (UL TYPE SLX)</text>
<text x="1669.3" y="657.3" font-size="8.3" textLength="46.2" lengthAdjust="spacingAndGlyphs" font-weight="bold" style="fill:#333">AIR SPACE:</text>
<text x="1828.9" y="657.3" font-size="8.3" textLength="93.7" lengthAdjust="spacingAndGlyphs" font-weight="bold" style="fill:#333">3/4" [19 MM] AIR SPACE</text>
<text x="1669.3" y="666.9" font-size="8.3" textLength="58.9" lengthAdjust="spacingAndGlyphs" font-weight="bold" style="fill:#333">WOOD STUDS:</text>
<text x="1828.9" y="666.9" font-size="8.3" textLength="208.5" lengthAdjust="spacingAndGlyphs" font-weight="bold" style="fill:#333">2" X 4" [38 X 89 MM] WOOD STUDS, 24" [610 MM] O.C.</text>
<text x="1669.3" y="676.6" font-size="8.3" textLength="50.8" lengthAdjust="spacingAndGlyphs" font-weight="bold" style="fill:#333">INSULATION:</text>
<text x="1828.9" y="676.6" font-size="8.3" textLength="146" lengthAdjust="spacingAndGlyphs" font-weight="bold" style="fill:#333">3" [76 MM] FIBERGLASS INSULATION</text>
<text x="1669.3" y="686" font-size="8.3" textLength="72.5" lengthAdjust="spacingAndGlyphs" font-weight="bold" style="fill:#333">GYPSUM PANELS:</text>
<text x="1828.9" y="686" font-size="8.3" textLength="284.1" lengthAdjust="spacingAndGlyphs" font-weight="bold" style="fill:#333">ONE LAYER 1/2" [12.7 MM] SHEETROCK® ULTRALIGHT GYPSUM PANEL</text>
</g>
<line x1="1735.2" y1="394.9" x2="2188.5" y2="394.9" stroke-width="1.2" stroke="#444"/>
<line x1="1735.2" y1="400.1" x2="2188.5" y2="400.1" stroke="#444"/>
<line x1="1735.2" y1="425.1" x2="2188.5" y2="425.1" stroke="#444"/>
<line x1="1735.2" y1="432.7" x2="2188.5" y2="432.7" stroke="#444"/>
<line x1="1735.2" y1="438.7" x2="2188.5" y2="438.7" stroke-width="0.8" stroke="#444"/>
<line x1="1735.2" y1="444.8" x2="2188.5" y2="444.8" stroke="#444"/>
<line x1="1735.2" y1="450.8" x2="2188.5" y2="450.8" stroke="#444"/>
<line x1="1735.2" y1="476.5" x2="2188.5" y2="476.5" stroke="#444"/>
<line x1="1735.2" y1="482.6" x2="2188.5" y2="482.6" stroke-width="1.2" stroke="#444"/>
<line x1="1735.2" y1="393.4" x2="1735.2" y2="482.6" stroke-width="1.2" stroke="#444"/>
<line x1="2188.5" y1="393.4" x2="2188.5" y2="482.6" stroke-width="1.2" stroke="#444"/>
<rect x="1735.2" y="394.9" width="453.3" height="5.1" stroke-width="0" stroke="none" fill="#cfcfcf"/>
<rect x="1735.2" y="476.5" width="453.3" height="6" stroke-width="0" stroke="none" fill="#cfcfcf"/>
<rect x="1735.2" y="432.7" width="453.3" height="12.1" stroke-width="0" stroke="none" fill="#9a9a9a"/>
<line x1="1735.2" y1="435.7" x2="2188.5" y2="435.7" stroke-width="1.2" stroke="#eee" stroke-dasharray="2 1.6"/>
<line x1="1735.2" y1="441.8" x2="2188.5" y2="441.8" stroke-width="1.2" stroke="#eee" stroke-dasharray="1.5 2.1"/>
<line x1="1735.2" y1="438.7" x2="2188.5" y2="438.7" stroke-width="0.8" stroke="#333"/>
<clipPath id="cb668"><rect x="1735.2" y="400.9" width="453.3" height="24.4"/></clipPath>
<g clip-path="url(#cb668)">
<path d="M1741 401.9 C1748.6 414.2 1746.8 424.2 1741 424.2 C1735.2 424.2 1733.5 414.2 1741 401.9 M1752.6 401.9 C1760.2 414.2 1758.4 424.2 1752.6 424.2 C1746.8 424.2 1745.1 414.2 1752.6 401.9 M1764.3 401.9 C1771.8 414.2 1770.1 424.2 1764.3 424.2 C1758.4 424.2 1756.7 414.2 1764.3 401.9 M1775.9 401.9 C1783.4 414.2 1781.7 424.2 1775.9 424.2 C1770.1 424.2 1768.3 414.2 1775.9 401.9 M1787.5 401.9 C1795.1 414.2 1793.3 424.2 1787.5 424.2 C1781.7 424.2 1779.9 414.2 1787.5 401.9 M1799.1 401.9 C1806.7 414.2 1804.9 424.2 1799.1 424.2 C1793.3 424.2 1791.6 414.2 1799.1 401.9 M1810.7 401.9 C1818.3 414.2 1816.6 424.2 1810.7 424.2 C1804.9 424.2 1803.2 414.2 1810.7 401.9 M1822.4 401.9 C1829.9 414.2 1828.2 424.2 1822.4 424.2 C1816.6 424.2 1814.8 414.2 1822.4 401.9 M1834 401.9 C1841.5 414.2 1839.8 424.2 1834 424.2 C1828.2 424.2 1826.4 414.2 1834 401.9 M1845.6 401.9 C1853.2 414.2 1851.4 424.2 1845.6 424.2 C1839.8 424.2 1838.1 414.2 1845.6 401.9 M1857.2 401.9 C1864.8 414.2 1863.1 424.2 1857.2 424.2 C1851.4 424.2 1849.7 414.2 1857.2 401.9 M1868.9 401.9 C1876.4 414.2 1874.7 424.2 1868.9 424.2 C1863.1 424.2 1861.3 414.2 1868.9 401.9 M1880.5 401.9 C1888 414.2 1886.3 424.2 1880.5 424.2 C1874.7 424.2 1872.9 414.2 1880.5 401.9 M1892.1 401.9 C1899.7 414.2 1897.9 424.2 1892.1 424.2 C1886.3 424.2 1884.6 414.2 1892.1 401.9 M1903.7 401.9 C1911.3 414.2 1909.5 424.2 1903.7 424.2 C1897.9 424.2 1896.2 414.2 1903.7 401.9 M1915.4 401.9 C1922.9 414.2 1921.2 424.2 1915.4 424.2 C1909.5 424.2 1907.8 414.2 1915.4 401.9 M1927 401.9 C1934.5 414.2 1932.8 424.2 1927 424.2 C1921.2 424.2 1919.4 414.2 1927 401.9 M1938.6 401.9 C1946.2 414.2 1944.4 424.2 1938.6 424.2 C1932.8 424.2 1931 414.2 1938.6 401.9 M1950.2 401.9 C1957.8 414.2 1956 424.2 1950.2 424.2 C1944.4 424.2 1942.7 414.2 1950.2 401.9 M1961.8 401.9 C1969.4 414.2 1967.7 424.2 1961.8 424.2 C1956 424.2 1954.3 414.2 1961.8 401.9 M1973.5 401.9 C1981 414.2 1979.3 424.2 1973.5 424.2 C1967.7 424.2 1965.9 414.2 1973.5 401.9 M1985.1 401.9 C1992.7 414.2 1990.9 424.2 1985.1 424.2 C1979.3 424.2 1977.5 414.2 1985.1 401.9 M1996.7 401.9 C2004.3 414.2 2002.5 424.2 1996.7 424.2 C1990.9 424.2 1989.2 414.2 1996.7 401.9 M2008.3 401.9 C2015.9 414.2 2014.2 424.2 2008.3 424.2 C2002.5 424.2 2000.8 414.2 2008.3 401.9 M2020 401.9 C2027.5 414.2 2025.8 424.2 2020 424.2 C2014.2 424.2 2012.4 414.2 2020 401.9 M2031.6 401.9 C2039.1 414.2 2037.4 424.2 2031.6 424.2 C2025.8 424.2 2024 414.2 2031.6 401.9 M2043.2 401.9 C2050.8 414.2 2049 424.2 2043.2 424.2 C2037.4 424.2 2035.7 414.2 2043.2 401.9 M2054.8 401.9 C2062.4 414.2 2060.6 424.2 2054.8 424.2 C2049 424.2 2047.3 414.2 2054.8 401.9 M2066.5 401.9 C2074 414.2 2072.3 424.2 2066.5 424.2 C2060.6 424.2 2058.9 414.2 2066.5 401.9 M2078.1 401.9 C2085.6 414.2 2083.9 424.2 2078.1 424.2 C2072.3 424.2 2070.5 414.2 2078.1 401.9 M2089.7 401.9 C2097.3 414.2 2095.5 424.2 2089.7 424.2 C2083.9 424.2 2082.2 414.2 2089.7 401.9 M2101.3 401.9 C2108.9 414.2 2107.1 424.2 2101.3 424.2 C2095.5 424.2 2093.8 414.2 2101.3 401.9 M2113 401.9 C2120.5 414.2 2118.8 424.2 2113 424.2 C2107.1 424.2 2105.4 414.2 2113 401.9 M2124.6 401.9 C2132.1 414.2 2130.4 424.2 2124.6 424.2 C2118.8 424.2 2117 414.2 2124.6 401.9 M2136.2 401.9 C2143.8 414.2 2142 424.2 2136.2 424.2 C2130.4 424.2 2128.6 414.2 2136.2 401.9 M2147.8 401.9 C2155.4 414.2 2153.6 424.2 2147.8 424.2 C2142 424.2 2140.3 414.2 2147.8 401.9 M2159.4 401.9 C2167 414.2 2165.3 424.2 2159.4 424.2 C2153.6 424.2 2151.9 414.2 2159.4 401.9 M2171.1 401.9 C2178.6 414.2 2176.9 424.2 2171.1 424.2 C2165.3 424.2 2163.5 414.2 2171.1 401.9 M2182.7 401.9 C2190.2 414.2 2188.5 424.2 2182.7 424.2 C2176.9 424.2 2175.1 414.2 2182.7 401.9 M1735.2 424.2 C1742.8 411.9 1741 401.9 1735.2 401.9 C1729.4 401.9 1727.6 411.9 1735.2 424.2 M1746.8 424.2 C1754.4 411.9 1752.6 401.9 1746.8 401.9 C1741 401.9 1739.3 411.9 1746.8 424.2 M1758.4 424.2 C1766 411.9 1764.3 401.9 1758.4 401.9 C1752.6 401.9 1750.9 411.9 1758.4 424.2 M1770.1 424.2 C1777.6 411.9 1775.9 401.9 1770.1 401.9 C1764.3 401.9 1762.5 411.9 1770.1 424.2 M1781.7 424.2 C1789.2 411.9 1787.5 401.9 1781.7 401.9 C1775.9 401.9 1774.1 411.9 1781.7 424.2 M1793.3 424.2 C1800.9 411.9 1799.1 401.9 1793.3 401.9 C1787.5 401.9 1785.8 411.9 1793.3 424.2 M1804.9 424.2 C1812.5 411.9 1810.7 401.9 1804.9 401.9 C1799.1 401.9 1797.4 411.9 1804.9 424.2 M1816.6 424.2 C1824.1 411.9 1822.4 401.9 1816.6 401.9 C1810.7 401.9 1809 411.9 1816.6 424.2 M1828.2 424.2 C1835.7 411.9 1834 401.9 1828.2 401.9 C1822.4 401.9 1820.6 411.9 1828.2 424.2 M1839.8 424.2 C1847.4 411.9 1845.6 401.9 1839.8 401.9 C1834 401.9 1832.2 411.9 1839.8 424.2 M1851.4 424.2 C1859 411.9 1857.2 401.9 1851.4 401.9 C1845.6 401.9 1843.9 411.9 1851.4 424.2 M1863.1 424.2 C1870.6 411.9 1868.9 401.9 1863.1 401.9 C1857.2 401.9 1855.5 411.9 1863.1 424.2 M1874.7 424.2 C1882.2 411.9 1880.5 401.9 1874.7 401.9 C1868.9 401.9 1867.1 411.9 1874.7 424.2 M1886.3 424.2 C1893.9 411.9 1892.1 401.9 1886.3 401.9 C1880.5 401.9 1878.7 411.9 1886.3 424.2 M1897.9 424.2 C1905.5 411.9 1903.7 401.9 1897.9 401.9 C1892.1 401.9 1890.4 411.9 1897.9 424.2 M1909.5 424.2 C1917.1 411.9 1915.4 401.9 1909.5 401.9 C1903.7 401.9 1902 411.9 1909.5 424.2 M1921.2 424.2 C1928.7 411.9 1927 401.9 1921.2 401.9 C1915.4 401.9 1913.6 411.9 1921.2 424.2 M1932.8 424.2 C1940.3 411.9 1938.6 401.9 1932.8 401.9 C1927 401.9 1925.2 411.9 1932.8 424.2 M1944.4 424.2 C1952 411.9 1950.2 401.9 1944.4 401.9 C1938.6 401.9 1936.9 411.9 1944.4 424.2 M1956 424.2 C1963.6 411.9 1961.8 401.9 1956 401.9 C1950.2 401.9 1948.5 411.9 1956 424.2 M1967.7 424.2 C1975.2 411.9 1973.5 401.9 1967.7 401.9 C1961.8 401.9 1960.1 411.9 1967.7 424.2 M1979.3 424.2 C1986.8 411.9 1985.1 401.9 1979.3 401.9 C1973.5 401.9 1971.7 411.9 1979.3 424.2 M1990.9 424.2 C1998.5 411.9 1996.7 401.9 1990.9 401.9 C1985.1 401.9 1983.4 411.9 1990.9 424.2 M2002.5 424.2 C2010.1 411.9 2008.3 401.9 2002.5 401.9 C1996.7 401.9 1995 411.9 2002.5 424.2 M2014.2 424.2 C2021.7 411.9 2020 401.9 2014.2 401.9 C2008.3 401.9 2006.6 411.9 2014.2 424.2 M2025.8 424.2 C2033.3 411.9 2031.6 401.9 2025.8 401.9 C2020 401.9 2018.2 411.9 2025.8 424.2 M2037.4 424.2 C2045 411.9 2043.2 401.9 2037.4 401.9 C2031.6 401.9 2029.8 411.9 2037.4 424.2 M2049 424.2 C2056.6 411.9 2054.8 401.9 2049 401.9 C2043.2 401.9 2041.5 411.9 2049 424.2 M2060.6 424.2 C2068.2 411.9 2066.5 401.9 2060.6 401.9 C2054.8 401.9 2053.1 411.9 2060.6 424.2 M2072.3 424.2 C2079.8 411.9 2078.1 401.9 2072.3 401.9 C2066.5 401.9 2064.7 411.9 2072.3 424.2 M2083.9 424.2 C2091.4 411.9 2089.7 401.9 2083.9 401.9 C2078.1 401.9 2076.3 411.9 2083.9 424.2 M2095.5 424.2 C2103.1 411.9 2101.3 401.9 2095.5 401.9 C2089.7 401.9 2088 411.9 2095.5 424.2 M2107.1 424.2 C2114.7 411.9 2113 401.9 2107.1 401.9 C2101.3 401.9 2099.6 411.9 2107.1 424.2 M2118.8 424.2 C2126.3 411.9 2124.6 401.9 2118.8 401.9 C2113 401.9 2111.2 411.9 2118.8 424.2 M2130.4 424.2 C2137.9 411.9 2136.2 401.9 2130.4 401.9 C2124.6 401.9 2122.8 411.9 2130.4 424.2 M2142 424.2 C2149.6 411.9 2147.8 401.9 2142 401.9 C2136.2 401.9 2134.5 411.9 2142 424.2 M2153.6 424.2 C2161.2 411.9 2159.4 401.9 2153.6 401.9 C2147.8 401.9 2146.1 411.9 2153.6 424.2 M2165.3 424.2 C2172.8 411.9 2171.1 401.9 2165.3 401.9 C2159.4 401.9 2157.7 411.9 2165.3 424.2 M2176.9 424.2 C2184.4 411.9 2182.7 401.9 2176.9 401.9 C2171.1 401.9 2169.3 411.9 2176.9 424.2 M2188.5 424.2 C2196.1 411.9 2194.3 401.9 2188.5 401.9 C2182.7 401.9 2180.9 411.9 2188.5 424.2" stroke-width="0.9" stroke="#2e2e2e"/>
</g>
<clipPath id="cb835"><rect x="1735.2" y="451.3" width="453.3" height="25.3"/></clipPath>
<g clip-path="url(#cb835)">
<path d="M1741 452.3 C1748.6 465.1 1746.8 475.6 1741 475.6 C1735.2 475.6 1733.5 465.1 1741 452.3 M1752.6 452.3 C1760.2 465.1 1758.4 475.6 1752.6 475.6 C1746.8 475.6 1745.1 465.1 1752.6 452.3 M1764.3 452.3 C1771.8 465.1 1770.1 475.6 1764.3 475.6 C1758.4 475.6 1756.7 465.1 1764.3 452.3 M1775.9 452.3 C1783.4 465.1 1781.7 475.6 1775.9 475.6 C1770.1 475.6 1768.3 465.1 1775.9 452.3 M1787.5 452.3 C1795.1 465.1 1793.3 475.6 1787.5 475.6 C1781.7 475.6 1779.9 465.1 1787.5 452.3 M1799.1 452.3 C1806.7 465.1 1804.9 475.6 1799.1 475.6 C1793.3 475.6 1791.6 465.1 1799.1 452.3 M1810.7 452.3 C1818.3 465.1 1816.6 475.6 1810.7 475.6 C1804.9 475.6 1803.2 465.1 1810.7 452.3 M1822.4 452.3 C1829.9 465.1 1828.2 475.6 1822.4 475.6 C1816.6 475.6 1814.8 465.1 1822.4 452.3 M1834 452.3 C1841.5 465.1 1839.8 475.6 1834 475.6 C1828.2 475.6 1826.4 465.1 1834 452.3 M1845.6 452.3 C1853.2 465.1 1851.4 475.6 1845.6 475.6 C1839.8 475.6 1838.1 465.1 1845.6 452.3 M1857.2 452.3 C1864.8 465.1 1863.1 475.6 1857.2 475.6 C1851.4 475.6 1849.7 465.1 1857.2 452.3 M1868.9 452.3 C1876.4 465.1 1874.7 475.6 1868.9 475.6 C1863.1 475.6 1861.3 465.1 1868.9 452.3 M1880.5 452.3 C1888 465.1 1886.3 475.6 1880.5 475.6 C1874.7 475.6 1872.9 465.1 1880.5 452.3 M1892.1 452.3 C1899.7 465.1 1897.9 475.6 1892.1 475.6 C1886.3 475.6 1884.6 465.1 1892.1 452.3 M1903.7 452.3 C1911.3 465.1 1909.5 475.6 1903.7 475.6 C1897.9 475.6 1896.2 465.1 1903.7 452.3 M1915.4 452.3 C1922.9 465.1 1921.2 475.6 1915.4 475.6 C1909.5 475.6 1907.8 465.1 1915.4 452.3 M1927 452.3 C1934.5 465.1 1932.8 475.6 1927 475.6 C1921.2 475.6 1919.4 465.1 1927 452.3 M1938.6 452.3 C1946.2 465.1 1944.4 475.6 1938.6 475.6 C1932.8 475.6 1931 465.1 1938.6 452.3 M1950.2 452.3 C1957.8 465.1 1956 475.6 1950.2 475.6 C1944.4 475.6 1942.7 465.1 1950.2 452.3 M1961.8 452.3 C1969.4 465.1 1967.7 475.6 1961.8 475.6 C1956 475.6 1954.3 465.1 1961.8 452.3 M1973.5 452.3 C1981 465.1 1979.3 475.6 1973.5 475.6 C1967.7 475.6 1965.9 465.1 1973.5 452.3 M1985.1 452.3 C1992.7 465.1 1990.9 475.6 1985.1 475.6 C1979.3 475.6 1977.5 465.1 1985.1 452.3 M1996.7 452.3 C2004.3 465.1 2002.5 475.6 1996.7 475.6 C1990.9 475.6 1989.2 465.1 1996.7 452.3 M2008.3 452.3 C2015.9 465.1 2014.2 475.6 2008.3 475.6 C2002.5 475.6 2000.8 465.1 2008.3 452.3 M2020 452.3 C2027.5 465.1 2025.8 475.6 2020 475.6 C2014.2 475.6 2012.4 465.1 2020 452.3 M2031.6 452.3 C2039.1 465.1 2037.4 475.6 2031.6 475.6 C2025.8 475.6 2024 465.1 2031.6 452.3 M2043.2 452.3 C2050.8 465.1 2049 475.6 2043.2 475.6 C2037.4 475.6 2035.7 465.1 2043.2 452.3 M2054.8 452.3 C2062.4 465.1 2060.6 475.6 2054.8 475.6 C2049 475.6 2047.3 465.1 2054.8 452.3 M2066.5 452.3 C2074 465.1 2072.3 475.6 2066.5 475.6 C2060.6 475.6 2058.9 465.1 2066.5 452.3 M2078.1 452.3 C2085.6 465.1 2083.9 475.6 2078.1 475.6 C2072.3 475.6 2070.5 465.1 2078.1 452.3 M2089.7 452.3 C2097.3 465.1 2095.5 475.6 2089.7 475.6 C2083.9 475.6 2082.2 465.1 2089.7 452.3 M2101.3 452.3 C2108.9 465.1 2107.1 475.6 2101.3 475.6 C2095.5 475.6 2093.8 465.1 2101.3 452.3 M2113 452.3 C2120.5 465.1 2118.8 475.6 2113 475.6 C2107.1 475.6 2105.4 465.1 2113 452.3 M2124.6 452.3 C2132.1 465.1 2130.4 475.6 2124.6 475.6 C2118.8 475.6 2117 465.1 2124.6 452.3 M2136.2 452.3 C2143.8 465.1 2142 475.6 2136.2 475.6 C2130.4 475.6 2128.6 465.1 2136.2 452.3 M2147.8 452.3 C2155.4 465.1 2153.6 475.6 2147.8 475.6 C2142 475.6 2140.3 465.1 2147.8 452.3 M2159.4 452.3 C2167 465.1 2165.3 475.6 2159.4 475.6 C2153.6 475.6 2151.9 465.1 2159.4 452.3 M2171.1 452.3 C2178.6 465.1 2176.9 475.6 2171.1 475.6 C2165.3 475.6 2163.5 465.1 2171.1 452.3 M2182.7 452.3 C2190.2 465.1 2188.5 475.6 2182.7 475.6 C2176.9 475.6 2175.1 465.1 2182.7 452.3 M1735.2 475.6 C1742.8 462.8 1741 452.3 1735.2 452.3 C1729.4 452.3 1727.6 462.8 1735.2 475.6 M1746.8 475.6 C1754.4 462.8 1752.6 452.3 1746.8 452.3 C1741 452.3 1739.3 462.8 1746.8 475.6 M1758.4 475.6 C1766 462.8 1764.3 452.3 1758.4 452.3 C1752.6 452.3 1750.9 462.8 1758.4 475.6 M1770.1 475.6 C1777.6 462.8 1775.9 452.3 1770.1 452.3 C1764.3 452.3 1762.5 462.8 1770.1 475.6 M1781.7 475.6 C1789.2 462.8 1787.5 452.3 1781.7 452.3 C1775.9 452.3 1774.1 462.8 1781.7 475.6 M1793.3 475.6 C1800.9 462.8 1799.1 452.3 1793.3 452.3 C1787.5 452.3 1785.8 462.8 1793.3 475.6 M1804.9 475.6 C1812.5 462.8 1810.7 452.3 1804.9 452.3 C1799.1 452.3 1797.4 462.8 1804.9 475.6 M1816.6 475.6 C1824.1 462.8 1822.4 452.3 1816.6 452.3 C1810.7 452.3 1809 462.8 1816.6 475.6 M1828.2 475.6 C1835.7 462.8 1834 452.3 1828.2 452.3 C1822.4 452.3 1820.6 462.8 1828.2 475.6 M1839.8 475.6 C1847.4 462.8 1845.6 452.3 1839.8 452.3 C1834 452.3 1832.2 462.8 1839.8 475.6 M1851.4 475.6 C1859 462.8 1857.2 452.3 1851.4 452.3 C1845.6 452.3 1843.9 462.8 1851.4 475.6 M1863.1 475.6 C1870.6 462.8 1868.9 452.3 1863.1 452.3 C1857.2 452.3 1855.5 462.8 1863.1 475.6 M1874.7 475.6 C1882.2 462.8 1880.5 452.3 1874.7 452.3 C1868.9 452.3 1867.1 462.8 1874.7 475.6 M1886.3 475.6 C1893.9 462.8 1892.1 452.3 1886.3 452.3 C1880.5 452.3 1878.7 462.8 1886.3 475.6 M1897.9 475.6 C1905.5 462.8 1903.7 452.3 1897.9 452.3 C1892.1 452.3 1890.4 462.8 1897.9 475.6 M1909.5 475.6 C1917.1 462.8 1915.4 452.3 1909.5 452.3 C1903.7 452.3 1902 462.8 1909.5 475.6 M1921.2 475.6 C1928.7 462.8 1927 452.3 1921.2 452.3 C1915.4 452.3 1913.6 462.8 1921.2 475.6 M1932.8 475.6 C1940.3 462.8 1938.6 452.3 1932.8 452.3 C1927 452.3 1925.2 462.8 1932.8 475.6 M1944.4 475.6 C1952 462.8 1950.2 452.3 1944.4 452.3 C1938.6 452.3 1936.9 462.8 1944.4 475.6 M1956 475.6 C1963.6 462.8 1961.8 452.3 1956 452.3 C1950.2 452.3 1948.5 462.8 1956 475.6 M1967.7 475.6 C1975.2 462.8 1973.5 452.3 1967.7 452.3 C1961.8 452.3 1960.1 462.8 1967.7 475.6 M1979.3 475.6 C1986.8 462.8 1985.1 452.3 1979.3 452.3 C1973.5 452.3 1971.7 462.8 1979.3 475.6 M1990.9 475.6 C1998.5 462.8 1996.7 452.3 1990.9 452.3 C1985.1 452.3 1983.4 462.8 1990.9 475.6 M2002.5 475.6 C2010.1 462.8 2008.3 452.3 2002.5 452.3 C1996.7 452.3 1995 462.8 2002.5 475.6 M2014.2 475.6 C2021.7 462.8 2020 452.3 2014.2 452.3 C2008.3 452.3 2006.6 462.8 2014.2 475.6 M2025.8 475.6 C2033.3 462.8 2031.6 452.3 2025.8 452.3 C2020 452.3 2018.2 462.8 2025.8 475.6 M2037.4 475.6 C2045 462.8 2043.2 452.3 2037.4 452.3 C2031.6 452.3 2029.8 462.8 2037.4 475.6 M2049 475.6 C2056.6 462.8 2054.8 452.3 2049 452.3 C2043.2 452.3 2041.5 462.8 2049 475.6 M2060.6 475.6 C2068.2 462.8 2066.5 452.3 2060.6 452.3 C2054.8 452.3 2053.1 462.8 2060.6 475.6 M2072.3 475.6 C2079.8 462.8 2078.1 452.3 2072.3 452.3 C2066.5 452.3 2064.7 462.8 2072.3 475.6 M2083.9 475.6 C2091.4 462.8 2089.7 452.3 2083.9 452.3 C2078.1 452.3 2076.3 462.8 2083.9 475.6 M2095.5 475.6 C2103.1 462.8 2101.3 452.3 2095.5 452.3 C2089.7 452.3 2088 462.8 2095.5 475.6 M2107.1 475.6 C2114.7 462.8 2113 452.3 2107.1 452.3 C2101.3 452.3 2099.6 462.8 2107.1 475.6 M2118.8 475.6 C2126.3 462.8 2124.6 452.3 2118.8 452.3 C2113 452.3 2111.2 462.8 2118.8 475.6 M2130.4 475.6 C2137.9 462.8 2136.2 452.3 2130.4 452.3 C2124.6 452.3 2122.8 462.8 2130.4 475.6 M2142 475.6 C2149.6 462.8 2147.8 452.3 2142 452.3 C2136.2 452.3 2134.5 462.8 2142 475.6 M2153.6 475.6 C2161.2 462.8 2159.4 452.3 2153.6 452.3 C2147.8 452.3 2146.1 462.8 2153.6 475.6 M2165.3 475.6 C2172.8 462.8 2171.1 452.3 2165.3 452.3 C2159.4 452.3 2157.7 462.8 2165.3 475.6 M2176.9 475.6 C2184.4 462.8 2182.7 452.3 2176.9 452.3 C2171.1 452.3 2169.3 462.8 2176.9 475.6 M2188.5 475.6 C2196.1 462.8 2194.3 452.3 2188.5 452.3 C2182.7 452.3 2180.9 462.8 2188.5 475.6" stroke-width="0.9" stroke="#2e2e2e"/>
</g>
<rect x="1797.1" y="400.1" width="9.1" height="25.1" stroke="#333" fill="#fff"/>
<line x1="1797.1" y1="400.1" x2="1806.2" y2="425.1" stroke-width="0.8" stroke="#333"/>
<line x1="1806.2" y1="400.1" x2="1797.1" y2="425.1" stroke-width="0.8" stroke="#333"/>
<rect x="1797.1" y="450.8" width="9.1" height="25.7" stroke="#333" fill="#fff"/>
<line x1="1797.1" y1="450.8" x2="1806.2" y2="476.5" stroke-width="0.8" stroke="#333"/>
<line x1="1806.2" y1="450.8" x2="1797.1" y2="476.5" stroke-width="0.8" stroke="#333"/>
<line x1="1801.7" y1="432.7" x2="1801.7" y2="444.8" stroke="#333"/>
<rect x="1958.8" y="400.1" width="9.1" height="25.1" stroke="#333" fill="#fff"/>
<line x1="1958.8" y1="400.1" x2="1967.9" y2="425.1" stroke-width="0.8" stroke="#333"/>
<line x1="1967.9" y1="400.1" x2="1958.8" y2="425.1" stroke-width="0.8" stroke="#333"/>
<rect x="1958.8" y="450.8" width="9.1" height="25.7" stroke="#333" fill="#fff"/>
<line x1="1958.8" y1="450.8" x2="1967.9" y2="476.5" stroke-width="0.8" stroke="#333"/>
<line x1="1967.9" y1="450.8" x2="1958.8" y2="476.5" stroke-width="0.8" stroke="#333"/>
<line x1="1963.4" y1="432.7" x2="1963.4" y2="444.8" stroke="#333"/>
<rect x="2119" y="400.1" width="8.2" height="25.1" stroke="#333" fill="#fff"/>
<line x1="2119" y1="400.1" x2="2127.2" y2="425.1" stroke-width="0.8" stroke="#333"/>
<line x1="2127.2" y1="400.1" x2="2119" y2="425.1" stroke-width="0.8" stroke="#333"/>
<rect x="2119" y="450.8" width="8.2" height="25.7" stroke="#333" fill="#fff"/>
<line x1="2119" y1="450.8" x2="2127.2" y2="476.5" stroke-width="0.8" stroke="#333"/>
<line x1="2127.2" y1="450.8" x2="2119" y2="476.5" stroke-width="0.8" stroke="#333"/>
<line x1="2123.1" y1="432.7" x2="2123.1" y2="444.8" stroke="#333"/>
<line x1="1795.6" y1="380.7" x2="2129.6" y2="380.7" stroke-width="1.4" stroke="#222"/>
<line x1="1801.7" y1="372.3" x2="1801.7" y2="393.4" stroke-width="1.2" stroke="#222"/>
<line x1="1798.7" y1="383.7" x2="1804.7" y2="377.7" stroke-width="1.2" stroke="#222"/>
<line x1="1961.8" y1="372.3" x2="1961.8" y2="393.4" stroke-width="1.2" stroke="#222"/>
<line x1="1958.8" y1="383.7" x2="1964.8" y2="377.7" stroke-width="1.2" stroke="#222"/>
<line x1="2123.5" y1="372.3" x2="2123.5" y2="393.4" stroke-width="1.2" stroke="#222"/>
<line x1="2120.5" y1="383.7" x2="2126.5" y2="377.7" stroke-width="1.2" stroke="#222"/>
<g class="nb halo">
<text x="1881.8" y="377.4" font-size="9" textLength="14" lengthAdjust="spacingAndGlyphs" text-anchor="middle" font-weight="bold" style="fill:#333">24"</text>
<text x="2041.9" y="377.4" font-size="9" textLength="14" lengthAdjust="spacingAndGlyphs" text-anchor="middle" font-weight="bold" style="fill:#333">24"</text>
<text x="1883.3" y="390.4" font-size="8.5" textLength="38" lengthAdjust="spacingAndGlyphs" text-anchor="middle" font-weight="bold" style="fill:#333">[610 mm]</text>
<text x="2042.5" y="390.4" font-size="8.5" textLength="38" lengthAdjust="spacingAndGlyphs" text-anchor="middle" font-weight="bold" style="fill:#333">[610 mm]</text>
<line x1="1714" y1="393.4" x2="1714" y2="484.1" stroke-width="1.3" stroke="#222"/>
<line x1="1708" y1="397.9" x2="1732.2" y2="397.9" stroke="#222"/>
<line x1="1708" y1="478" x2="1732.2" y2="478" stroke="#222"/>
<line x1="1711" y1="400.9" x2="1717" y2="394.9" stroke-width="1.2" stroke="#222"/>
<line x1="1711" y1="481" x2="1717" y2="475" stroke-width="1.2" stroke="#222"/>
<text x="1711.3" y="438.7" font-size="9" textLength="30" lengthAdjust="spacingAndGlyphs" text-anchor="middle" font-weight="bold" style="fill:#333" transform="rotate(-90 1711.3 438.7)">11 1/2"</text>
<text x="1726.1" y="438.7" font-size="8.5" textLength="38" lengthAdjust="spacingAndGlyphs" text-anchor="middle" font-weight="bold" style="fill:#333" transform="rotate(-90 1726.1 438.7)">[292 mm]</text>
</g>
<polygon points="2435.2,294.8 2578.1,376.5 2578.1,579.1 2435.2,499.8" stroke-width="0" stroke="none" fill="#333333"/>
<polygon points="2435.2,294.8 2439.3,292.3 2582.9,373.3 2578.1,376.5" stroke-width="0" stroke="none" fill="#e9cd72"/>
<polygon points="2439.3,292.3 2443.6,289.6 2587.9,369.9 2582.9,373.3" stroke-width="0" stroke="none" fill="#7d7d7d"/>
<polygon points="2443.6,289.6 2447.4,287.3 2592.4,366.9 2587.9,369.9" stroke-width="0" stroke="none" fill="#e9cd72"/>
<polygon points="2447.4,287.3 2448.7,286.5 2594,365.9 2592.4,366.9" stroke-width="0" stroke="none" fill="#5a5a5a"/>
<polygon points="2578.1,376.5 2582.9,373.3 2582.9,577 2578.1,579.1" stroke-width="0" stroke="none" fill="#8f7a66"/>
<polygon points="2582.9,373.3 2587.9,369.9 2587.9,574.7 2582.9,577" stroke-width="0" stroke="none" fill="#2e2e2e"/>
<polygon points="2587.9,369.9 2592.4,366.9 2592.4,572.7 2587.9,574.7" stroke-width="0" stroke="none" fill="#8f7a66"/>
<polygon points="2592.4,366.9 2594,365.9 2594,572 2592.4,572.7" stroke-width="0" stroke="none" fill="#2b2b2b"/>
<g class="nb halo">
<text x="2296" y="668.6" font-size="8.3" textLength="85.2" lengthAdjust="spacingAndGlyphs" font-weight="bold" style="fill:#222">GENERAL WALL NOTES:</text>
<line x1="2296" y1="669.8" x2="2381.2" y2="669.8" stroke-width="0.8" stroke="#222"/>
<text x="2296.5" y="678.9" font-size="8.3" textLength="5.5" lengthAdjust="spacingAndGlyphs" font-weight="bold" style="fill:#333">1.</text>
<text x="2323" y="678.9" font-size="8.3" textLength="356.5" lengthAdjust="spacingAndGlyphs" font-weight="bold" style="fill:#333">REFER TO APPLICABLE CODES REQUIREMENTS TO ENSURE COMPLIANCE PRIOR TO CONSTRUCTION.</text>
<text x="2296.5" y="689.1" font-size="8.3" textLength="5.5" lengthAdjust="spacingAndGlyphs" font-weight="bold" style="fill:#333">2.</text>
<text x="2323" y="689.1" font-size="8.3" textLength="404.6" lengthAdjust="spacingAndGlyphs" font-weight="bold" style="fill:#333">FOR THE MOST UP-TO-DATE DETAILS, INCLUDING CONSTRUCTION VARIATIONS, REFER TO THE PUBLISHED DESIGN.</text>
<text x="2296.5" y="699.2" font-size="8.3" textLength="5.5" lengthAdjust="spacingAndGlyphs" font-weight="bold" style="fill:#333">3.</text>
<text x="2323" y="699.2" font-size="8.3" textLength="413" lengthAdjust="spacingAndGlyphs" font-weight="bold" style="fill:#333">WHERE DESIGN NO. INDICATES "PER", THE FIRE RATING IS BASED ON LABORATORY TEST DATA OF THE REFERENCED</text>
<text x="2323" y="709.4" font-size="8.3" textLength="140.2" lengthAdjust="spacingAndGlyphs" font-weight="bold" style="fill:#333">SIMILARLY CONSTRUCTED ASSEMBLIES.</text>
<text x="2296.5" y="719.5" font-size="8.3" textLength="5.5" lengthAdjust="spacingAndGlyphs" font-weight="bold" style="fill:#333">4.</text>
<text x="2323" y="719.5" font-size="8.3" textLength="409.2" lengthAdjust="spacingAndGlyphs" font-weight="bold" style="fill:#333">STUD SIZES AND INSULATION THICKNESS ARE MINIMUN UNLESS OTHERWISE STATED IN THE PUBLISHED ASSEMBLY.</text>
<text x="2296.5" y="729.7" font-size="8.3" textLength="5.5" lengthAdjust="spacingAndGlyphs" font-weight="bold" style="fill:#333">5.</text>
<text x="2323" y="729.7" font-size="8.3" textLength="380.5" lengthAdjust="spacingAndGlyphs" font-weight="bold" style="fill:#333">STUD AND FASTENER SPACINGS ARE MAXIMUM UNLESS OTHERWISE STATED IN THE PUBLISHED ASSEMBLY.</text>
<text x="2296.5" y="739.8" font-size="8.3" textLength="5.5" lengthAdjust="spacingAndGlyphs" font-weight="bold" style="fill:#333">6.</text>
<text x="2323" y="739.8" font-size="8.3" textLength="257.4" lengthAdjust="spacingAndGlyphs" font-weight="bold" style="fill:#333">PANEL ORIENTATION SHALL BE AS SPECIFIED IN THE PUBLISHED DESIGN.</text>
<text x="2296.5" y="750" font-size="8.3" textLength="5.5" lengthAdjust="spacingAndGlyphs" font-weight="bold" style="fill:#333">7.</text>
<text x="2323" y="750" font-size="8.3" textLength="239.7" lengthAdjust="spacingAndGlyphs" font-weight="bold" style="fill:#333">FIRE-RATINGS ARE FROM BOTH SIDES UNLESS OTHERWISE STATED.</text>
<text x="2296.5" y="760.1" font-size="8.3" textLength="5.5" lengthAdjust="spacingAndGlyphs" font-weight="bold" style="fill:#333">8.</text>
<text x="2323" y="760.1" font-size="8.3" textLength="404.6" lengthAdjust="spacingAndGlyphs" font-weight="bold" style="fill:#333">FIRE-RATINGS ARE MAINTAINED WITH ONE OR MORE OF THE FOLLOWING MODIFICATIONS: INCREASE STUD DEPTH,</text>
<text x="2323" y="770.3" font-size="8.3" textLength="391.5" lengthAdjust="spacingAndGlyphs" font-weight="bold" style="fill:#333">INCREASE STUD MATERIAL THICKNESS, DECREASE STUD SPACING, DECREASE FASTENER SPACING, INCREASE</text>
<text x="2323" y="780.4" font-size="8.3" textLength="162.6" lengthAdjust="spacingAndGlyphs" font-weight="bold" style="fill:#333">INSULATION THICKNESS UP TO CAVITY DEPTH.</text>
<text x="2296.5" y="790.6" font-size="8.3" textLength="5.5" lengthAdjust="spacingAndGlyphs" font-weight="bold" style="fill:#333">9.</text>
<text x="2323" y="790.6" font-size="8.3" textLength="372.5" lengthAdjust="spacingAndGlyphs" font-weight="bold" style="fill:#333">WHERE ACOUSTICAL PERFORMANCE IS PROVIDED IN AN ESTIMATED RANGE, THE VALUES ARE BASED ON</text>
<text x="2323" y="800.8" font-size="8.3" textLength="243.2" lengthAdjust="spacingAndGlyphs" font-weight="bold" style="fill:#333">LABORATORY TEST DATA OF SIMILARLY CONSTRUCTED ASSEMBLIES.</text>
<text x="2296.5" y="810.9" font-size="8.3" textLength="9.2" lengthAdjust="spacingAndGlyphs" font-weight="bold" style="fill:#333">10.</text>
<text x="2323" y="810.9" font-size="8.3" textLength="414.9" lengthAdjust="spacingAndGlyphs" font-weight="bold" style="fill:#333">SOUND-RATINGS ARE MAINTAINED WITH ONE OR MORE OF THE FOLLOWING MODIFICATIONS: INCREASE STUD DEPTH,</text>
<text x="2323" y="821.1" font-size="8.3" textLength="388.5" lengthAdjust="spacingAndGlyphs" font-weight="bold" style="fill:#333">DECREASE STUD MATERIAL THICKNESS, INCREASE STUD SPACING, INCREASE FASTENER SPACING, INCREASE</text>
<text x="2323" y="831.2" font-size="8.3" textLength="397.7" lengthAdjust="spacingAndGlyphs" font-weight="bold" style="fill:#333">INSULATION THICKNESS UP TO CAVITY DEPTH. MODIFICATIONS MUST NOT EXCEED LIMITATIONS OF FIRE RATING.</text>
<text x="2476.4" y="850.6" font-size="9" textLength="26" lengthAdjust="spacingAndGlyphs" font-weight="bold" style="fill:#222">ISSUE</text>
<text x="2476.4" y="861.6" font-size="9" textLength="41" lengthAdjust="spacingAndGlyphs" font-weight="bold" style="fill:#222">RECORD:</text>
<line x1="2476.4" y1="851.8" x2="2503" y2="851.8" stroke-width="0.8" stroke="#222"/>
<line x1="2476.4" y1="862.8" x2="2518" y2="862.8" stroke-width="0.8" stroke="#222"/>
<text x="2476.4" y="874.7" font-size="5.2" textLength="36" lengthAdjust="spacingAndGlyphs" font-weight="bold" style="fill:#444">Revision Date</text>
<text x="2476.4" y="901.4" font-size="5.2" textLength="60" lengthAdjust="spacingAndGlyphs" font-weight="bold" style="fill:#444">26/03/2021 1:27:57 PM</text>
<text x="2583.3" y="848.3" font-size="4.6" textLength="65" lengthAdjust="spacingAndGlyphs" font-weight="bold" font-style="italic" style="fill:#444">SHEET INFORMATION:</text>
</g>
<text x="2585.6" y="885" font-size="24" textLength="123.7" lengthAdjust="spacingAndGlyphs" style="fill:#111" class="nb">SN-AS-2-02</text>
<text x="2161.7" y="889" font-size="33.5" textLength="136.3" lengthAdjust="spacingAndGlyphs" style="fill:#111" class="nb">UL U336</text>
<g class="nb halo">
<text x="1645.6" y="863" font-size="19" textLength="29" lengthAdjust="spacingAndGlyphs" font-weight="bold" style="fill:#444">USG</text>
<text x="1706" y="863" font-size="19" textLength="29.5" lengthAdjust="spacingAndGlyphs" font-weight="bold" style="fill:#444">CGC</text>
<polygon points="1677.7,844 1688.9,848.8 1688.9,861.7 1677.7,855.9" stroke-width="0" stroke="none" fill="#c1272d"/>
<polygon points="1688.9,848.8 1702.7,852.1 1702.7,864.9 1688.9,861.7" stroke-width="0" stroke="none" fill="#55575a"/>
<polygon points="1682.5,857.8 1688.9,861.7 1702.7,864.9 1694.4,866.5" stroke-width="0" stroke="none" fill="#8a8c8e"/>
<text x="1657.8" y="877.7" font-size="5.8" textLength="48" lengthAdjust="spacingAndGlyphs" font-weight="bold" style="fill:#333">USG Corporation</text>
<text x="1657.8" y="884.3" font-size="5.8" textLength="63" lengthAdjust="spacingAndGlyphs" font-weight="bold" style="fill:#333">550 West Adams Street</text>
<text x="1657.8" y="890.9" font-size="5.8" textLength="61" lengthAdjust="spacingAndGlyphs" font-weight="bold" style="fill:#333">Chicago, IL 60661 USA</text>
<text x="1657.8" y="897.5" font-size="5.8" textLength="41" lengthAdjust="spacingAndGlyphs" font-weight="bold" style="fill:#333">www.USG.com</text>
<text x="1657.8" y="904.1" font-size="5.8" textLength="48" lengthAdjust="spacingAndGlyphs" font-weight="bold" style="fill:#333">T: 800 USG4YOU</text>
<text x="1745" y="848.5" font-size="4.2" textLength="200.3" lengthAdjust="spacingAndGlyphs" font-weight="bold" style="fill:#4a4a4a">DISCLAIMER: THE USG PRODUCT INFORMATION CONTAINED HEREIN ARE INTENDED FOR USE AS</text>
<text x="1745" y="853" font-size="4.2" textLength="209.9" lengthAdjust="spacingAndGlyphs" font-weight="bold" style="fill:#4a4a4a">PRODUCT REFERENCE MATERIAL BY ARCHITECTS, ENGINEERS, AND OTHER DESIGN PROFESSIONALS,</text>
<text x="1745" y="857.6" font-size="4.2" textLength="213.1" lengthAdjust="spacingAndGlyphs" font-weight="bold" style="fill:#4a4a4a">CONTRACTORS, BUILDING CODE OFFICIALS, OR OTHER COMPETENT CONSTRUCTION INDUSTRY TRADE</text>
<text x="1745" y="862.1" font-size="4.2" textLength="208.3" lengthAdjust="spacingAndGlyphs" font-weight="bold" style="fill:#4a4a4a">PROFESSIONALS HAVING AN INTEREST IN THE SELECTION, SPECIFICATION, AND USE OF PRODUCTS</text>
<text x="1745" y="866.7" font-size="4.2" textLength="213.1" lengthAdjust="spacingAndGlyphs" font-weight="bold" style="fill:#4a4a4a">MANUFACTURED BY THE SUBSIDIARIES OF USG CORPORATION. THE DRAWINGS ARE INTENDED SOLELY</text>
<text x="1745" y="871.2" font-size="4.2" textLength="211.5" lengthAdjust="spacingAndGlyphs" font-weight="bold" style="fill:#4a4a4a">AS TECHNICAL SUPPORT INCIDENT TO THE SALE AND USE OF USG PRODUCTS AND NOT INTENDED TO</text>
<text x="1745" y="875.8" font-size="4.2" textLength="174.7" lengthAdjust="spacingAndGlyphs" font-weight="bold" style="fill:#4a4a4a">BE A SUBSTITUTE FOR THE DESIGN REVIEW AND APPROVAL OF THE LICENSED DESIGN</text>
<text x="1745" y="880.4" font-size="4.2" textLength="200.3" lengthAdjust="spacingAndGlyphs" font-weight="bold" style="fill:#4a4a4a">PROFESSIONALS FOR THE PROJECT. THESE MATERIALS MAY BE PRINTED AND/OR TRANSFERRED</text>
<text x="1745" y="884.9" font-size="4.2" textLength="198.7" lengthAdjust="spacingAndGlyphs" font-weight="bold" style="fill:#4a4a4a">ELECTRONICALLY SOLELY AS NEEDED BY THE USER. BECAUSE CAD ELECTRONIC FILES AND BIM</text>
<text x="1745" y="889.5" font-size="4.2" textLength="213.1" lengthAdjust="spacingAndGlyphs" font-weight="bold" style="fill:#4a4a4a">(BUILDING INFORMATION MODELING) FILES CAN BE MODIFIED BY OTHER PARTIES, WITHOUT NOTICE OR</text>
<text x="1745" y="894" font-size="4.2" textLength="211.5" lengthAdjust="spacingAndGlyphs" font-weight="bold" style="fill:#4a4a4a">INDICATION OF SUCH MODIFICATIONS, MODIFICATION OF USG PRODUCT CAD DRAWINGS IS THE SOLE</text>
<text x="1745" y="898.5" font-size="4.2" textLength="102.6" lengthAdjust="spacingAndGlyphs" font-weight="bold" style="fill:#4a4a4a">RESPONSIBILITY OF THE DESIGN PROFESSIONAL.</text>
</g>
<g stroke="#484848">
<rect x="200.9" y="468.5" width="337.3" height="8.5" stroke-width="1.1"/>
<line x1="200.9" y1="472.2" x2="538.2" y2="472.2" stroke-width="0.8"/>
<line x1="214.7" y1="477" x2="214.7" y2="707.5"/>
<line x1="218.7" y1="477" x2="218.7" y2="707.5"/>
<line x1="255.4" y1="477" x2="255.4" y2="707.5"/>
<line x1="259.3" y1="477" x2="259.3" y2="707.5"/>
<line x1="449.2" y1="477" x2="449.2" y2="707.5"/>
<line x1="453.2" y1="477" x2="453.2" y2="707.5"/>
<line x1="488.3" y1="477" x2="488.3" y2="707.5"/>
<line x1="492.2" y1="477" x2="492.2" y2="707.5"/>
<line x1="527" y1="477" x2="527" y2="707.5"/>
<line x1="531" y1="477" x2="531" y2="707.5"/>
<line x1="293.3" y1="477" x2="293.3" y2="707.5"/>
<line x1="297.3" y1="477" x2="297.3" y2="707.5"/>
<line x1="333.2" y1="477" x2="333.2" y2="521.6"/>
<line x1="337.2" y1="477" x2="337.2" y2="521.6"/>
<line x1="333.2" y1="626.5" x2="333.2" y2="707.5"/>
<line x1="337.2" y1="626.5" x2="337.2" y2="707.5"/>
<line x1="372.7" y1="477" x2="372.7" y2="521.6"/>
<line x1="376.7" y1="477" x2="376.7" y2="521.6"/>
<line x1="372.7" y1="626.5" x2="372.7" y2="707.5"/>
<line x1="376.7" y1="626.5" x2="376.7" y2="707.5"/>
<line x1="411.2" y1="477" x2="411.2" y2="521.6"/>
<line x1="415.2" y1="477" x2="415.2" y2="521.6"/>
<line x1="411.2" y1="626.5" x2="411.2" y2="707.5"/>
<line x1="415.2" y1="626.5" x2="415.2" y2="707.5"/>
<rect x="297.8" y="521.6" width="151.4" height="13.3" stroke-width="1.1"/>
<line x1="297.8" y1="534.9" x2="297.8" y2="707.5"/>
<line x1="301.8" y1="534.9" x2="301.8" y2="707.5"/>
<line x1="445.2" y1="534.9" x2="445.2" y2="707.5"/>
<line x1="449.2" y1="534.9" x2="449.2" y2="707.5"/>
<rect x="301.8" y="622.5" width="143.4" height="4"/>
<rect x="200.9" y="707.5" width="334.6" height="3.7" stroke-width="1.1"/>
<line x1="200.9" y1="736.7" x2="535.5" y2="736.7" stroke-width="1.2"/>
<line x1="200.9" y1="711.2" x2="200.9" y2="736.7"/>
<line x1="535.5" y1="711.2" x2="535.5" y2="736.7"/>
<line x1="215" y1="711.2" x2="215" y2="736.7"/>
<line x1="218.4" y1="711.2" x2="218.4" y2="736.7"/>
<polyline points="215,714.7 218.4,722.7 215,730.6" stroke-width="0.7"/>
<line x1="255.6" y1="711.2" x2="255.6" y2="736.7"/>
<line x1="259.1" y1="711.2" x2="259.1" y2="736.7"/>
<polyline points="255.6,714.7 259.1,722.7 255.6,730.6" stroke-width="0.7"/>
<line x1="293.6" y1="711.2" x2="293.6" y2="736.7"/>
<line x1="297.1" y1="711.2" x2="297.1" y2="736.7"/>
<polyline points="293.6,714.7 297.1,722.7 293.6,730.6" stroke-width="0.7"/>
<line x1="333.4" y1="711.2" x2="333.4" y2="736.7"/>
<line x1="336.9" y1="711.2" x2="336.9" y2="736.7"/>
<polyline points="333.4,714.7 336.9,722.7 333.4,730.6" stroke-width="0.7"/>
<line x1="373" y1="711.2" x2="373" y2="736.7"/>
<line x1="376.5" y1="711.2" x2="376.5" y2="736.7"/>
<polyline points="373,714.7 376.5,722.7 373,730.6" stroke-width="0.7"/>
<line x1="411.5" y1="711.2" x2="411.5" y2="736.7"/>
<line x1="415" y1="711.2" x2="415" y2="736.7"/>
<polyline points="411.5,714.7 415,722.7 411.5,730.6" stroke-width="0.7"/>
<line x1="449.5" y1="711.2" x2="449.5" y2="736.7"/>
<line x1="452.9" y1="711.2" x2="452.9" y2="736.7"/>
<polyline points="449.5,714.7 452.9,722.7 449.5,730.6" stroke-width="0.7"/>
<line x1="488.5" y1="711.2" x2="488.5" y2="736.7"/>
<line x1="492" y1="711.2" x2="492" y2="736.7"/>
<polyline points="488.5,714.7 492,722.7 488.5,730.6" stroke-width="0.7"/>
<line x1="527.3" y1="711.2" x2="527.3" y2="736.7"/>
<line x1="530.8" y1="711.2" x2="530.8" y2="736.7"/>
<polyline points="527.3,714.7 530.8,722.7 527.3,730.6" stroke-width="0.7"/>
<path d="M206.2 735.1 a3 3 0 0 1 6 0 z" stroke-width="0.8"/>
<path d="M339.5 735.1 a3 3 0 0 1 6 0 z" stroke-width="0.8"/>
<rect x="270" y="447.8" width="11.4" height="204.5" stroke-width="1.1" fill="#fff"/>
<path d="M270 449.1 q5.6 -3.7 11.4 0" stroke-width="0.8"/>
<path d="M270 651 q5.6 3.7 11.4 0" stroke-width="0.8"/>
<line x1="272.6" y1="450.5" x2="272.6" y2="649.6" stroke-width="0.5"/>
<polyline points="232.8,447.3 251.4,469.6" stroke-width="0.9" stroke="#484848"/>
<polygon points="251.4,469.6 246.5,465.9 248.6,464.1" fill="#484848" stroke="none"/>
<polyline points="301.8,446.5 284.6,469.6" stroke-width="0.9" stroke="#484848"/>
<polygon points="284.6,469.6 287,463.9 289.3,465.6" fill="#484848" stroke="none"/>
<polyline points="491.7,435.9 458.5,466.4" stroke-width="0.9" stroke="#484848"/>
<polygon points="458.5,466.4 462,461.3 463.9,463.4" fill="#484848" stroke="none"/>
<polyline points="211.5,530.1 270,476.5" stroke-width="0.9" stroke="#484848"/>
<polygon points="270,476.5 266.5,481.6 264.6,479.5" fill="#484848" stroke="none"/>
<polyline points="540.8,548.7 441.3,525.3" stroke-width="0.9" stroke="#484848"/>
<polygon points="441.3,525.3 447.4,525.4 446.8,528.1" fill="#484848" stroke="none"/>
<polyline points="185,611.1 214.7,593.9" stroke-width="0.9" stroke="#484848"/>
<polygon points="214.7,593.9 210.2,598.1 208.8,595.7" fill="#484848" stroke="none"/>
<polyline points="199.6,688.1 232.8,708.1" stroke-width="0.9" stroke="#484848"/>
<polygon points="232.8,708.1 226.9,706.2 228.4,703.8" fill="#484848" stroke="none"/>
<polyline points="174.4,730.6 208.9,713.4" stroke-width="0.9" stroke="#484848"/>
<polygon points="208.9,713.4 204.1,717.3 202.9,714.8" fill="#484848" stroke="none"/>
<polyline points="548.8,673.5 501,735.1" stroke-width="0.9" stroke="#484848"/>
<polygon points="501,735.1 503.6,729.5 505.8,731.3" fill="#484848" stroke="none"/>
<polyline points="548.8,702.7 531.5,720" stroke-width="0.9" stroke="#484848"/>
<polygon points="531.5,720 534.8,714.8 536.8,716.8" fill="#484848" stroke="none"/>
<polyline points="339,582.7 303.2,582.7" stroke-width="0.9" stroke="#484848"/>
<polygon points="303.2,582.7 309.2,581.3 309.2,584.1" fill="#484848" stroke="none"/>
<polyline points="408.1,582.7 444.7,582.7" stroke-width="0.9" stroke="#484848"/>
<polygon points="444.7,582.7 438.7,584.1 438.7,581.3" fill="#484848" stroke="none"/>
</g>
<g class="gt halo">
<text x="152.6" y="449.1" font-size="7.4" textLength="76.7" lengthAdjust="spacingAndGlyphs" font-weight="bold" style="fill:#555">SINGLE OR DOUBLE</text>
<text x="152.6" y="457.9" font-size="7.4" textLength="42.2" lengthAdjust="spacingAndGlyphs" font-weight="bold" style="fill:#555">TOP PLATE</text>
<text x="304" y="442.5" font-size="7.4" textLength="72.8" lengthAdjust="spacingAndGlyphs" font-weight="bold" style="fill:#555">CUT PLATE TIED WITH</text>
<text x="304" y="451" font-size="7.4" textLength="77.5" lengthAdjust="spacingAndGlyphs" font-weight="bold" style="fill:#555">16 GAGE STEEL STRAP.</text>
<text x="304" y="459.5" font-size="7.4" textLength="77" lengthAdjust="spacingAndGlyphs" font-weight="bold" style="fill:#555">SEE SECTION R602.6.1.</text>
<text x="492.5" y="436.4" font-size="7.4" textLength="111.3" lengthAdjust="spacingAndGlyphs" font-weight="bold" style="fill:#555">STAGGER JOINTS 24 IN. OR</text>
<text x="492.5" y="444.6" font-size="7.4" textLength="82.9" lengthAdjust="spacingAndGlyphs" font-weight="bold" style="fill:#555">USE SPLICE PLATES—</text>
<text x="492.5" y="453.1" font-size="7.4" textLength="86.8" lengthAdjust="spacingAndGlyphs" font-weight="bold" style="fill:#555">SEE SECTION R602.3.2</text>
<text x="130.5" y="533.3" font-size="7.4" textLength="79.7" lengthAdjust="spacingAndGlyphs" font-weight="bold" style="fill:#555">FIREBLOCK AROUND</text>
<text x="130.5" y="542.1" font-size="7.4" textLength="17.8" lengthAdjust="spacingAndGlyphs" font-weight="bold" style="fill:#555">PIPE</text>
<text x="543" y="554" font-size="7.4" textLength="39" lengthAdjust="spacingAndGlyphs" font-weight="bold" style="fill:#555">HEADER—</text>
<text x="543" y="562.8" font-size="7.4" textLength="83.7" lengthAdjust="spacingAndGlyphs" font-weight="bold" style="fill:#555">SEE TABLES R502.5(1)</text>
<text x="543" y="571.6" font-size="7.4" textLength="53.1" lengthAdjust="spacingAndGlyphs" font-weight="bold" style="fill:#555">AND R602.5(2)</text>
<text x="342.2" y="581.9" font-size="7.4" textLength="62.7" lengthAdjust="spacingAndGlyphs" font-weight="bold" style="fill:#555">JACK STUDS OR</text>
<text x="342.2" y="590.7" font-size="7.4" textLength="41.4" lengthAdjust="spacingAndGlyphs" font-weight="bold" style="fill:#555">TRIMMERS</text>
<text x="130.5" y="615.9" font-size="7.4" textLength="55.8" lengthAdjust="spacingAndGlyphs" font-weight="bold" style="fill:#555">WALL STUDS—</text>
<text x="130.5" y="624.7" font-size="7.4" textLength="78.9" lengthAdjust="spacingAndGlyphs" font-weight="bold" style="fill:#555">SEE SECTION R602.3</text>
<text x="165.1" y="690" font-size="7.4" textLength="33.2" lengthAdjust="spacingAndGlyphs" font-weight="bold" style="fill:#555">BOTTOM</text>
<text x="165.1" y="698.8" font-size="7.4" textLength="23.1" lengthAdjust="spacingAndGlyphs" font-weight="bold" style="fill:#555">PLATE</text>
<text x="131.3" y="734.6" font-size="7.4" textLength="43" lengthAdjust="spacingAndGlyphs" font-weight="bold" style="fill:#555">SUBFLOOR</text>
<text x="550.1" y="677" font-size="7.4" textLength="65.1" lengthAdjust="spacingAndGlyphs" font-weight="bold" style="fill:#555">SOLID BLOCKING</text>
<text x="550.1" y="706.2" font-size="7.4" textLength="56.3" lengthAdjust="spacingAndGlyphs" font-weight="bold" style="fill:#555">FLOOR JOISTS</text>
</g>
<text x="228.8" y="766" font-size="19.5" textLength="265.6" lengthAdjust="spacingAndGlyphs" class="ttl">WALL FRAMING DETAIL-1</text>
<line x1="228" y1="768.8" x2="495.5" y2="768.8" stroke-width="1.2"/>
<text x="229.5" y="774.5" font-size="4.6" textLength="12" lengthAdjust="spacingAndGlyphs" font-weight="bold">NTS</text>
<g stroke="#484848" stroke-width="1.05">
<polyline points="852.4,539.8 852.4,721.1" stroke-width="1.1"/>
<polyline points="854.8,539.1 854.8,719.7" stroke-width="1.1"/>
<polyline points="862.7,530.6 862.7,724.7" stroke-width="1.1"/>
<polyline points="866.2,528.4 866.2,722.5" stroke-width="1.1"/>
<polyline points="869.5,527.7 869.5,720.4" stroke-width="1.1"/>
<polyline points="869.8,706.9 1060.3,598.8" stroke-width="1.1"/>
<polyline points="866.9,724.7 1069.5,604.5" stroke-width="1.1"/>
<polyline points="857,732.5 1070.5,608.3" stroke-width="1.1"/>
<polyline points="1060.3,598.8 1070.2,604.5 1070.5,608.3" stroke-width="1.1"/>
<polyline points="847,724.7 850.6,721.8 862.7,726.1" stroke-width="1.1"/>
<polyline points="847,724.7 847,727.5 856.3,733.2 862.7,729.6" stroke-width="1.1"/>
<polyline points="869.8,654.3 989.2,587.4 997.7,592.4" stroke-width="1.1"/>
<polyline points="869.8,663.5 997.7,593.1" stroke-width="1.1"/>
<polyline points="869.8,668.5 997.7,598.1" stroke-width="1.1"/>
<polyline points="997.7,592.4 997.7,598.1" stroke-width="1.1"/>
<polyline points="899.6,652.9 899.6,689.1" stroke-width="1.1"/>
<polyline points="905,650 905,694.8" stroke-width="1.1"/>
<polyline points="910.3,647.2 910.3,695.5" stroke-width="1.1"/>
<polyline points="913.8,645 913.8,693.4" stroke-width="1.1"/>
<polyline points="899.6,689.1 905,694.8" stroke-width="1.1"/>
<polyline points="944.8,627.3 944.8,664.9" stroke-width="1.1"/>
<polyline points="950.1,625.1 950.1,669.9" stroke-width="1.1"/>
<polyline points="954.4,622.3 954.4,670.6" stroke-width="1.1"/>
<polyline points="957.2,620.9 957.2,668.5" stroke-width="1.1"/>
<polyline points="944.8,664.9 950.1,669.9" stroke-width="1.1"/>
<polyline points="913.8,683.4 945.1,665.6" stroke-width="1.1"/>
<polyline points="957.2,656.4 987.8,640.1" stroke-width="1.1"/>
<polyline points="869.8,704.7 899.6,689.1" stroke-width="1.1"/>
<polyline points="987.8,480.1 987.8,640.8" stroke-width="1.1"/>
<polyline points="996.3,478.7 996.3,646.5" stroke-width="1.1"/>
<polyline points="999.4,478.7 999.4,645.7" stroke-width="1.1"/>
<polyline points="1002.7,477.3 1002.7,640.1" stroke-width="1.1"/>
<polyline points="987.8,640.8 996.3,646.5" stroke-width="1.1"/>
<polyline points="1002.7,640.1 1030.4,623.7" stroke-width="1.1"/>
<polyline points="1031.1,400.5 1031.1,613.7" stroke-width="1.1"/>
<polyline points="1033.3,440.3 1033.3,614.5" stroke-width="1.1"/>
<polyline points="1039.7,438.9 1039.7,619.4" stroke-width="1.1"/>
<polyline points="1042.5,437.4 1042.5,618.7" stroke-width="1.1"/>
<polyline points="1045.4,437.4 1045.4,618" stroke-width="1.1"/>
<polyline points="1031.1,613.7 1039.7,619.4" stroke-width="1.1"/>
<polyline points="869.8,554.7 987.8,487.9" stroke-width="1.1"/>
<polyline points="869.8,562.6 987.8,495.7" stroke-width="1.1"/>
<polyline points="820.6,510.4 1043.1,384" stroke-width="1.1"/>
<polyline points="822.7,512.7 1044.8,386.4" stroke-width="1.1"/>
<polyline points="820.6,510.4 820.6,537.2" stroke-width="1.1"/>
<polyline points="822.7,512.7 822.7,536.1" stroke-width="1.1"/>
<polyline points="1043.1,384 1044.8,386.4 1044.8,406" stroke-width="1.1"/>
<polyline points="820.6,537.2 833,543.4" stroke-width="1.1"/>
<polyline points="833,537.2 867.3,524.1" stroke-width="1.1"/>
<polyline points="830.9,544.8 867.3,531.7" stroke-width="1.1"/>
<polyline points="829.1,548.9 864.6,536.1" stroke-width="1.1"/>
<polyline points="820.6,537.2 820.6,541.3 829.1,548.9" stroke-width="1.1"/>
<polyline points="833,537.2 833,543.4" stroke-width="1.1"/>
<polyline points="867.3,531.7 996.4,487.1" stroke-width="1.1"/>
<polyline points="867.3,537.2 996.4,497.4" stroke-width="1.1"/>
<polyline points="996.4,487.1 996.4,497.4" stroke-width="1.1"/>
<polyline points="982.7,483.6 996.4,487.1" stroke-width="1.1"/>
<polygon points="1025.3,397.1 1062.4,415.6 1062.4,443.1 1025.3,421.8" stroke-width="0.9" fill="#fff"/>
<polygon points="1062.4,415.6 1067.9,412.9 1067.9,440.4 1062.4,443.1" stroke-width="0.9" fill="#fff"/>
<polyline points="1025.3,397.1 1030.8,394.8 1067.9,412.9" stroke-width="1.1"/>
<polygon points="1020.1,399.1 1020.1,417 1023.9,425.2 1025.3,421.8 1025.3,397.1" stroke-width="0" stroke="none" fill="#444"/>
<polygon points="984.8,424.6 1021.8,443.1 1021.8,470.6 984.8,449.3" stroke-width="0.9" fill="#fff"/>
<polygon points="1021.8,443.1 1027.3,440.4 1027.3,467.8 1021.8,470.6" stroke-width="0.9" fill="#fff"/>
<polyline points="984.8,424.6 990.2,422.2 1027.3,440.4" stroke-width="1.1"/>
<polygon points="979.5,426.6 979.5,444.5 983.4,452.7 984.8,449.3 984.8,424.6" stroke-width="0" stroke="none" fill="#444"/>
<polygon points="942.9,447.9 979.9,466.5 979.9,493.9 942.9,472.6" stroke-width="0.9" fill="#fff"/>
<polygon points="979.9,466.5 985.4,463.7 985.4,491.2 979.9,493.9" stroke-width="0.9" fill="#fff"/>
<polyline points="942.9,447.9 948.4,445.6 985.4,463.7" stroke-width="1.1"/>
<polygon points="937.6,450 937.6,467.8 941.5,476.1 942.9,472.6 942.9,447.9" stroke-width="0" stroke="none" fill="#444"/>
<polygon points="903,471.3 940.1,489.8 940.1,517.3 903,496" stroke-width="0.9" fill="#fff"/>
<polygon points="940.1,489.8 945.6,487.1 945.6,514.5 940.1,517.3" stroke-width="0.9" fill="#fff"/>
<polyline points="903,471.3 908.5,468.9 945.6,487.1" stroke-width="1.1"/>
<polygon points="897.8,473.3 897.8,491.2 901.6,499.4 903,496 903,471.3" stroke-width="0" stroke="none" fill="#444"/>
<polygon points="861.8,495.3 898.9,513.8 898.9,541.3 861.8,520" stroke-width="0.9" fill="#fff"/>
<polygon points="898.9,513.8 904.4,511.1 904.4,538.6 898.9,541.3" stroke-width="0.9" fill="#fff"/>
<polyline points="861.8,495.3 867.3,493 904.4,511.1" stroke-width="1.1"/>
<polygon points="856.6,497.4 856.6,515.2 860.4,523.5 861.8,520 861.8,495.3" stroke-width="0" stroke="none" fill="#444"/>
<polyline points="889.3,502.9 898.9,497.4 909.9,503.5 900.3,509 889.3,502.9" stroke-width="1.1"/>
<polyline points="892,504.5 902.3,499" stroke-width="1.1"/>
<polyline points="894.8,506.2 905.1,500.7" stroke-width="1.1"/>
<polyline points="930.5,478.8 940.1,473.3 951.1,479.5 941.5,485 930.5,478.8" stroke-width="1.1"/>
<polyline points="933.2,480.5 943.5,475" stroke-width="1.1"/>
<polyline points="936,482.1 946.3,476.6" stroke-width="1.1"/>
<polyline points="971.7,454.8 981.3,449.3 992.3,455.5 982.7,461 971.7,454.8" stroke-width="1.1"/>
<polyline points="974.5,456.4 984.8,450.9" stroke-width="1.1"/>
<polyline points="977.2,458.1 987.5,452.6" stroke-width="1.1"/>
<polyline points="1012.2,431.4 1021.8,425.9 1032.8,432.1 1023.2,437.6 1012.2,431.4" stroke-width="1.1"/>
<polyline points="1015,433.1 1025.3,427.6" stroke-width="1.1"/>
<polyline points="1017.7,434.7 1028,429.2" stroke-width="1.1"/>
<polyline points="909.9,505.6 909.9,537.2" stroke-width="1.1"/>
<polyline points="913.3,504.2 913.3,536.5" stroke-width="1.1"/>
<polyline points="947,483.6 947,509.7" stroke-width="1.1"/>
<polyline points="953.8,480.9 953.8,509" stroke-width="1.1"/>
<polyline points="957.3,479.5 957.3,507" stroke-width="1.1"/>
</g>
<polyline points="996.7,358.4 982.5,445.1" stroke-width="0.9" stroke="#484848"/>
<polygon points="982.5,445.1 982.1,439 984.9,439.4" fill="#484848" stroke="none"/>
<polyline points="1059.3,381.1 1045.1,405.3" stroke-width="0.9" stroke="#484848"/>
<polygon points="1045.1,405.3 1046.9,399.4 1049.3,400.8" fill="#484848" stroke="none"/>
<polyline points="927.1,396.8 945.6,438" stroke-width="0.9" stroke="#484848"/>
<polygon points="945.6,438 941.8,433.1 944.4,432" fill="#484848" stroke="none"/>
<polyline points="887.3,433.7 911.4,456.5" stroke-width="0.9" stroke="#484848"/>
<polygon points="911.4,456.5 906.1,453.4 908,451.3" fill="#484848" stroke="none"/>
<polyline points="825.3,462.2 856,509.1" stroke-width="0.9" stroke="#484848"/>
<polygon points="856,509.1 851.5,504.8 853.9,503.3" fill="#484848" stroke="none"/>
<polyline points="796.9,486.3 844.6,507.7" stroke-width="0.9" stroke="#484848"/>
<polygon points="844.6,507.7 838.6,506.5 839.7,503.9" fill="#484848" stroke="none"/>
<polyline points="831.8,610 857.4,600.1" stroke-width="0.9" stroke="#484848"/>
<polygon points="857.4,600.1 852.3,603.5 851.3,600.9" fill="#484848" stroke="none"/>
<polyline points="1063.6,521.9 1052.2,521.9" stroke-width="0.9" stroke="#484848"/>
<path d="M1052.2 521.9 Q1026.6 575.9 995.3 594.4" stroke-width="0.9" stroke="#484848"/>
<polyline points="995.3,594.4 956.9,641.3" stroke-width="0.9" stroke="#484848"/>
<polygon points="956.9,641.3 959.7,635.8 961.8,637.5" fill="#484848" stroke="none"/>
<polyline points="1052.2,521.9 959.8,490.6" stroke-width="0.9" stroke="#484848"/>
<polygon points="959.8,490.6 965.9,491.2 965,493.8" fill="#484848" stroke="none"/>
<line x1="871.6" y1="593.5" x2="995.3" y2="522.4" stroke-width="0.9" stroke="#484848"/>
<polygon points="995.3,522.4 990.8,526.6 989.4,524.2" fill="#484848" stroke="none"/>
<polygon points="871.6,593.5 876.1,589.3 877.5,591.8" fill="#484848" stroke="none"/>
<polyline points="917.1,584.4 904.3,574.5" stroke-width="0.9" stroke="#484848"/>
<polygon points="904.3,574.5 909.9,577.1 908.2,579.3" fill="#484848" stroke="none"/>
<g class="gt halo">
<text x="932.8" y="345" font-size="8.3" textLength="203.3" lengthAdjust="spacingAndGlyphs" font-weight="bold" style="fill:#555">JOIST HANGER REQUIRED AT ENDS OF ALL</text>
<text x="932.8" y="356.1" font-size="8.3" textLength="164.9" lengthAdjust="spacingAndGlyphs" font-weight="bold" style="fill:#555">JOISTS WITHIN THE HEADER SPAN</text>
<text x="1055" y="369.2" font-size="8.3" textLength="32.1" lengthAdjust="spacingAndGlyphs" font-weight="bold" style="fill:#555">FLOOR</text>
<text x="1055" y="380.6" font-size="8.3" textLength="26.2" lengthAdjust="spacingAndGlyphs" font-weight="bold" style="fill:#555">JOIST</text>
<text x="926.5" y="388.2" font-size="8.3" textLength="158.4" lengthAdjust="spacingAndGlyphs" text-anchor="end" font-weight="bold" style="fill:#555">NO RIM BOARD HEADER SPLICES</text>
<text x="926.5" y="399.3" font-size="8.3" textLength="127.1" lengthAdjust="spacingAndGlyphs" text-anchor="end" font-weight="bold" style="fill:#555">WITHIN THE HEADER SPAN</text>
<text x="887.3" y="425.2" font-size="8.3" textLength="139.9" lengthAdjust="spacingAndGlyphs" text-anchor="end" font-weight="bold" style="fill:#555">SINGLE-PLY OR TWO-PLY RIM</text>
<text x="887.3" y="436" font-size="8.3" textLength="147" lengthAdjust="spacingAndGlyphs" text-anchor="end" font-weight="bold" style="fill:#555">BOARD HEADER AS REQUIRED</text>
<text x="825.3" y="453.1" font-size="8.3" textLength="170.6" lengthAdjust="spacingAndGlyphs" text-anchor="end" font-weight="bold" style="fill:#555">JOIST HANDER REQUIRED OUTSIDE</text>
<text x="825.3" y="463.9" font-size="8.3" textLength="176.9" lengthAdjust="spacingAndGlyphs" text-anchor="end" font-weight="bold" style="fill:#555">OF HEADER SPAN WHERE JOIST END</text>
<text x="825.3" y="474.4" font-size="8.3" textLength="158.7" lengthAdjust="spacingAndGlyphs" text-anchor="end" font-weight="bold" style="fill:#555">BEARING LENGTH IS &lt;1½ INCHES</text>
<text x="795.7" y="489.2" font-size="8.3" textLength="98.9" lengthAdjust="spacingAndGlyphs" text-anchor="end" font-weight="bold" style="fill:#555">RIM BOARD HEADER</text>
<text x="795.7" y="500.6" font-size="8.3" textLength="75.3" lengthAdjust="spacingAndGlyphs" text-anchor="end" font-weight="bold" style="fill:#555">END OR SPLICE</text>
<text x="795.7" y="511.1" font-size="8.3" textLength="109.5" lengthAdjust="spacingAndGlyphs" text-anchor="end" font-weight="bold" style="fill:#555">6 INCHES PAST OUTER</text>
<text x="795.7" y="521.9" font-size="8.3" textLength="91.6" lengthAdjust="spacingAndGlyphs" text-anchor="end" font-weight="bold" style="fill:#555">FULL HEIGHT STUD</text>
<text x="1066.4" y="526.1" font-size="8.3" textLength="41.2" lengthAdjust="spacingAndGlyphs" font-weight="bold" style="fill:#555">CRIPPLE</text>
<text x="890.1" y="594.4" font-size="8.3" textLength="68.2" lengthAdjust="spacingAndGlyphs" font-weight="bold" style="fill:#555">HEADER SPAN</text>
<text x="831.8" y="615.7" font-size="8.3" textLength="96.7" lengthAdjust="spacingAndGlyphs" text-anchor="end" font-weight="bold" style="fill:#555">ONE OR MORE FULL</text>
<text x="831.8" y="626.2" font-size="8.3" textLength="95.3" lengthAdjust="spacingAndGlyphs" text-anchor="end" font-weight="bold" style="fill:#555">HEIGHT STUDS PER</text>
<text x="831.8" y="637" font-size="8.3" textLength="86.7" lengthAdjust="spacingAndGlyphs" text-anchor="end" font-weight="bold" style="fill:#555">SECTION R602.7.2</text>
</g>
<text x="742.6" y="766" font-size="19.5" textLength="273" lengthAdjust="spacingAndGlyphs" class="ttl">WALL FRAMING DETAIL-2</text>
<line x1="741.5" y1="768.8" x2="1016.5" y2="768.8" stroke-width="1.2"/>
<text x="743" y="774.5" font-size="4.6" textLength="12" lengthAdjust="spacingAndGlyphs" font-weight="bold">NTS</text>
<g stroke="#484848" stroke-width="1.05">
<polyline points="1299.7,455.9 1299.7,722.4" stroke-width="1.1"/>
<polyline points="1307.7,451.1 1307.7,717.6" stroke-width="1.1"/>
<polyline points="1313.4,447.7 1313.4,714.2" stroke-width="1.1"/>
<polyline points="1299.7,722.4 1307.7,717.6" stroke-width="1.1"/>
<polyline points="1340.4,431.5 1340.4,698.3" stroke-width="1.1"/>
<polyline points="1348.4,426.7 1348.4,693.4" stroke-width="1.1"/>
<polyline points="1354.1,423.2 1354.1,690" stroke-width="1.1"/>
<polyline points="1340.4,698.3 1348.4,693.4" stroke-width="1.1"/>
<polyline points="1378.8,407.6 1378.8,675.5" stroke-width="1.1"/>
<polyline points="1386.8,402.8 1386.8,670.7" stroke-width="1.1"/>
<polyline points="1392.5,399.4 1392.5,667.3" stroke-width="1.1"/>
<polyline points="1378.8,675.5 1386.8,670.7" stroke-width="1.1"/>
<polyline points="1418.6,383.1 1418.6,651.3" stroke-width="1.1"/>
<polyline points="1426.6,378.3 1426.6,646.5" stroke-width="1.1"/>
<polyline points="1432.3,374.9 1432.3,643.1" stroke-width="1.1"/>
<polyline points="1418.6,651.3 1426.6,646.5" stroke-width="1.1"/>
<polyline points="1455.6,360.4 1455.6,629.4" stroke-width="1.1"/>
<polyline points="1463.6,355.6 1463.6,624.6" stroke-width="1.1"/>
<polyline points="1469.3,352.1 1469.3,621.2" stroke-width="1.1"/>
<polyline points="1455.6,629.4 1463.6,624.6" stroke-width="1.1"/>
<polygon points="1286.4,440.9 1468.4,330.8 1480.6,335.6 1480.6,347.9 1299.7,455.9 1286.4,452.3" stroke-width="0.9" fill="#fff"/>
<polyline points="1286.4,440.9 1299.7,445.1 1480.6,335.6" stroke-width="1.1"/>
<polyline points="1299.7,445.1 1299.7,455.9" stroke-width="1.1"/>
<polyline points="1286.4,446.6 1299.7,450.3 1480.6,341.6" stroke-width="1.1"/>
<polygon points="1286.4,727.3 1469.3,617.2 1480.6,622 1480.6,628.6 1299.7,737.5 1286.4,733" stroke-width="0.9" fill="#fff"/>
<polyline points="1286.4,727.3 1299.7,732.4 1480.6,622" stroke-width="1.1"/>
<polyline points="1299.7,732.4 1299.7,737.5" stroke-width="1.1"/>
<polygon points="1299.7,705.4 1299.7,722.4 1307.7,717.6 1313.4,714.2 1313.4,697.1" stroke-width="0" stroke="none" fill="#fff"/>
<polyline points="1299.7,705.4 1299.7,722.4 1307.7,717.6 1307.7,700.5" stroke-width="1.1"/>
<polyline points="1307.7,717.6 1313.4,714.2 1313.4,697.1" stroke-width="1.1"/>
<polygon points="1340.4,681.2 1340.4,698.3 1348.4,693.4 1354.1,690 1354.1,673" stroke-width="0" stroke="none" fill="#fff"/>
<polyline points="1340.4,681.2 1340.4,698.3 1348.4,693.4 1348.4,676.4" stroke-width="1.1"/>
<polyline points="1348.4,693.4 1354.1,690 1354.1,673" stroke-width="1.1"/>
<polygon points="1378.8,658.5 1378.8,675.5 1386.8,670.7 1392.5,667.3 1392.5,650.2" stroke-width="0" stroke="none" fill="#fff"/>
<polyline points="1378.8,658.5 1378.8,675.5 1386.8,670.7 1386.8,653.6" stroke-width="1.1"/>
<polyline points="1386.8,670.7 1392.5,667.3 1392.5,650.2" stroke-width="1.1"/>
<polygon points="1418.6,634.3 1418.6,651.3 1426.6,646.5 1432.3,643.1 1432.3,626" stroke-width="0" stroke="none" fill="#fff"/>
<polyline points="1418.6,634.3 1418.6,651.3 1426.6,646.5 1426.6,629.4" stroke-width="1.1"/>
<polyline points="1426.6,646.5 1432.3,643.1 1432.3,626" stroke-width="1.1"/>
<polygon points="1455.6,612.4 1455.6,629.4 1463.6,624.6 1469.3,621.2 1469.3,604.1" stroke-width="0" stroke="none" fill="#fff"/>
<polyline points="1455.6,612.4 1455.6,629.4 1463.6,624.6 1463.6,607.5" stroke-width="1.1"/>
<polyline points="1463.6,624.6 1469.3,621.2 1469.3,604.1" stroke-width="1.1"/>
<circle cx="1304.3" cy="530.5" r="2.6" stroke-width="1.1"/>
<circle cx="1344.7" cy="617.2" r="2.6" stroke-width="1.1"/>
<circle cx="1383.9" cy="635.7" r="2.6" stroke-width="1.1"/>
<circle cx="1424.3" cy="612.9" r="2.6" stroke-width="1.1"/>
<polyline points="1307.7,630 1311.1,630 1311.1,638.5 1308.3,641.4 1311.1,644.2 1311.1,649.9 1307.7,649.9" stroke-width="1.1"/>
<polyline points="1340.4,610.1 1348.4,610.1" stroke-width="1.1"/>
<polyline points="1348.4,610.1 1354.6,606.7" stroke-width="1.1"/>
<polyline points="1340.4,622.9 1348.4,622.9 1354.6,619.5" stroke-width="1.1"/>
<polyline points="1293.5,533.3 1321.9,543.3" stroke-width="1.1"/>
<polyline points="1302,531.9 1306.3,544.7" stroke-width="1.1"/>
<polyline points="1311.1,532.7 1313.4,546.1" stroke-width="1.1"/>
<polyline points="1414.4,591.6 1441.4,601.6" stroke-width="1.1"/>
<polyline points="1422.9,590.2 1424.9,604.4" stroke-width="1.1"/>
<polyline points="1429.4,591.6 1430.9,605.8" stroke-width="1.1"/>
<polyline points="1293.5,622 1320.5,630.6" stroke-width="1.1"/>
<polyline points="1303.4,621.5 1305.4,632.9" stroke-width="1.1"/>
<polyline points="1311.1,622.9 1312.8,634.3" stroke-width="1.1"/>
</g>
<polyline points="1294.9,412.4 1310.6,426.7" stroke-width="0.9" stroke="#484848"/>
<polygon points="1310.6,426.7 1305.2,423.7 1307.1,421.6" fill="#484848" stroke="none"/>
<polyline points="1475.5,490.6 1458.5,502" stroke-width="0.9" stroke="#484848"/>
<polygon points="1458.5,502 1462.7,497.5 1464.2,499.9" fill="#484848" stroke="none"/>
<polyline points="1286.4,514.8 1302,527.6" stroke-width="0.9" stroke="#484848"/>
<polygon points="1302,527.6 1296.5,524.9 1298.3,522.7" fill="#484848" stroke="none"/>
<polyline points="1282.1,556.1 1304.9,542.4" stroke-width="0.9" stroke="#484848"/>
<polygon points="1304.9,542.4 1300.4,546.7 1299,544.3" fill="#484848" stroke="none"/>
<polyline points="1476.9,568.9 1428.6,595.9" stroke-width="0.9" stroke="#484848"/>
<polygon points="1428.6,595.9 1433.1,591.7 1434.5,594.2" fill="#484848" stroke="none"/>
<polyline points="1282.1,642.8 1306.3,628.6" stroke-width="0.9" stroke="#484848"/>
<polygon points="1306.3,628.6 1301.8,632.8 1300.4,630.4" fill="#484848" stroke="none"/>
<polyline points="1286.4,681.2 1343.3,618.6" stroke-width="0.9" stroke="#484848"/>
<polygon points="1343.3,618.6 1340.3,624 1338.2,622.1" fill="#484848" stroke="none"/>
<g class="gt halo">
<text x="1251.7" y="413" font-size="6.6" textLength="42.4" lengthAdjust="spacingAndGlyphs" font-weight="bold" style="fill:#555">TOP PLATES</text>
<text x="1477.8" y="492.6" font-size="6.6" textLength="19.9" lengthAdjust="spacingAndGlyphs" font-weight="bold" style="fill:#555">STUD</text>
<text x="1203" y="514.5" font-size="6.6" textLength="64.8" lengthAdjust="spacingAndGlyphs" font-weight="bold" style="fill:#555">BORED HOLE MAX.</text>
<text x="1203" y="522.5" font-size="6.6" textLength="81.3" lengthAdjust="spacingAndGlyphs" font-weight="bold" style="fill:#555">DIAMETER 60 PERCENT</text>
<text x="1203" y="530.5" font-size="6.6" textLength="56.3" lengthAdjust="spacingAndGlyphs" font-weight="bold" style="fill:#555">OF STUD DEPTH</text>
<text x="1211.6" y="560.3" font-size="6.6" textLength="70" lengthAdjust="spacingAndGlyphs" font-weight="bold" style="fill:#555">⅝ IN. MIN. TO EDGE</text>
<text x="1478.9" y="570.3" font-size="6.6" textLength="69.1" lengthAdjust="spacingAndGlyphs" font-weight="bold" style="fill:#555">⅝ IN. MIN. TO EDGE</text>
<text x="1179.7" y="649.1" font-size="6.6" textLength="95.3" lengthAdjust="spacingAndGlyphs" font-weight="bold" style="fill:#555">NOTCH MUST NOT EXCEED</text>
<text x="1179.7" y="657" font-size="6.6" textLength="103" lengthAdjust="spacingAndGlyphs" font-weight="bold" style="fill:#555">40 PERCENT OF STUD DEPTH</text>
<text x="1178.9" y="685.5" font-size="6.6" textLength="103.2" lengthAdjust="spacingAndGlyphs" font-weight="bold" style="fill:#555">BORED HOLES SHALL NOT BE</text>
<text x="1178.9" y="693.4" font-size="6.6" textLength="106.7" lengthAdjust="spacingAndGlyphs" font-weight="bold" style="fill:#555">LOCATED IN THE SAME CROSS</text>
<text x="1178.9" y="701.4" font-size="6.6" textLength="107.5" lengthAdjust="spacingAndGlyphs" font-weight="bold" style="fill:#555">SECTION OF CUT OR NOTCH IN</text>
<text x="1178.9" y="709.4" font-size="6.6" textLength="18.5" lengthAdjust="spacingAndGlyphs" font-weight="bold" style="fill:#555">STUD</text>
</g>
<text x="1134.8" y="766.5" font-size="19.5" textLength="453.1" lengthAdjust="spacingAndGlyphs" class="ttl">WALL FRAMING HOLE ALLOWANCE DETAIL</text>
<line x1="1133.5" y1="769.4" x2="1589" y2="769.4" stroke-width="1.2"/>
<text x="1135" y="775.5" font-size="4.6" textLength="12" lengthAdjust="spacingAndGlyphs" font-weight="bold">NTS</text>
</svg>
</body></html>
